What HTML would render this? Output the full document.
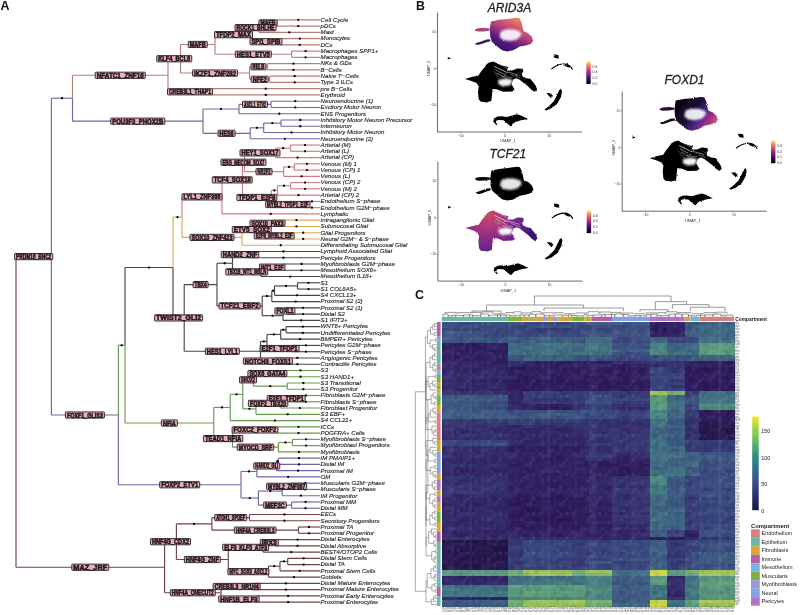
<!DOCTYPE html><html><head><meta charset="utf-8"><style>
*{margin:0;padding:0}
html,body{width:800px;height:615px;background:#fff;overflow:hidden}
svg{display:block;filter:blur(0.35px)}
text{font-family:"Liberation Sans",sans-serif}
.lf{font-style:italic;font-size:6.1px;fill:#1c1c1c;stroke:#1c1c1c;stroke-width:0.12px}
.bt{font-size:7px;fill:#1e1418;stroke:#1e1418;stroke-width:0.5px;text-anchor:middle;font-weight:bold}
.bx{fill:#e6b0b9;stroke:#1a1214;stroke-width:0.85}
.tk{font-size:3.4px;fill:#333}
.ax{font-size:3.9px;fill:#333}
.ttl{font-style:italic;font-size:12px;fill:#222;stroke:#222;stroke-width:0.3px}
.pl{font-weight:bold;font-size:12.4px;fill:#111}
.lg{font-size:5.5px;fill:#222}
</style></head><body>
<svg width="800" height="615" viewBox="0 0 800 615">
<defs>
<linearGradient id="gA" x1="0.2" y1="1" x2="0.8" y2="0">
 <stop offset="0" stop-color="#2a0c62"/><stop offset="0.3" stop-color="#5a1a82"/><stop offset="0.55" stop-color="#b03e7c"/><stop offset="0.8" stop-color="#e06a6a"/><stop offset="1" stop-color="#f0a45c"/></linearGradient>
<radialGradient id="gT" gradientUnits="userSpaceOnUse" cx="487" cy="222" r="48" fx="489" fy="213">
 <stop offset="0" stop-color="#cc4a64"/><stop offset="0.3" stop-color="#a8347a"/><stop offset="0.55" stop-color="#76288e"/><stop offset="1" stop-color="#361670"/></radialGradient>
<linearGradient id="gF" x1="0" y1="0.2" x2="1" y2="0.8">
 <stop offset="0" stop-color="#0a0410"/><stop offset="0.4" stop-color="#1a0a30"/><stop offset="0.62" stop-color="#4a2688"/><stop offset="0.82" stop-color="#a83482"/><stop offset="1" stop-color="#e8705e"/></linearGradient>
<linearGradient id="gL" x1="0" y1="1" x2="0" y2="0">
 <stop offset="0" stop-color="#000004"/><stop offset="0.3" stop-color="#4a107a"/><stop offset="0.6" stop-color="#c0407a"/><stop offset="0.85" stop-color="#f8955a"/><stop offset="1" stop-color="#fcf4b0"/></linearGradient>
<filter id="bl" x="-50%" y="-50%" width="200%" height="200%"><feGaussianBlur stdDeviation="1.0"/></filter>
 <filter id="rough" x="-5%" y="-5%" width="110%" height="110%"><feTurbulence type="fractalNoise" baseFrequency="0.9" numOctaves="2" seed="4" result="n"/><feDisplacementMap in="SourceGraphic" in2="n" scale="2.0" xChannelSelector="R" yChannelSelector="G"/></filter>
<filter id="hnoise" x="0" y="0" width="100%" height="100%" color-interpolation-filters="sRGB"><feTurbulence type="fractalNoise" baseFrequency="0.28 0.3" numOctaves="1" seed="9" result="t"/><feColorMatrix in="t" type="matrix" values="0 0 0 0 1  0 0 0 0 1  0 0 0 0 1  1.6 0 0 0 -0.8" result="w"/><feColorMatrix in="t" type="matrix" values="0 0 0 0 0  0 0 0 0 0  0 0 0 0 0  -1.6 0 0 0 0.8" result="b"/><feMerge><feMergeNode in="w"/><feMergeNode in="b"/></feMerge></filter>
<filter id="bl2" x="-50%" y="-50%" width="200%" height="200%"><feGaussianBlur stdDeviation="0.8"/></filter>
</defs>
<text x="0.4" y="9.7" class="pl">A</text>
<text x="416.1" y="9.75" class="pl">B</text>
<text x="415.0" y="298.7" class="pl">C</text>
<g stroke-width="1.15" stroke-linecap="butt"><line x1="277.00" y1="22.93" x2="277.00" y2="19.80" stroke="#b57e78"/>
<line x1="277.00" y1="19.80" x2="320.30" y2="19.80" stroke="#b57e78"/>
<line x1="277.00" y1="22.93" x2="277.00" y2="26.06" stroke="#b57e78"/>
<line x1="277.00" y1="26.06" x2="320.30" y2="26.06" stroke="#b57e78"/>
<line x1="259.00" y1="27.63" x2="259.00" y2="22.93" stroke="#b57e78"/>
<line x1="259.00" y1="22.93" x2="277.00" y2="22.93" stroke="#b57e78"/>
<line x1="259.00" y1="27.63" x2="259.00" y2="32.32" stroke="#b57e78"/>
<line x1="259.00" y1="32.32" x2="320.30" y2="32.32" stroke="#b57e78"/>
<line x1="280.00" y1="41.72" x2="280.00" y2="38.59" stroke="#b57e78"/>
<line x1="280.00" y1="38.59" x2="320.30" y2="38.59" stroke="#b57e78"/>
<line x1="280.00" y1="41.72" x2="280.00" y2="44.85" stroke="#b57e78"/>
<line x1="280.00" y1="44.85" x2="320.30" y2="44.85" stroke="#b57e78"/>
<line x1="252.00" y1="34.67" x2="252.00" y2="27.63" stroke="#b57e78"/>
<line x1="252.00" y1="27.63" x2="259.00" y2="27.63" stroke="#b57e78"/>
<line x1="252.00" y1="34.67" x2="252.00" y2="41.72" stroke="#b57e78"/>
<line x1="252.00" y1="41.72" x2="280.00" y2="41.72" stroke="#b57e78"/>
<line x1="291.60" y1="54.24" x2="291.60" y2="51.11" stroke="#b57e78"/>
<line x1="291.60" y1="51.11" x2="320.30" y2="51.11" stroke="#b57e78"/>
<line x1="291.60" y1="54.24" x2="291.60" y2="57.37" stroke="#b57e78"/>
<line x1="291.60" y1="57.37" x2="320.30" y2="57.37" stroke="#b57e78"/>
<line x1="215.00" y1="44.46" x2="215.00" y2="34.67" stroke="#b57e78"/>
<line x1="215.00" y1="34.67" x2="252.00" y2="34.67" stroke="#b57e78"/>
<line x1="215.00" y1="44.46" x2="215.00" y2="54.24" stroke="#b57e78"/>
<line x1="215.00" y1="54.24" x2="291.60" y2="54.24" stroke="#b57e78"/>
<line x1="267.40" y1="66.77" x2="267.40" y2="63.63" stroke="#b57e78"/>
<line x1="267.40" y1="63.63" x2="320.30" y2="63.63" stroke="#b57e78"/>
<line x1="267.40" y1="66.77" x2="267.40" y2="69.90" stroke="#b57e78"/>
<line x1="267.40" y1="69.90" x2="320.30" y2="69.90" stroke="#b57e78"/>
<line x1="269.80" y1="79.29" x2="269.80" y2="76.16" stroke="#b57e78"/>
<line x1="269.80" y1="76.16" x2="320.30" y2="76.16" stroke="#b57e78"/>
<line x1="269.80" y1="79.29" x2="269.80" y2="82.42" stroke="#b57e78"/>
<line x1="269.80" y1="82.42" x2="320.30" y2="82.42" stroke="#b57e78"/>
<line x1="249.60" y1="73.03" x2="249.60" y2="66.77" stroke="#b57e78"/>
<line x1="249.60" y1="66.77" x2="267.40" y2="66.77" stroke="#b57e78"/>
<line x1="249.60" y1="73.03" x2="249.60" y2="79.29" stroke="#b57e78"/>
<line x1="249.60" y1="79.29" x2="269.80" y2="79.29" stroke="#b57e78"/>
<line x1="180.50" y1="58.74" x2="180.50" y2="44.46" stroke="#b57e78"/>
<line x1="180.50" y1="44.46" x2="215.00" y2="44.46" stroke="#b57e78"/>
<line x1="180.50" y1="58.74" x2="180.50" y2="73.03" stroke="#b57e78"/>
<line x1="180.50" y1="73.03" x2="249.60" y2="73.03" stroke="#b57e78"/>
<line x1="212.00" y1="91.81" x2="212.00" y2="88.68" stroke="#b57e78"/>
<line x1="212.00" y1="88.68" x2="320.30" y2="88.68" stroke="#b57e78"/>
<line x1="212.00" y1="91.81" x2="212.00" y2="94.94" stroke="#b57e78"/>
<line x1="212.00" y1="94.94" x2="320.30" y2="94.94" stroke="#b57e78"/>
<line x1="168.00" y1="75.28" x2="168.00" y2="58.74" stroke="#b57e78"/>
<line x1="168.00" y1="58.74" x2="180.50" y2="58.74" stroke="#b57e78"/>
<line x1="168.00" y1="75.28" x2="168.00" y2="91.81" stroke="#b57e78"/>
<line x1="168.00" y1="91.81" x2="212.00" y2="91.81" stroke="#b57e78"/>
<line x1="271.00" y1="104.34" x2="271.00" y2="101.21" stroke="#7464a8"/>
<line x1="271.00" y1="101.21" x2="320.30" y2="101.21" stroke="#7464a8"/>
<line x1="271.00" y1="104.34" x2="271.00" y2="107.47" stroke="#7464a8"/>
<line x1="271.00" y1="107.47" x2="320.30" y2="107.47" stroke="#7464a8"/>
<line x1="239.00" y1="109.03" x2="239.00" y2="104.34" stroke="#7464a8"/>
<line x1="239.00" y1="104.34" x2="271.00" y2="104.34" stroke="#7464a8"/>
<line x1="239.00" y1="109.03" x2="239.00" y2="113.73" stroke="#7464a8"/>
<line x1="239.00" y1="113.73" x2="320.30" y2="113.73" stroke="#7464a8"/>
<line x1="281.00" y1="123.12" x2="281.00" y2="119.99" stroke="#7464a8"/>
<line x1="281.00" y1="119.99" x2="320.30" y2="119.99" stroke="#7464a8"/>
<line x1="281.00" y1="123.12" x2="281.00" y2="126.25" stroke="#7464a8"/>
<line x1="281.00" y1="126.25" x2="320.30" y2="126.25" stroke="#7464a8"/>
<line x1="263.70" y1="127.82" x2="263.70" y2="123.12" stroke="#7464a8"/>
<line x1="263.70" y1="123.12" x2="281.00" y2="123.12" stroke="#7464a8"/>
<line x1="263.70" y1="127.82" x2="263.70" y2="132.52" stroke="#7464a8"/>
<line x1="263.70" y1="132.52" x2="320.30" y2="132.52" stroke="#7464a8"/>
<line x1="250.20" y1="133.30" x2="250.20" y2="127.82" stroke="#7464a8"/>
<line x1="250.20" y1="127.82" x2="263.70" y2="127.82" stroke="#7464a8"/>
<line x1="250.20" y1="133.30" x2="250.20" y2="138.78" stroke="#7464a8"/>
<line x1="250.20" y1="138.78" x2="320.30" y2="138.78" stroke="#7464a8"/>
<line x1="203.00" y1="121.17" x2="203.00" y2="109.03" stroke="#7464a8"/>
<line x1="203.00" y1="109.03" x2="239.00" y2="109.03" stroke="#7464a8"/>
<line x1="203.00" y1="121.17" x2="203.00" y2="133.30" stroke="#7464a8"/>
<line x1="203.00" y1="133.30" x2="250.20" y2="133.30" stroke="#7464a8"/>
<line x1="72.50" y1="98.22" x2="72.50" y2="75.28" stroke="#b57e78"/>
<line x1="72.50" y1="75.28" x2="168.00" y2="75.28" stroke="#b57e78"/>
<line x1="72.50" y1="98.22" x2="72.50" y2="121.17" stroke="#7464a8"/>
<line x1="72.50" y1="121.17" x2="203.00" y2="121.17" stroke="#7464a8"/>
<line x1="290.60" y1="148.17" x2="290.60" y2="145.04" stroke="#cf7c82"/>
<line x1="290.60" y1="145.04" x2="320.30" y2="145.04" stroke="#cf7c82"/>
<line x1="290.60" y1="148.17" x2="290.60" y2="151.30" stroke="#cf7c82"/>
<line x1="290.60" y1="151.30" x2="320.30" y2="151.30" stroke="#cf7c82"/>
<line x1="275.60" y1="152.87" x2="275.60" y2="148.17" stroke="#cf7c82"/>
<line x1="275.60" y1="148.17" x2="290.60" y2="148.17" stroke="#cf7c82"/>
<line x1="275.60" y1="152.87" x2="275.60" y2="157.56" stroke="#cf7c82"/>
<line x1="275.60" y1="157.56" x2="320.30" y2="157.56" stroke="#cf7c82"/>
<line x1="294.40" y1="166.96" x2="294.40" y2="163.83" stroke="#cf7c82"/>
<line x1="294.40" y1="163.83" x2="320.30" y2="163.83" stroke="#cf7c82"/>
<line x1="294.40" y1="166.96" x2="294.40" y2="170.09" stroke="#cf7c82"/>
<line x1="294.40" y1="170.09" x2="320.30" y2="170.09" stroke="#cf7c82"/>
<line x1="283.60" y1="171.65" x2="283.60" y2="166.96" stroke="#cf7c82"/>
<line x1="283.60" y1="166.96" x2="294.40" y2="166.96" stroke="#cf7c82"/>
<line x1="283.60" y1="171.65" x2="283.60" y2="176.35" stroke="#cf7c82"/>
<line x1="283.60" y1="176.35" x2="320.30" y2="176.35" stroke="#cf7c82"/>
<line x1="244.40" y1="162.26" x2="244.40" y2="152.87" stroke="#cf7c82"/>
<line x1="244.40" y1="152.87" x2="275.60" y2="152.87" stroke="#cf7c82"/>
<line x1="244.40" y1="162.26" x2="244.40" y2="171.65" stroke="#cf7c82"/>
<line x1="244.40" y1="171.65" x2="283.60" y2="171.65" stroke="#cf7c82"/>
<line x1="290.60" y1="185.74" x2="290.60" y2="182.61" stroke="#cf7c82"/>
<line x1="290.60" y1="182.61" x2="320.30" y2="182.61" stroke="#cf7c82"/>
<line x1="290.60" y1="185.74" x2="290.60" y2="188.87" stroke="#cf7c82"/>
<line x1="290.60" y1="188.87" x2="320.30" y2="188.87" stroke="#cf7c82"/>
<line x1="277.50" y1="190.44" x2="277.50" y2="185.74" stroke="#cf7c82"/>
<line x1="277.50" y1="185.74" x2="290.60" y2="185.74" stroke="#cf7c82"/>
<line x1="277.50" y1="190.44" x2="277.50" y2="195.14" stroke="#cf7c82"/>
<line x1="277.50" y1="195.14" x2="320.30" y2="195.14" stroke="#cf7c82"/>
<line x1="304.35" y1="204.53" x2="304.35" y2="201.40" stroke="#cf7c82"/>
<line x1="304.35" y1="201.40" x2="320.30" y2="201.40" stroke="#cf7c82"/>
<line x1="304.35" y1="204.53" x2="304.35" y2="207.66" stroke="#cf7c82"/>
<line x1="304.35" y1="207.66" x2="320.30" y2="207.66" stroke="#cf7c82"/>
<line x1="271.25" y1="197.48" x2="271.25" y2="190.44" stroke="#cf7c82"/>
<line x1="271.25" y1="190.44" x2="277.50" y2="190.44" stroke="#cf7c82"/>
<line x1="271.25" y1="197.48" x2="271.25" y2="204.53" stroke="#cf7c82"/>
<line x1="271.25" y1="204.53" x2="304.35" y2="204.53" stroke="#cf7c82"/>
<line x1="242.50" y1="179.87" x2="242.50" y2="162.26" stroke="#cf7c82"/>
<line x1="242.50" y1="162.26" x2="244.40" y2="162.26" stroke="#cf7c82"/>
<line x1="242.50" y1="179.87" x2="242.50" y2="197.48" stroke="#cf7c82"/>
<line x1="242.50" y1="197.48" x2="271.25" y2="197.48" stroke="#cf7c82"/>
<line x1="222.00" y1="196.90" x2="222.00" y2="179.87" stroke="#cf7c82"/>
<line x1="222.00" y1="179.87" x2="242.50" y2="179.87" stroke="#cf7c82"/>
<line x1="222.00" y1="196.90" x2="222.00" y2="213.92" stroke="#cf7c82"/>
<line x1="222.00" y1="213.92" x2="320.30" y2="213.92" stroke="#cf7c82"/>
<line x1="273.50" y1="223.31" x2="273.50" y2="220.18" stroke="#dcaa55"/>
<line x1="273.50" y1="220.18" x2="320.30" y2="220.18" stroke="#dcaa55"/>
<line x1="273.50" y1="223.31" x2="273.50" y2="226.45" stroke="#dcaa55"/>
<line x1="273.50" y1="226.45" x2="320.30" y2="226.45" stroke="#dcaa55"/>
<line x1="286.90" y1="235.84" x2="286.90" y2="232.71" stroke="#dcaa55"/>
<line x1="286.90" y1="232.71" x2="320.30" y2="232.71" stroke="#dcaa55"/>
<line x1="286.90" y1="235.84" x2="286.90" y2="238.97" stroke="#dcaa55"/>
<line x1="286.90" y1="238.97" x2="320.30" y2="238.97" stroke="#dcaa55"/>
<line x1="261.50" y1="229.58" x2="261.50" y2="223.31" stroke="#dcaa55"/>
<line x1="261.50" y1="223.31" x2="273.50" y2="223.31" stroke="#dcaa55"/>
<line x1="261.50" y1="229.58" x2="261.50" y2="235.84" stroke="#dcaa55"/>
<line x1="261.50" y1="235.84" x2="286.90" y2="235.84" stroke="#dcaa55"/>
<line x1="242.00" y1="237.40" x2="242.00" y2="229.58" stroke="#dcaa55"/>
<line x1="242.00" y1="229.58" x2="261.50" y2="229.58" stroke="#dcaa55"/>
<line x1="242.00" y1="237.40" x2="242.00" y2="245.23" stroke="#dcaa55"/>
<line x1="242.00" y1="245.23" x2="320.30" y2="245.23" stroke="#dcaa55"/>
<line x1="182.00" y1="217.15" x2="182.00" y2="196.90" stroke="#cf7c82"/>
<line x1="182.00" y1="196.90" x2="222.00" y2="196.90" stroke="#cf7c82"/>
<line x1="182.00" y1="217.15" x2="182.00" y2="237.40" stroke="#dcaa55"/>
<line x1="182.00" y1="237.40" x2="242.00" y2="237.40" stroke="#dcaa55"/>
<line x1="247.50" y1="254.62" x2="247.50" y2="251.49" stroke="#464646"/>
<line x1="247.50" y1="251.49" x2="320.30" y2="251.49" stroke="#464646"/>
<line x1="247.50" y1="254.62" x2="247.50" y2="257.76" stroke="#464646"/>
<line x1="247.50" y1="257.76" x2="320.30" y2="257.76" stroke="#464646"/>
<line x1="283.50" y1="267.15" x2="283.50" y2="264.02" stroke="#464646"/>
<line x1="283.50" y1="264.02" x2="320.30" y2="264.02" stroke="#464646"/>
<line x1="283.50" y1="267.15" x2="283.50" y2="270.28" stroke="#464646"/>
<line x1="283.50" y1="270.28" x2="320.30" y2="270.28" stroke="#464646"/>
<line x1="261.00" y1="271.85" x2="261.00" y2="267.15" stroke="#464646"/>
<line x1="261.00" y1="267.15" x2="283.50" y2="267.15" stroke="#464646"/>
<line x1="261.00" y1="271.85" x2="261.00" y2="276.54" stroke="#464646"/>
<line x1="261.00" y1="276.54" x2="320.30" y2="276.54" stroke="#464646"/>
<line x1="232.50" y1="263.24" x2="232.50" y2="254.62" stroke="#464646"/>
<line x1="232.50" y1="254.62" x2="247.50" y2="254.62" stroke="#464646"/>
<line x1="232.50" y1="263.24" x2="232.50" y2="271.85" stroke="#464646"/>
<line x1="232.50" y1="271.85" x2="261.00" y2="271.85" stroke="#464646"/>
<line x1="297.50" y1="285.93" x2="297.50" y2="282.80" stroke="#464646"/>
<line x1="297.50" y1="282.80" x2="320.30" y2="282.80" stroke="#464646"/>
<line x1="297.50" y1="285.93" x2="297.50" y2="289.07" stroke="#464646"/>
<line x1="297.50" y1="289.07" x2="320.30" y2="289.07" stroke="#464646"/>
<line x1="274.50" y1="290.63" x2="274.50" y2="285.93" stroke="#464646"/>
<line x1="274.50" y1="285.93" x2="297.50" y2="285.93" stroke="#464646"/>
<line x1="274.50" y1="290.63" x2="274.50" y2="295.33" stroke="#464646"/>
<line x1="274.50" y1="295.33" x2="320.30" y2="295.33" stroke="#464646"/>
<line x1="271.80" y1="296.11" x2="271.80" y2="290.63" stroke="#464646"/>
<line x1="271.80" y1="290.63" x2="274.50" y2="290.63" stroke="#464646"/>
<line x1="271.80" y1="296.11" x2="271.80" y2="301.59" stroke="#464646"/>
<line x1="271.80" y1="301.59" x2="320.30" y2="301.59" stroke="#464646"/>
<line x1="286.80" y1="310.98" x2="286.80" y2="307.85" stroke="#464646"/>
<line x1="286.80" y1="307.85" x2="320.30" y2="307.85" stroke="#464646"/>
<line x1="286.80" y1="310.98" x2="286.80" y2="314.11" stroke="#464646"/>
<line x1="286.80" y1="314.11" x2="320.30" y2="314.11" stroke="#464646"/>
<line x1="283.00" y1="315.68" x2="283.00" y2="310.98" stroke="#464646"/>
<line x1="283.00" y1="310.98" x2="286.80" y2="310.98" stroke="#464646"/>
<line x1="283.00" y1="315.68" x2="283.00" y2="320.38" stroke="#464646"/>
<line x1="283.00" y1="320.38" x2="320.30" y2="320.38" stroke="#464646"/>
<line x1="262.20" y1="305.90" x2="262.20" y2="296.11" stroke="#464646"/>
<line x1="262.20" y1="296.11" x2="271.80" y2="296.11" stroke="#464646"/>
<line x1="262.20" y1="305.90" x2="262.20" y2="315.68" stroke="#464646"/>
<line x1="262.20" y1="315.68" x2="283.00" y2="315.68" stroke="#464646"/>
<line x1="217.00" y1="284.57" x2="217.00" y2="263.24" stroke="#464646"/>
<line x1="217.00" y1="263.24" x2="232.50" y2="263.24" stroke="#464646"/>
<line x1="217.00" y1="284.57" x2="217.00" y2="305.90" stroke="#464646"/>
<line x1="217.00" y1="305.90" x2="262.20" y2="305.90" stroke="#464646"/>
<line x1="286.10" y1="329.77" x2="286.10" y2="326.64" stroke="#464646"/>
<line x1="286.10" y1="326.64" x2="320.30" y2="326.64" stroke="#464646"/>
<line x1="286.10" y1="329.77" x2="286.10" y2="332.90" stroke="#464646"/>
<line x1="286.10" y1="332.90" x2="320.30" y2="332.90" stroke="#464646"/>
<line x1="280.70" y1="334.47" x2="280.70" y2="329.77" stroke="#464646"/>
<line x1="280.70" y1="329.77" x2="286.10" y2="329.77" stroke="#464646"/>
<line x1="280.70" y1="334.47" x2="280.70" y2="339.16" stroke="#464646"/>
<line x1="280.70" y1="339.16" x2="320.30" y2="339.16" stroke="#464646"/>
<line x1="292.20" y1="348.55" x2="292.20" y2="345.42" stroke="#464646"/>
<line x1="292.20" y1="345.42" x2="320.30" y2="345.42" stroke="#464646"/>
<line x1="292.20" y1="348.55" x2="292.20" y2="351.69" stroke="#464646"/>
<line x1="292.20" y1="351.69" x2="320.30" y2="351.69" stroke="#464646"/>
<line x1="267.00" y1="341.51" x2="267.00" y2="334.47" stroke="#464646"/>
<line x1="267.00" y1="334.47" x2="280.70" y2="334.47" stroke="#464646"/>
<line x1="267.00" y1="341.51" x2="267.00" y2="348.55" stroke="#464646"/>
<line x1="267.00" y1="348.55" x2="292.20" y2="348.55" stroke="#464646"/>
<line x1="275.20" y1="361.08" x2="275.20" y2="357.95" stroke="#464646"/>
<line x1="275.20" y1="357.95" x2="320.30" y2="357.95" stroke="#464646"/>
<line x1="275.20" y1="361.08" x2="275.20" y2="364.21" stroke="#464646"/>
<line x1="275.20" y1="364.21" x2="320.30" y2="364.21" stroke="#464646"/>
<line x1="260.50" y1="351.29" x2="260.50" y2="341.51" stroke="#464646"/>
<line x1="260.50" y1="341.51" x2="267.00" y2="341.51" stroke="#464646"/>
<line x1="260.50" y1="351.29" x2="260.50" y2="361.08" stroke="#464646"/>
<line x1="260.50" y1="361.08" x2="275.20" y2="361.08" stroke="#464646"/>
<line x1="184.20" y1="317.93" x2="184.20" y2="284.57" stroke="#464646"/>
<line x1="184.20" y1="284.57" x2="217.00" y2="284.57" stroke="#464646"/>
<line x1="184.20" y1="317.93" x2="184.20" y2="351.29" stroke="#464646"/>
<line x1="184.20" y1="351.29" x2="260.50" y2="351.29" stroke="#464646"/>
<line x1="173.00" y1="267.54" x2="173.00" y2="217.15" stroke="#dcaa55"/>
<line x1="173.00" y1="217.15" x2="182.00" y2="217.15" stroke="#dcaa55"/>
<line x1="173.00" y1="267.54" x2="173.00" y2="317.93" stroke="#464646"/>
<line x1="173.00" y1="317.93" x2="184.20" y2="317.93" stroke="#464646"/>
<line x1="281.50" y1="373.60" x2="281.50" y2="370.47" stroke="#6a9a52"/>
<line x1="281.50" y1="370.47" x2="320.30" y2="370.47" stroke="#6a9a52"/>
<line x1="281.50" y1="373.60" x2="281.50" y2="376.73" stroke="#6a9a52"/>
<line x1="281.50" y1="376.73" x2="320.30" y2="376.73" stroke="#6a9a52"/>
<line x1="287.25" y1="386.13" x2="287.25" y2="383.00" stroke="#6a9a52"/>
<line x1="287.25" y1="383.00" x2="320.30" y2="383.00" stroke="#6a9a52"/>
<line x1="287.25" y1="386.13" x2="287.25" y2="389.26" stroke="#6a9a52"/>
<line x1="287.25" y1="389.26" x2="320.30" y2="389.26" stroke="#6a9a52"/>
<line x1="253.30" y1="379.86" x2="253.30" y2="373.60" stroke="#6a9a52"/>
<line x1="253.30" y1="373.60" x2="281.50" y2="373.60" stroke="#6a9a52"/>
<line x1="253.30" y1="379.86" x2="253.30" y2="386.13" stroke="#6a9a52"/>
<line x1="253.30" y1="386.13" x2="287.25" y2="386.13" stroke="#6a9a52"/>
<line x1="292.20" y1="398.65" x2="292.20" y2="395.52" stroke="#6a9a52"/>
<line x1="292.20" y1="395.52" x2="320.30" y2="395.52" stroke="#6a9a52"/>
<line x1="292.20" y1="398.65" x2="292.20" y2="401.78" stroke="#6a9a52"/>
<line x1="292.20" y1="401.78" x2="320.30" y2="401.78" stroke="#6a9a52"/>
<line x1="280.20" y1="403.35" x2="280.20" y2="398.65" stroke="#6a9a52"/>
<line x1="280.20" y1="398.65" x2="292.20" y2="398.65" stroke="#6a9a52"/>
<line x1="280.20" y1="403.35" x2="280.20" y2="408.04" stroke="#6a9a52"/>
<line x1="280.20" y1="408.04" x2="320.30" y2="408.04" stroke="#6a9a52"/>
<line x1="256.00" y1="408.83" x2="256.00" y2="403.35" stroke="#6a9a52"/>
<line x1="256.00" y1="403.35" x2="280.20" y2="403.35" stroke="#6a9a52"/>
<line x1="256.00" y1="408.83" x2="256.00" y2="414.31" stroke="#6a9a52"/>
<line x1="256.00" y1="414.31" x2="320.30" y2="414.31" stroke="#6a9a52"/>
<line x1="242.80" y1="394.35" x2="242.80" y2="379.86" stroke="#6a9a52"/>
<line x1="242.80" y1="379.86" x2="253.30" y2="379.86" stroke="#6a9a52"/>
<line x1="242.80" y1="394.35" x2="242.80" y2="408.83" stroke="#6a9a52"/>
<line x1="242.80" y1="408.83" x2="256.00" y2="408.83" stroke="#6a9a52"/>
<line x1="230.25" y1="407.46" x2="230.25" y2="394.35" stroke="#6a9a52"/>
<line x1="230.25" y1="394.35" x2="242.80" y2="394.35" stroke="#6a9a52"/>
<line x1="230.25" y1="407.46" x2="230.25" y2="420.57" stroke="#6a9a52"/>
<line x1="230.25" y1="420.57" x2="320.30" y2="420.57" stroke="#6a9a52"/>
<line x1="277.50" y1="429.96" x2="277.50" y2="426.83" stroke="#6a9a52"/>
<line x1="277.50" y1="426.83" x2="320.30" y2="426.83" stroke="#6a9a52"/>
<line x1="277.50" y1="429.96" x2="277.50" y2="433.09" stroke="#6a9a52"/>
<line x1="277.50" y1="433.09" x2="320.30" y2="433.09" stroke="#6a9a52"/>
<line x1="292.50" y1="442.49" x2="292.50" y2="439.35" stroke="#6a9a52"/>
<line x1="292.50" y1="439.35" x2="320.30" y2="439.35" stroke="#6a9a52"/>
<line x1="292.50" y1="442.49" x2="292.50" y2="445.62" stroke="#6a9a52"/>
<line x1="292.50" y1="445.62" x2="320.30" y2="445.62" stroke="#6a9a52"/>
<line x1="278.40" y1="447.18" x2="278.40" y2="442.49" stroke="#6a9a52"/>
<line x1="278.40" y1="442.49" x2="292.50" y2="442.49" stroke="#6a9a52"/>
<line x1="278.40" y1="447.18" x2="278.40" y2="451.88" stroke="#6a9a52"/>
<line x1="278.40" y1="451.88" x2="320.30" y2="451.88" stroke="#6a9a52"/>
<line x1="232.50" y1="438.57" x2="232.50" y2="429.96" stroke="#6a9a52"/>
<line x1="232.50" y1="429.96" x2="277.50" y2="429.96" stroke="#6a9a52"/>
<line x1="232.50" y1="438.57" x2="232.50" y2="447.18" stroke="#6a9a52"/>
<line x1="232.50" y1="447.18" x2="278.40" y2="447.18" stroke="#6a9a52"/>
<line x1="213.75" y1="423.01" x2="213.75" y2="407.46" stroke="#6a9a52"/>
<line x1="213.75" y1="407.46" x2="230.25" y2="407.46" stroke="#6a9a52"/>
<line x1="213.75" y1="423.01" x2="213.75" y2="438.57" stroke="#6a9a52"/>
<line x1="213.75" y1="438.57" x2="232.50" y2="438.57" stroke="#6a9a52"/>
<line x1="125.00" y1="345.28" x2="125.00" y2="267.54" stroke="#464646"/>
<line x1="125.00" y1="267.54" x2="173.00" y2="267.54" stroke="#464646"/>
<line x1="125.00" y1="345.28" x2="125.00" y2="423.01" stroke="#6a9a52"/>
<line x1="125.00" y1="423.01" x2="213.75" y2="423.01" stroke="#6a9a52"/>
<line x1="278.40" y1="461.27" x2="278.40" y2="458.14" stroke="#7464a8"/>
<line x1="278.40" y1="458.14" x2="320.30" y2="458.14" stroke="#7464a8"/>
<line x1="278.40" y1="461.27" x2="278.40" y2="464.40" stroke="#7464a8"/>
<line x1="278.40" y1="464.40" x2="320.30" y2="464.40" stroke="#7464a8"/>
<line x1="276.60" y1="465.97" x2="276.60" y2="461.27" stroke="#7464a8"/>
<line x1="276.60" y1="461.27" x2="278.40" y2="461.27" stroke="#7464a8"/>
<line x1="276.60" y1="465.97" x2="276.60" y2="470.66" stroke="#7464a8"/>
<line x1="276.60" y1="470.66" x2="320.30" y2="470.66" stroke="#7464a8"/>
<line x1="256.90" y1="471.45" x2="256.90" y2="465.97" stroke="#7464a8"/>
<line x1="256.90" y1="465.97" x2="276.60" y2="465.97" stroke="#7464a8"/>
<line x1="256.90" y1="471.45" x2="256.90" y2="476.93" stroke="#7464a8"/>
<line x1="256.90" y1="476.93" x2="320.30" y2="476.93" stroke="#7464a8"/>
<line x1="291.00" y1="486.32" x2="291.00" y2="483.19" stroke="#7464a8"/>
<line x1="291.00" y1="483.19" x2="320.30" y2="483.19" stroke="#7464a8"/>
<line x1="291.00" y1="486.32" x2="291.00" y2="489.45" stroke="#7464a8"/>
<line x1="291.00" y1="489.45" x2="320.30" y2="489.45" stroke="#7464a8"/>
<line x1="282.20" y1="491.02" x2="282.20" y2="486.32" stroke="#7464a8"/>
<line x1="282.20" y1="486.32" x2="291.00" y2="486.32" stroke="#7464a8"/>
<line x1="282.20" y1="491.02" x2="282.20" y2="495.71" stroke="#7464a8"/>
<line x1="282.20" y1="495.71" x2="320.30" y2="495.71" stroke="#7464a8"/>
<line x1="291.60" y1="505.11" x2="291.60" y2="501.97" stroke="#7464a8"/>
<line x1="291.60" y1="501.97" x2="320.30" y2="501.97" stroke="#7464a8"/>
<line x1="291.60" y1="505.11" x2="291.60" y2="508.24" stroke="#7464a8"/>
<line x1="291.60" y1="508.24" x2="320.30" y2="508.24" stroke="#7464a8"/>
<line x1="258.40" y1="498.06" x2="258.40" y2="491.02" stroke="#7464a8"/>
<line x1="258.40" y1="491.02" x2="282.20" y2="491.02" stroke="#7464a8"/>
<line x1="258.40" y1="498.06" x2="258.40" y2="505.11" stroke="#7464a8"/>
<line x1="258.40" y1="505.11" x2="291.60" y2="505.11" stroke="#7464a8"/>
<line x1="241.00" y1="484.75" x2="241.00" y2="471.45" stroke="#7464a8"/>
<line x1="241.00" y1="471.45" x2="256.90" y2="471.45" stroke="#7464a8"/>
<line x1="241.00" y1="484.75" x2="241.00" y2="498.06" stroke="#7464a8"/>
<line x1="241.00" y1="498.06" x2="258.40" y2="498.06" stroke="#7464a8"/>
<line x1="118.40" y1="415.02" x2="118.40" y2="345.28" stroke="#6a9a52"/>
<line x1="118.40" y1="345.28" x2="125.00" y2="345.28" stroke="#6a9a52"/>
<line x1="118.40" y1="415.02" x2="118.40" y2="484.75" stroke="#7464a8"/>
<line x1="118.40" y1="484.75" x2="241.00" y2="484.75" stroke="#7464a8"/>
<line x1="51.40" y1="256.62" x2="51.40" y2="98.22" stroke="#7464a8"/>
<line x1="51.40" y1="98.22" x2="72.50" y2="98.22" stroke="#7464a8"/>
<line x1="51.40" y1="256.62" x2="51.40" y2="415.02" stroke="#7464a8"/>
<line x1="51.40" y1="415.02" x2="118.40" y2="415.02" stroke="#7464a8"/>
<line x1="249.50" y1="517.63" x2="249.50" y2="514.50" stroke="#704242"/>
<line x1="249.50" y1="514.50" x2="320.30" y2="514.50" stroke="#704242"/>
<line x1="249.50" y1="517.63" x2="249.50" y2="520.76" stroke="#704242"/>
<line x1="249.50" y1="520.76" x2="320.30" y2="520.76" stroke="#704242"/>
<line x1="298.50" y1="530.15" x2="298.50" y2="527.02" stroke="#704242"/>
<line x1="298.50" y1="527.02" x2="320.30" y2="527.02" stroke="#704242"/>
<line x1="298.50" y1="530.15" x2="298.50" y2="533.28" stroke="#704242"/>
<line x1="298.50" y1="533.28" x2="320.30" y2="533.28" stroke="#704242"/>
<line x1="211.90" y1="523.89" x2="211.90" y2="517.63" stroke="#704242"/>
<line x1="211.90" y1="517.63" x2="249.50" y2="517.63" stroke="#704242"/>
<line x1="211.90" y1="523.89" x2="211.90" y2="530.15" stroke="#704242"/>
<line x1="211.90" y1="530.15" x2="298.50" y2="530.15" stroke="#704242"/>
<line x1="275.60" y1="542.68" x2="275.60" y2="539.55" stroke="#704242"/>
<line x1="275.60" y1="539.55" x2="320.30" y2="539.55" stroke="#704242"/>
<line x1="275.60" y1="542.68" x2="275.60" y2="545.81" stroke="#704242"/>
<line x1="275.60" y1="545.81" x2="320.30" y2="545.81" stroke="#704242"/>
<line x1="263.00" y1="547.37" x2="263.00" y2="542.68" stroke="#704242"/>
<line x1="263.00" y1="542.68" x2="275.60" y2="542.68" stroke="#704242"/>
<line x1="263.00" y1="547.37" x2="263.00" y2="552.07" stroke="#704242"/>
<line x1="263.00" y1="552.07" x2="320.30" y2="552.07" stroke="#704242"/>
<line x1="287.70" y1="561.46" x2="287.70" y2="558.33" stroke="#704242"/>
<line x1="287.70" y1="558.33" x2="320.30" y2="558.33" stroke="#704242"/>
<line x1="287.70" y1="561.46" x2="287.70" y2="564.59" stroke="#704242"/>
<line x1="287.70" y1="564.59" x2="320.30" y2="564.59" stroke="#704242"/>
<line x1="280.00" y1="566.16" x2="280.00" y2="561.46" stroke="#704242"/>
<line x1="280.00" y1="561.46" x2="287.70" y2="561.46" stroke="#704242"/>
<line x1="280.00" y1="566.16" x2="280.00" y2="570.86" stroke="#704242"/>
<line x1="280.00" y1="570.86" x2="320.30" y2="570.86" stroke="#704242"/>
<line x1="268.50" y1="571.64" x2="268.50" y2="566.16" stroke="#704242"/>
<line x1="268.50" y1="566.16" x2="280.00" y2="566.16" stroke="#704242"/>
<line x1="268.50" y1="571.64" x2="268.50" y2="577.12" stroke="#704242"/>
<line x1="268.50" y1="577.12" x2="320.30" y2="577.12" stroke="#704242"/>
<line x1="228.30" y1="559.51" x2="228.30" y2="547.37" stroke="#704242"/>
<line x1="228.30" y1="547.37" x2="263.00" y2="547.37" stroke="#704242"/>
<line x1="228.30" y1="559.51" x2="228.30" y2="571.64" stroke="#704242"/>
<line x1="228.30" y1="571.64" x2="268.50" y2="571.64" stroke="#704242"/>
<line x1="176.40" y1="541.70" x2="176.40" y2="523.89" stroke="#704242"/>
<line x1="176.40" y1="523.89" x2="211.90" y2="523.89" stroke="#704242"/>
<line x1="176.40" y1="541.70" x2="176.40" y2="559.51" stroke="#704242"/>
<line x1="176.40" y1="559.51" x2="228.30" y2="559.51" stroke="#704242"/>
<line x1="252.20" y1="586.51" x2="252.20" y2="583.38" stroke="#704242"/>
<line x1="252.20" y1="583.38" x2="320.30" y2="583.38" stroke="#704242"/>
<line x1="252.20" y1="586.51" x2="252.20" y2="589.64" stroke="#704242"/>
<line x1="252.20" y1="589.64" x2="320.30" y2="589.64" stroke="#704242"/>
<line x1="256.80" y1="599.03" x2="256.80" y2="595.90" stroke="#704242"/>
<line x1="256.80" y1="595.90" x2="320.30" y2="595.90" stroke="#704242"/>
<line x1="256.80" y1="599.03" x2="256.80" y2="602.17" stroke="#704242"/>
<line x1="256.80" y1="602.17" x2="320.30" y2="602.17" stroke="#704242"/>
<line x1="221.00" y1="592.77" x2="221.00" y2="586.51" stroke="#704242"/>
<line x1="221.00" y1="586.51" x2="252.20" y2="586.51" stroke="#704242"/>
<line x1="221.00" y1="592.77" x2="221.00" y2="599.03" stroke="#704242"/>
<line x1="221.00" y1="599.03" x2="256.80" y2="599.03" stroke="#704242"/>
<line x1="164.60" y1="567.24" x2="164.60" y2="541.70" stroke="#704242"/>
<line x1="164.60" y1="541.70" x2="176.40" y2="541.70" stroke="#704242"/>
<line x1="164.60" y1="567.24" x2="164.60" y2="592.77" stroke="#704242"/>
<line x1="164.60" y1="592.77" x2="221.00" y2="592.77" stroke="#704242"/>
<line x1="16.00" y1="411.93" x2="16.00" y2="256.62" stroke="#704242"/>
<line x1="16.00" y1="256.62" x2="51.40" y2="256.62" stroke="#704242"/>
<line x1="16.00" y1="411.93" x2="16.00" y2="567.24" stroke="#704242"/>
<line x1="16.00" y1="567.24" x2="164.60" y2="567.24" stroke="#704242"/>
<circle cx="298.25" cy="19.80" r="1.15"/>
<circle cx="298.25" cy="26.06" r="1.15"/>
<circle cx="289.25" cy="32.32" r="1.15"/>
<circle cx="299.75" cy="38.59" r="1.15"/>
<circle cx="299.75" cy="44.85" r="1.15"/>
<circle cx="305.55" cy="51.11" r="1.15"/>
<circle cx="305.55" cy="57.37" r="1.15"/>
<circle cx="293.45" cy="63.63" r="1.15"/>
<circle cx="293.45" cy="69.90" r="1.15"/>
<circle cx="294.65" cy="76.16" r="1.15"/>
<circle cx="294.65" cy="82.42" r="1.15"/>
<circle cx="265.75" cy="88.68" r="1.15"/>
<circle cx="265.75" cy="94.94" r="1.15"/>
<circle cx="295.25" cy="101.21" r="1.15"/>
<circle cx="295.25" cy="107.47" r="1.15"/>
<circle cx="279.25" cy="113.73" r="1.15"/>
<circle cx="300.25" cy="119.99" r="1.15"/>
<circle cx="300.25" cy="126.25" r="1.15"/>
<circle cx="272.35" cy="123.12" r="1.15"/>
<circle cx="291.60" cy="132.52" r="1.15"/>
<circle cx="256.95" cy="127.82" r="1.15"/>
<circle cx="284.85" cy="138.78" r="1.15"/>
<circle cx="221.00" cy="109.03" r="1.15"/>
<circle cx="305.05" cy="145.04" r="1.15"/>
<circle cx="305.05" cy="151.30" r="1.15"/>
<circle cx="283.10" cy="148.17" r="1.15"/>
<circle cx="297.55" cy="157.56" r="1.15"/>
<circle cx="306.95" cy="163.83" r="1.15"/>
<circle cx="306.95" cy="170.09" r="1.15"/>
<circle cx="289.00" cy="166.96" r="1.15"/>
<circle cx="301.55" cy="176.35" r="1.15"/>
<circle cx="305.05" cy="182.61" r="1.15"/>
<circle cx="305.05" cy="188.87" r="1.15"/>
<circle cx="284.05" cy="185.74" r="1.15"/>
<circle cx="298.50" cy="195.14" r="1.15"/>
<circle cx="311.93" cy="201.40" r="1.15"/>
<circle cx="311.93" cy="207.66" r="1.15"/>
<circle cx="274.38" cy="190.44" r="1.15"/>
<circle cx="270.75" cy="213.92" r="1.15"/>
<circle cx="296.50" cy="220.18" r="1.15"/>
<circle cx="296.50" cy="226.45" r="1.15"/>
<circle cx="303.20" cy="232.71" r="1.15"/>
<circle cx="303.20" cy="238.97" r="1.15"/>
<circle cx="280.75" cy="245.23" r="1.15"/>
<circle cx="283.50" cy="251.49" r="1.15"/>
<circle cx="283.50" cy="257.76" r="1.15"/>
<circle cx="301.50" cy="264.02" r="1.15"/>
<circle cx="301.50" cy="270.28" r="1.15"/>
<circle cx="290.25" cy="276.54" r="1.15"/>
<circle cx="308.50" cy="282.80" r="1.15"/>
<circle cx="308.50" cy="289.07" r="1.15"/>
<circle cx="286.00" cy="285.93" r="1.15"/>
<circle cx="297.00" cy="295.33" r="1.15"/>
<circle cx="273.15" cy="290.63" r="1.15"/>
<circle cx="295.65" cy="301.59" r="1.15"/>
<circle cx="303.15" cy="307.85" r="1.15"/>
<circle cx="303.15" cy="314.11" r="1.15"/>
<circle cx="301.25" cy="320.38" r="1.15"/>
<circle cx="267.00" cy="296.11" r="1.15"/>
<circle cx="272.60" cy="315.68" r="1.15"/>
<circle cx="224.75" cy="263.24" r="1.15"/>
<circle cx="302.80" cy="326.64" r="1.15"/>
<circle cx="302.80" cy="332.90" r="1.15"/>
<circle cx="283.40" cy="329.77" r="1.15"/>
<circle cx="300.10" cy="339.16" r="1.15"/>
<circle cx="305.85" cy="345.42" r="1.15"/>
<circle cx="305.85" cy="351.69" r="1.15"/>
<circle cx="273.85" cy="334.47" r="1.15"/>
<circle cx="297.35" cy="357.95" r="1.15"/>
<circle cx="297.35" cy="364.21" r="1.15"/>
<circle cx="263.75" cy="341.51" r="1.15"/>
<circle cx="177.50" cy="217.15" r="1.15"/>
<circle cx="300.50" cy="370.47" r="1.15"/>
<circle cx="300.50" cy="376.73" r="1.15"/>
<circle cx="303.38" cy="383.00" r="1.15"/>
<circle cx="303.38" cy="389.26" r="1.15"/>
<circle cx="270.27" cy="386.13" r="1.15"/>
<circle cx="305.85" cy="395.52" r="1.15"/>
<circle cx="305.85" cy="401.78" r="1.15"/>
<circle cx="299.85" cy="408.04" r="1.15"/>
<circle cx="287.75" cy="414.31" r="1.15"/>
<circle cx="249.40" cy="408.83" r="1.15"/>
<circle cx="236.53" cy="394.35" r="1.15"/>
<circle cx="274.88" cy="420.57" r="1.15"/>
<circle cx="298.50" cy="426.83" r="1.15"/>
<circle cx="298.50" cy="433.09" r="1.15"/>
<circle cx="306.00" cy="439.35" r="1.15"/>
<circle cx="306.00" cy="445.62" r="1.15"/>
<circle cx="285.45" cy="442.49" r="1.15"/>
<circle cx="298.95" cy="451.88" r="1.15"/>
<circle cx="222.00" cy="407.46" r="1.15"/>
<circle cx="149.00" cy="267.54" r="1.15"/>
<circle cx="298.95" cy="458.14" r="1.15"/>
<circle cx="298.95" cy="464.40" r="1.15"/>
<circle cx="277.50" cy="461.27" r="1.15"/>
<circle cx="298.05" cy="470.66" r="1.15"/>
<circle cx="288.20" cy="476.93" r="1.15"/>
<circle cx="305.25" cy="483.19" r="1.15"/>
<circle cx="305.25" cy="489.45" r="1.15"/>
<circle cx="300.85" cy="495.71" r="1.15"/>
<circle cx="305.55" cy="501.97" r="1.15"/>
<circle cx="305.55" cy="508.24" r="1.15"/>
<circle cx="270.30" cy="491.02" r="1.15"/>
<circle cx="248.95" cy="471.45" r="1.15"/>
<circle cx="249.70" cy="498.06" r="1.15"/>
<circle cx="121.70" cy="345.28" r="1.15"/>
<circle cx="61.95" cy="98.22" r="1.15"/>
<circle cx="284.50" cy="514.50" r="1.15"/>
<circle cx="284.50" cy="520.76" r="1.15"/>
<circle cx="309.00" cy="527.02" r="1.15"/>
<circle cx="309.00" cy="533.28" r="1.15"/>
<circle cx="297.55" cy="539.55" r="1.15"/>
<circle cx="297.55" cy="545.81" r="1.15"/>
<circle cx="291.25" cy="552.07" r="1.15"/>
<circle cx="303.60" cy="558.33" r="1.15"/>
<circle cx="303.60" cy="564.59" r="1.15"/>
<circle cx="283.85" cy="561.46" r="1.15"/>
<circle cx="299.75" cy="570.86" r="1.15"/>
<circle cx="274.25" cy="566.16" r="1.15"/>
<circle cx="294.00" cy="577.12" r="1.15"/>
<circle cx="194.15" cy="523.89" r="1.15"/>
<circle cx="285.85" cy="583.38" r="1.15"/>
<circle cx="285.85" cy="589.64" r="1.15"/>
<circle cx="288.15" cy="595.90" r="1.15"/>
<circle cx="288.15" cy="602.17" r="1.15"/>
<g transform="translate(259.00,19.83)"><rect width="18.00" height="6.2" rx="0.6" class="bx"/><text x="9.00" y="5.6" textLength="15.00" lengthAdjust="spacingAndGlyphs" class="bt">MAFB</text></g>
<g transform="translate(235.00,24.53)"><rect width="41.00" height="6.2" rx="0.6" class="bx"/><text x="20.50" y="5.6" textLength="38.00" lengthAdjust="spacingAndGlyphs" class="bt">ROCK1_BHLHE</text></g>
<g transform="translate(250.00,38.62)"><rect width="32.00" height="6.2" rx="0.6" class="bx"/><text x="16.00" y="5.6" textLength="29.00" lengthAdjust="spacingAndGlyphs" class="bt">SPI1_SPIB</text></g>
<g transform="translate(214.50,31.57)"><rect width="38.00" height="6.2" rx="0.6" class="bx"/><text x="19.00" y="5.6" textLength="35.00" lengthAdjust="spacingAndGlyphs" class="bt">TFDP2_MAX</text></g>
<g transform="translate(235.30,51.14)"><rect width="36.00" height="6.2" rx="0.6" class="bx"/><text x="18.00" y="5.6" textLength="33.00" lengthAdjust="spacingAndGlyphs" class="bt">HES1_ETV5</text></g>
<g transform="translate(251.00,63.66)"><rect width="15.00" height="6.2" rx="0.6" class="bx"/><text x="7.50" y="5.6" textLength="12.00" lengthAdjust="spacingAndGlyphs" class="bt">RELB</text></g>
<g transform="translate(251.20,76.19)"><rect width="17.00" height="6.2" rx="0.6" class="bx"/><text x="8.50" y="5.6" textLength="14.00" lengthAdjust="spacingAndGlyphs" class="bt">NFE2</text></g>
<g transform="translate(188.25,41.36)"><rect width="19.00" height="6.2" rx="0.6" class="bx"/><text x="9.50" y="5.6" textLength="16.00" lengthAdjust="spacingAndGlyphs" class="bt">MAFB</text></g>
<g transform="translate(192.55,69.93)"><rect width="45.00" height="6.2" rx="0.6" class="bx"/><text x="22.50" y="5.6" textLength="42.00" lengthAdjust="spacingAndGlyphs" class="bt">IKZF1_ZNF282</text></g>
<g transform="translate(156.75,55.64)"><rect width="35.00" height="6.2" rx="0.6" class="bx"/><text x="17.50" y="5.6" textLength="32.00" lengthAdjust="spacingAndGlyphs" class="bt">KLF4_BCL6</text></g>
<g transform="translate(167.50,88.71)"><rect width="45.00" height="6.2" rx="0.6" class="bx"/><text x="22.50" y="5.6" textLength="42.00" lengthAdjust="spacingAndGlyphs" class="bt">CREB3L1_THAP1</text></g>
<g transform="translate(242.50,101.24)"><rect width="25.00" height="6.2" rx="0.6" class="bx"/><text x="12.50" y="5.6" textLength="22.00" lengthAdjust="spacingAndGlyphs" class="bt">ASCL1_ETV2</text></g>
<g transform="translate(218.10,130.20)"><rect width="17.00" height="6.2" rx="0.6" class="bx"/><text x="8.50" y="5.6" textLength="14.00" lengthAdjust="spacingAndGlyphs" class="bt">HES6</text></g>
<g transform="translate(95.25,72.18)"><rect width="50.00" height="6.2" rx="0.6" class="bx"/><text x="25.00" y="5.6" textLength="47.00" lengthAdjust="spacingAndGlyphs" class="bt">NFATC1_ZNF16</text></g>
<g transform="translate(110.75,118.07)"><rect width="54.00" height="6.2" rx="0.6" class="bx"/><text x="27.00" y="5.6" textLength="51.00" lengthAdjust="spacingAndGlyphs" class="bt">POU3F3_PHOX2B</text></g>
<g transform="translate(240.00,149.77)"><rect width="40.00" height="6.2" rx="0.6" class="bx"/><text x="20.00" y="5.6" textLength="37.00" lengthAdjust="spacingAndGlyphs" class="bt">HEY1_SOX17</text></g>
<g transform="translate(256.00,168.55)"><rect width="16.00" height="6.2" rx="0.6" class="bx"/><text x="8.00" y="5.6" textLength="13.00" lengthAdjust="spacingAndGlyphs" class="bt">NR2F2</text></g>
<g transform="translate(265.60,201.43)"><rect width="44.40" height="6.2" rx="0.6" class="bx"/><text x="22.20" y="5.6" textLength="41.40" lengthAdjust="spacingAndGlyphs" class="bt">MYBL2_TFDP1_E2F</text></g>
<g transform="translate(220.95,159.16)"><rect width="45.00" height="6.2" rx="0.6" class="bx"/><text x="22.50" y="5.6" textLength="42.00" lengthAdjust="spacingAndGlyphs" class="bt">ERG_MECOM_SOX7</text></g>
<g transform="translate(236.88,194.38)"><rect width="40.00" height="6.2" rx="0.6" class="bx"/><text x="20.00" y="5.6" textLength="37.00" lengthAdjust="spacingAndGlyphs" class="bt">TFDP1_E2F8</text></g>
<g transform="translate(212.25,176.77)"><rect width="40.00" height="6.2" rx="0.6" class="bx"/><text x="20.00" y="5.6" textLength="37.00" lengthAdjust="spacingAndGlyphs" class="bt">TCF4_SOX18</text></g>
<g transform="translate(250.00,220.22)"><rect width="35.00" height="6.2" rx="0.6" class="bx"/><text x="17.50" y="5.6" textLength="32.00" lengthAdjust="spacingAndGlyphs" class="bt">SOX10_PAX3</text></g>
<g transform="translate(254.20,232.74)"><rect width="40.00" height="6.2" rx="0.6" class="bx"/><text x="20.00" y="5.6" textLength="37.00" lengthAdjust="spacingAndGlyphs" class="bt">E2F8_MYBL2_E2F</text></g>
<g transform="translate(232.25,226.48)"><rect width="39.00" height="6.2" rx="0.6" class="bx"/><text x="19.50" y="5.6" textLength="36.00" lengthAdjust="spacingAndGlyphs" class="bt">ETV5_SOX2</text></g>
<g transform="translate(182.00,193.80)"><rect width="40.00" height="6.2" rx="0.6" class="bx"/><text x="20.00" y="5.6" textLength="37.00" lengthAdjust="spacingAndGlyphs" class="bt">LYL1_ZNF366</text></g>
<g transform="translate(190.00,234.30)"><rect width="44.00" height="6.2" rx="0.6" class="bx"/><text x="22.00" y="5.6" textLength="41.00" lengthAdjust="spacingAndGlyphs" class="bt">SOX10_ZNF423</text></g>
<g transform="translate(259.50,264.05)"><rect width="25.50" height="6.2" rx="0.6" class="bx"/><text x="12.75" y="5.6" textLength="22.50" lengthAdjust="spacingAndGlyphs" class="bt">WT1_E2F</text></g>
<g transform="translate(221.25,251.53)"><rect width="37.50" height="6.2" rx="0.6" class="bx"/><text x="18.75" y="5.6" textLength="34.50" lengthAdjust="spacingAndGlyphs" class="bt">HAND2_ZNF</text></g>
<g transform="translate(225.75,268.75)"><rect width="42.00" height="6.2" rx="0.6" class="bx"/><text x="21.00" y="5.6" textLength="39.00" lengthAdjust="spacingAndGlyphs" class="bt">TBX18_WT1_MSLN</text></g>
<g transform="translate(274.90,307.88)"><rect width="20.00" height="6.2" rx="0.6" class="bx"/><text x="10.00" y="5.6" textLength="17.00" lengthAdjust="spacingAndGlyphs" class="bt">FOXL1</text></g>
<g transform="translate(219.10,302.80)"><rect width="41.00" height="6.2" rx="0.6" class="bx"/><text x="20.50" y="5.6" textLength="38.00" lengthAdjust="spacingAndGlyphs" class="bt">TCF21_EBF2</text></g>
<g transform="translate(260.10,345.45)"><rect width="39.00" height="6.2" rx="0.6" class="bx"/><text x="19.50" y="5.6" textLength="36.00" lengthAdjust="spacingAndGlyphs" class="bt">E2F1_TFDP1</text></g>
<g transform="translate(243.35,357.98)"><rect width="49.00" height="6.2" rx="0.6" class="bx"/><text x="24.50" y="5.6" textLength="46.00" lengthAdjust="spacingAndGlyphs" class="bt">NOTCH3_FOXS1</text></g>
<g transform="translate(193.10,281.47)"><rect width="15.00" height="6.2" rx="0.6" class="bx"/><text x="7.50" y="5.6" textLength="12.00" lengthAdjust="spacingAndGlyphs" class="bt">TBX4</text></g>
<g transform="translate(205.35,348.19)"><rect width="34.00" height="6.2" rx="0.6" class="bx"/><text x="17.00" y="5.6" textLength="31.00" lengthAdjust="spacingAndGlyphs" class="bt">HES1_LYL1</text></g>
<g transform="translate(154.60,314.83)"><rect width="48.00" height="6.2" rx="0.6" class="bx"/><text x="24.00" y="5.6" textLength="45.00" lengthAdjust="spacingAndGlyphs" class="bt">TWIST2_GLI2</text></g>
<g transform="translate(247.90,370.50)"><rect width="39.00" height="6.2" rx="0.6" class="bx"/><text x="19.50" y="5.6" textLength="36.00" lengthAdjust="spacingAndGlyphs" class="bt">SOX6_GATA4</text></g>
<g transform="translate(267.20,395.55)"><rect width="38.00" height="6.2" rx="0.6" class="bx"/><text x="19.00" y="5.6" textLength="35.00" lengthAdjust="spacingAndGlyphs" class="bt">E2F1_TFDP1</text></g>
<g transform="translate(248.40,400.25)"><rect width="39.40" height="6.2" rx="0.6" class="bx"/><text x="19.70" y="5.6" textLength="36.40" lengthAdjust="spacingAndGlyphs" class="bt">FOXF2_TBX20</text></g>
<g transform="translate(239.55,376.76)"><rect width="17.00" height="6.2" rx="0.6" class="bx"/><text x="8.50" y="5.6" textLength="14.00" lengthAdjust="spacingAndGlyphs" class="bt">SHOX2</text></g>
<g transform="translate(232.10,426.86)"><rect width="45.80" height="6.2" rx="0.6" class="bx"/><text x="22.90" y="5.6" textLength="42.80" lengthAdjust="spacingAndGlyphs" class="bt">FOXC2_FOXF2</text></g>
<g transform="translate(237.20,444.08)"><rect width="36.50" height="6.2" rx="0.6" class="bx"/><text x="18.25" y="5.6" textLength="33.50" lengthAdjust="spacingAndGlyphs" class="bt">MYOCD_SRF</text></g>
<g transform="translate(203.43,435.47)"><rect width="39.40" height="6.2" rx="0.6" class="bx"/><text x="19.70" y="5.6" textLength="36.40" lengthAdjust="spacingAndGlyphs" class="bt">TEAD1_NFIA</text></g>
<g transform="translate(161.38,419.91)"><rect width="16.00" height="6.2" rx="0.6" class="bx"/><text x="8.00" y="5.6" textLength="13.00" lengthAdjust="spacingAndGlyphs" class="bt">NFIA</text></g>
<g transform="translate(253.75,462.87)"><rect width="26.00" height="6.2" rx="0.6" class="bx"/><text x="13.00" y="5.6" textLength="23.00" lengthAdjust="spacingAndGlyphs" class="bt">HAND2_GLI</text></g>
<g transform="translate(266.60,483.22)"><rect width="40.00" height="6.2" rx="0.6" class="bx"/><text x="20.00" y="5.6" textLength="37.00" lengthAdjust="spacingAndGlyphs" class="bt">MYBL2_ZNF367</text></g>
<g transform="translate(263.70,502.00)"><rect width="22.60" height="6.2" rx="0.6" class="bx"/><text x="11.30" y="5.6" textLength="19.60" lengthAdjust="spacingAndGlyphs" class="bt">MEF2C</text></g>
<g transform="translate(159.70,481.65)"><rect width="40.00" height="6.2" rx="0.6" class="bx"/><text x="20.00" y="5.6" textLength="37.00" lengthAdjust="spacingAndGlyphs" class="bt">FOXP2_ETV1</text></g>
<g transform="translate(65.40,411.92)"><rect width="39.00" height="6.2" rx="0.6" class="bx"/><text x="19.50" y="5.6" textLength="36.00" lengthAdjust="spacingAndGlyphs" class="bt">FOXF1_GLIS3</text></g>
<g transform="translate(214.70,514.53)"><rect width="32.00" height="6.2" rx="0.6" class="bx"/><text x="16.00" y="5.6" textLength="29.00" lengthAdjust="spacingAndGlyphs" class="bt">ATOH1_SPDEF</text></g>
<g transform="translate(234.40,527.05)"><rect width="41.60" height="6.2" rx="0.6" class="bx"/><text x="20.80" y="5.6" textLength="38.60" lengthAdjust="spacingAndGlyphs" class="bt">HNF4A_CREB3L3</text></g>
<g transform="translate(260.30,539.58)"><rect width="18.00" height="6.2" rx="0.6" class="bx"/><text x="9.00" y="5.6" textLength="15.00" lengthAdjust="spacingAndGlyphs" class="bt">IRX3</text></g>
<g transform="translate(222.65,544.27)"><rect width="46.00" height="6.2" rx="0.6" class="bx"/><text x="23.00" y="5.6" textLength="43.00" lengthAdjust="spacingAndGlyphs" class="bt">ELF3_KLF5_ATF3</text></g>
<g transform="translate(227.90,568.54)"><rect width="41.00" height="6.2" rx="0.6" class="bx"/><text x="20.50" y="5.6" textLength="38.00" lengthAdjust="spacingAndGlyphs" class="bt">MYC_SOX9_ASCL2</text></g>
<g transform="translate(184.35,556.41)"><rect width="36.00" height="6.2" rx="0.6" class="bx"/><text x="18.00" y="5.6" textLength="33.00" lengthAdjust="spacingAndGlyphs" class="bt">HNF4G_ZNF</text></g>
<g transform="translate(213.10,583.41)"><rect width="47.00" height="6.2" rx="0.6" class="bx"/><text x="23.50" y="5.6" textLength="44.00" lengthAdjust="spacingAndGlyphs" class="bt">CREB3L3_NR1H4</text></g>
<g transform="translate(218.65,595.93)"><rect width="40.50" height="6.2" rx="0.6" class="bx"/><text x="20.25" y="5.6" textLength="37.50" lengthAdjust="spacingAndGlyphs" class="bt">HNF1B_ELF3</text></g>
<g transform="translate(150.50,538.60)"><rect width="40.00" height="6.2" rx="0.6" class="bx"/><text x="20.00" y="5.6" textLength="37.00" lengthAdjust="spacingAndGlyphs" class="bt">HNF4G_CDX2</text></g>
<g transform="translate(170.30,589.67)"><rect width="45.00" height="6.2" rx="0.6" class="bx"/><text x="22.50" y="5.6" textLength="42.00" lengthAdjust="spacingAndGlyphs" class="bt">HNF4A_ONECUT2</text></g>
<g transform="translate(14.60,253.52)"><rect width="38.20" height="6.2" rx="0.6" class="bx"/><text x="19.10" y="5.6" textLength="35.20" lengthAdjust="spacingAndGlyphs" class="bt">PRDM16_BNC2</text></g>
<g transform="translate(71.80,564.14)"><rect width="37.00" height="6.2" rx="0.6" class="bx"/><text x="18.50" y="5.6" textLength="34.00" lengthAdjust="spacingAndGlyphs" class="bt">MAZ_JRF</text></g>
<text x="320.6" y="21.65" class="lf">Cell Cycle</text>
<text x="320.6" y="27.91" class="lf">pDCs</text>
<text x="320.6" y="34.17" class="lf">Mast</text>
<text x="320.6" y="40.44" class="lf">Monocytes</text>
<text x="320.6" y="46.70" class="lf">DCs</text>
<text x="320.6" y="52.96" class="lf">Macrophages SPP1+</text>
<text x="320.6" y="59.22" class="lf">Macrophages</text>
<text x="320.6" y="65.48" class="lf">NKs &amp; GDs</text>
<text x="320.6" y="71.75" class="lf">B−Cells</text>
<text x="320.6" y="78.01" class="lf">Naive T−Cells</text>
<text x="320.6" y="84.27" class="lf">Type 3 ILCs</text>
<text x="320.6" y="90.53" class="lf">pre B−Cells</text>
<text x="320.6" y="96.79" class="lf">Erythroid</text>
<text x="320.6" y="103.06" class="lf">Neuroendocrine (1)</text>
<text x="320.6" y="109.32" class="lf">Excitory Motor Neuron</text>
<text x="320.6" y="115.58" class="lf">ENS Progenitors</text>
<text x="320.6" y="121.84" class="lf">Inhibitory Motor Neuron Precursor</text>
<text x="320.6" y="128.10" class="lf">Interneuron</text>
<text x="320.6" y="134.37" class="lf">Inhibitory Motor Neuron</text>
<text x="320.6" y="140.63" class="lf">Neuroendocrine (2)</text>
<text x="320.6" y="146.89" class="lf">Arterial (M)</text>
<text x="320.6" y="153.15" class="lf">Arterial (L)</text>
<text x="320.6" y="159.41" class="lf">Arterial (CP)</text>
<text x="320.6" y="165.68" class="lf">Venous (M) 1</text>
<text x="320.6" y="171.94" class="lf">Venous (CP) 1</text>
<text x="320.6" y="178.20" class="lf">Venous (L)</text>
<text x="320.6" y="184.46" class="lf">Venous (CP) 2</text>
<text x="320.6" y="190.72" class="lf">Venous (M) 2</text>
<text x="320.6" y="196.99" class="lf">Arterial (CP) 2</text>
<text x="320.6" y="203.25" class="lf">Endothelium S−phase</text>
<text x="320.6" y="209.51" class="lf">Endothelium G2M−phase</text>
<text x="320.6" y="215.77" class="lf">Lymphatic</text>
<text x="320.6" y="222.03" class="lf">Intraganglionic Glial</text>
<text x="320.6" y="228.30" class="lf">Submucosal Glial</text>
<text x="320.6" y="234.56" class="lf">Glial Progenitors</text>
<text x="320.6" y="240.82" class="lf">Neural G2M− &amp; S−phase</text>
<text x="320.6" y="247.08" class="lf">Differentiating Submucosal Glial</text>
<text x="320.6" y="253.34" class="lf">Lymphoid Associated Glial</text>
<text x="320.6" y="259.61" class="lf">Pericyte Progenitors</text>
<text x="320.6" y="265.87" class="lf">Myofibroblasts G2M−phase</text>
<text x="320.6" y="272.13" class="lf">Mesothelium SOX6+</text>
<text x="320.6" y="278.39" class="lf">Mesothelium IL18+</text>
<text x="320.6" y="284.65" class="lf">S1</text>
<text x="320.6" y="290.92" class="lf">S1 COL6A5+</text>
<text x="320.6" y="297.18" class="lf">S4 CXCL13+</text>
<text x="320.6" y="303.44" class="lf">Proximal S2 (2)</text>
<text x="320.6" y="309.70" class="lf">Proximal S2 (1)</text>
<text x="320.6" y="315.96" class="lf">Distal S2</text>
<text x="320.6" y="322.23" class="lf">S1 IFIT3+</text>
<text x="320.6" y="328.49" class="lf">WNT6+ Pericytes</text>
<text x="320.6" y="334.75" class="lf">Undifferentiated Pericytes</text>
<text x="320.6" y="341.01" class="lf">BMPER+ Pericytes</text>
<text x="320.6" y="347.27" class="lf">Pericytes G2M−phase</text>
<text x="320.6" y="353.54" class="lf">Pericytes S−phase</text>
<text x="320.6" y="359.80" class="lf">Angiogenic Pericytes</text>
<text x="320.6" y="366.06" class="lf">Contractile Pericytes</text>
<text x="320.6" y="372.32" class="lf">S3</text>
<text x="320.6" y="378.58" class="lf">S3 HAND1+</text>
<text x="320.6" y="384.85" class="lf">S3 Transitional</text>
<text x="320.6" y="391.11" class="lf">S3 Progenitor</text>
<text x="320.6" y="397.37" class="lf">Fibroblasts G2M−phase</text>
<text x="320.6" y="403.63" class="lf">Fibroblasts S−phase</text>
<text x="320.6" y="409.89" class="lf">Fibroblast Progenitor</text>
<text x="320.6" y="416.16" class="lf">S3 EBF+</text>
<text x="320.6" y="422.42" class="lf">S4 CCL21+</text>
<text x="320.6" y="428.68" class="lf">ICCs</text>
<text x="320.6" y="434.94" class="lf">PDGFRA+ Cells</text>
<text x="320.6" y="441.20" class="lf">Myofibroblasts S−phase</text>
<text x="320.6" y="447.47" class="lf">Myofibroblast Progenitors</text>
<text x="320.6" y="453.73" class="lf">Myofibroblasts</text>
<text x="320.6" y="459.99" class="lf">IM PMAIP1+</text>
<text x="320.6" y="466.25" class="lf">Distal IM</text>
<text x="320.6" y="472.51" class="lf">Proximal IM</text>
<text x="320.6" y="478.78" class="lf">OM</text>
<text x="320.6" y="485.04" class="lf">Muscularis G2M−phase</text>
<text x="320.6" y="491.30" class="lf">Muscularis S−phase</text>
<text x="320.6" y="497.56" class="lf">IM Progenitor</text>
<text x="320.6" y="503.82" class="lf">Proximal MM</text>
<text x="320.6" y="510.09" class="lf">Distal MM</text>
<text x="320.6" y="516.35" class="lf">EECs</text>
<text x="320.6" y="522.61" class="lf">Secretory Progenitors</text>
<text x="320.6" y="528.87" class="lf">Proximal TA</text>
<text x="320.6" y="535.13" class="lf">Proximal Progenitor</text>
<text x="320.6" y="541.40" class="lf">Distal Enterocytes</text>
<text x="320.6" y="547.66" class="lf">Distal Absorptive</text>
<text x="320.6" y="553.92" class="lf">BEST4/OTOP2 Cells</text>
<text x="320.6" y="560.18" class="lf">Distal Stem Cells</text>
<text x="320.6" y="566.44" class="lf">Distal TA</text>
<text x="320.6" y="572.71" class="lf">Proximal Stem Cells</text>
<text x="320.6" y="578.97" class="lf">Goblets</text>
<text x="320.6" y="585.23" class="lf">Distal Mature Enterocytes</text>
<text x="320.6" y="591.49" class="lf">Proximal Mature Enterocytes</text>
<text x="320.6" y="597.75" class="lf">Proximal Early Enterocytes</text>
<text x="320.6" y="604.02" class="lf">Proximal Enterocytes</text></g>
<path d="M437.5,12.5 V132.0 H582.0" fill="none" stroke="#444" stroke-width="0.8"/>
<line x1="460.8" y1="132.0" x2="460.8" y2="133.2" stroke="#555" stroke-width="0.5"/>
<text x="460.8" y="137.1" class="tk" text-anchor="middle">−10</text>
<line x1="505.0" y1="132.0" x2="505.0" y2="133.2" stroke="#555" stroke-width="0.5"/>
<text x="505.0" y="137.1" class="tk" text-anchor="middle">0</text>
<line x1="549.2" y1="132.0" x2="549.2" y2="133.2" stroke="#555" stroke-width="0.5"/>
<text x="549.2" y="137.1" class="tk" text-anchor="middle">10</text>
<line x1="436.3" y1="32.0" x2="437.5" y2="32.0" stroke="#555" stroke-width="0.5"/>
<text x="435.7" y="33.2" class="tk" text-anchor="end">10</text>
<line x1="436.3" y1="68.5" x2="437.5" y2="68.5" stroke="#555" stroke-width="0.5"/>
<text x="435.7" y="69.7" class="tk" text-anchor="end">0</text>
<line x1="436.3" y1="105.0" x2="437.5" y2="105.0" stroke="#555" stroke-width="0.5"/>
<text x="435.7" y="106.2" class="tk" text-anchor="end">−10</text>
<text x="508.0" y="142.4" class="ax" text-anchor="middle">UMAP_1</text>
<text transform="translate(430.1,68.5) rotate(-90)" class="ax" text-anchor="middle">UMAP_2</text>
<text x="509.5" y="11.5" class="ttl" text-anchor="middle">ARID3A</text>
<g filter="url(#rough)">
<polygon points="447.8,57.0 451.0,58.2 447.8,59.4" fill="#000" />
<polygon points="553.5,54.5 556.0,54.6 558.5,55.3 559.0,58.5 556.5,58.3 554.0,57.6" fill="#000" />
<path d="M551.4,69 Q559,63 566.7,64.3 Q571,66 572.5,69.6" fill="none" stroke="#000" stroke-width="1.1"/>
<ellipse cx="567" cy="65.8" rx="3.2" ry="1.1" fill="#000" transform="rotate(20 567 65.8)"/>
<polygon points="544.5,109.5 549.0,106.0 554.0,101.0 557.0,95.0 559.0,90.5 560.8,88.8 562.0,91.0 561.0,97.0 557.0,104.0 551.0,108.5 546.0,110.5" fill="#000" />
<polygon points="546.5,92.8 551.0,93.5 553.0,96.0 551.0,98.0 548.0,95.0" fill="#000" />
<polygon points="496.2,125.0 493.2,121.5 494.0,118.5 497.5,116.6 502.0,116.2 507.0,117.0 512.0,115.6 517.5,114.2 522.0,116.0 528.1,119.0 521.0,120.2 514.0,122.5 510.5,126.2 507.5,123.8 503.5,120.3 499.0,120.0 496.5,120.5 495.8,122.3 497.5,124.8" fill="#000" />
<polygon points="491.0,21.4 498.9,19.8 507.1,19.0 516.2,17.7 519.5,18.1 521.6,22.3 522.8,28.0 523.6,31.3 527.8,33.0 531.5,36.3 533.1,40.4 531.1,43.7 526.1,45.4 519.5,46.6 516.2,48.7 512.9,50.3 507.1,51.5 502.2,50.3 498.9,47.8 494.8,44.5 491.5,41.2 490.2,36.3 489.8,28.9 490.6,23.9" fill="url(#gA)" />
<polygon points="475.0,29.5 478.0,28.2 484.4,27.8 489.5,28.5 489.5,30.6 484.0,31.4 478.0,31.6 475.0,30.8" fill="#a8447e" />
<polygon points="475.5,43.2 479.0,42.2 486.5,39.4 490.0,39.2 490.3,41.2 486.0,42.4 479.0,44.8 476.0,44.8" fill="#3a1a60" />
<polygon points="501.0,31.0 507.0,29.2 514.0,29.5 520.0,31.5 521.5,35.0 517.0,39.5 510.0,41.0 503.0,40.0 499.5,36.5" fill="#fff" opacity="0.9" filter="url(#bl)"/>
<polygon points="465.0,79.0 471.5,77.1 478.4,75.6 481.4,71.0 484.5,67.2 486.8,64.1 489.8,62.2 493.7,61.4 496.5,63.2 503.0,65.8 508.2,67.1 506.9,70.4 512.1,70.4 517.3,68.4 522.5,68.7 523.5,71.0 521.9,73.6 522.5,76.2 526.4,78.2 530.3,78.8 535.5,85.3 537.1,89.2 534.9,91.8 531.6,89.9 527.7,86.0 522.5,82.0 519.3,79.5 516.0,78.2 513.4,79.5 511.5,84.0 514.7,89.9 512.1,91.5 503.0,91.8 499.8,90.5 496.5,89.2 492.5,89.0 492.1,94.0 491.4,100.8 486.8,102.4 480.6,101.6 478.7,99.3 478.0,92.4 478.7,86.3 476.8,83.2 471.5,81.0" fill="#000" />
<polygon points="498.0,80.0 506.0,78.3 513.0,80.0 510.0,85.5 502.0,86.2 498.5,84.0" fill="#fff" opacity="0.95" filter="url(#bl2)"/>
<line x1="494.5" y1="66.5" x2="507" y2="72.5" stroke="#fff" stroke-width="0.9" opacity="0.7" stroke-linecap="round"/>
<line x1="495.5" y1="69.8" x2="506" y2="75.5" stroke="#fff" stroke-width="0.8" opacity="0.6" stroke-linecap="round"/>
<line x1="497" y1="73.2" x2="504" y2="77" stroke="#fff" stroke-width="0.7" opacity="0.6" stroke-linecap="round"/>
<line x1="499.5" y1="64.6" x2="507.5" y2="68.8" stroke="#fff" stroke-width="0.6" opacity="0.5" stroke-linecap="round"/>
<line x1="507.5" y1="72" x2="519" y2="75.2" stroke="#fff" stroke-width="0.8" opacity="0.6" stroke-linecap="round"/>
<line x1="511" y1="74.5" x2="520" y2="78" stroke="#fff" stroke-width="0.7" opacity="0.5" stroke-linecap="round"/>
<line x1="493.5" y1="71" x2="499" y2="78.5" stroke="#fff" stroke-width="0.6" opacity="0.45" stroke-linecap="round"/>
<line x1="502" y1="76.5" x2="512" y2="77.5" stroke="#fff" stroke-width="0.7" opacity="0.5" stroke-linecap="round"/>
<line x1="517" y1="71" x2="522" y2="75" stroke="#fff" stroke-width="0.5" opacity="0.4" stroke-linecap="round"/>
</g>
<rect x="586.3" y="61" width="4.4" height="23.0" fill="url(#gL)"/>
<text x="592.5999999999999" y="84.5" class="tk">0.0</text>
<text x="592.5999999999999" y="78.9" class="tk">0.2</text>
<text x="592.5999999999999" y="73.3" class="tk">0.4</text>
<text x="592.5999999999999" y="67.7" class="tk">0.6</text>
<path d="M437.9,161.6 V281.1 H582.4" fill="none" stroke="#444" stroke-width="0.8"/>
<line x1="461.2" y1="281.1" x2="461.2" y2="282.3" stroke="#555" stroke-width="0.5"/>
<text x="461.2" y="286.20000000000005" class="tk" text-anchor="middle">−10</text>
<line x1="505.4" y1="281.1" x2="505.4" y2="282.3" stroke="#555" stroke-width="0.5"/>
<text x="505.4" y="286.20000000000005" class="tk" text-anchor="middle">0</text>
<line x1="549.6" y1="281.1" x2="549.6" y2="282.3" stroke="#555" stroke-width="0.5"/>
<text x="549.6" y="286.20000000000005" class="tk" text-anchor="middle">10</text>
<line x1="436.7" y1="181.1" x2="437.9" y2="181.1" stroke="#555" stroke-width="0.5"/>
<text x="436.09999999999997" y="182.3" class="tk" text-anchor="end">10</text>
<line x1="436.7" y1="217.6" x2="437.9" y2="217.6" stroke="#555" stroke-width="0.5"/>
<text x="436.09999999999997" y="218.8" class="tk" text-anchor="end">0</text>
<line x1="436.7" y1="254.1" x2="437.9" y2="254.1" stroke="#555" stroke-width="0.5"/>
<text x="436.09999999999997" y="255.3" class="tk" text-anchor="end">−10</text>
<text x="508.4" y="291.5" class="ax" text-anchor="middle">UMAP_1</text>
<text transform="translate(430.5,217.6) rotate(-90)" class="ax" text-anchor="middle">UMAP_2</text>
<text x="507.8" y="157.8" class="ttl" text-anchor="middle">TCF21</text>
<g filter="url(#rough)">
<polygon points="448.2,206.1 451.4,207.3 448.2,208.5" fill="#000" />
<polygon points="553.9,203.6 556.4,203.7 558.9,204.4 559.4,207.6 556.9,207.4 554.4,206.7" fill="#000" />
<path d="M551.8,218.1 Q559.4,212.1 567.1,213.39999999999998 Q571.4,215.1 572.9,218.7" fill="none" stroke="#000" stroke-width="1.1"/>
<ellipse cx="567.4" cy="214.89999999999998" rx="3.2" ry="1.1" fill="#000" transform="rotate(20 567.4 214.89999999999998)"/>
<polygon points="544.9,258.6 549.4,255.1 554.4,250.1 557.4,244.1 559.4,239.6 561.2,237.9 562.4,240.1 561.4,246.1 557.4,253.1 551.4,257.6 546.4,259.6" fill="#000" />
<polygon points="546.9,241.9 551.4,242.6 553.4,245.1 551.4,247.1 548.4,244.1" fill="#000" />
<polygon points="496.6,274.1 493.6,270.6 494.4,267.6 497.9,265.7 502.4,265.3 507.4,266.1 512.4,264.7 517.9,263.3 522.4,265.1 528.5,268.1 521.4,269.3 514.4,271.6 510.9,275.3 507.9,272.9 503.9,269.4 499.4,269.1 496.9,269.6 496.2,271.4 497.9,273.9" fill="#000" />
<polygon points="491.4,170.5 499.3,168.9 507.5,168.1 516.6,166.8 519.9,167.2 522.0,171.4 523.2,177.1 524.0,180.4 528.2,182.1 531.9,185.4 533.5,189.5 531.5,192.8 526.5,194.5 519.9,195.7 516.6,197.8 513.3,199.4 507.5,200.6 502.6,199.4 499.3,196.9 495.2,193.6 491.9,190.3 490.6,185.4 490.2,178.0 491.0,173.0" fill="#000" />
<polygon points="475.4,178.6 478.4,177.3 484.8,176.9 489.9,177.6 489.9,179.7 484.4,180.5 478.4,180.7 475.4,179.9" fill="#000" />
<polygon points="475.9,192.3 479.4,191.3 486.9,188.5 490.4,188.3 490.7,190.3 486.4,191.5 479.4,193.9 476.4,193.9" fill="#000" />
<polygon points="501.4,180.1 507.4,178.3 514.4,178.6 520.4,180.6 521.9,184.1 517.4,188.6 510.4,190.1 503.4,189.1 499.9,185.6" fill="#fff" opacity="0.9" filter="url(#bl)"/>
<polygon points="465.4,228.1 471.9,226.2 478.8,224.7 481.8,220.1 484.9,216.3 487.2,213.2 490.2,211.3 494.1,210.5 496.9,212.3 503.4,214.9 508.6,216.2 507.3,219.5 512.5,219.5 517.7,217.5 522.9,217.8 523.9,220.1 522.3,222.7 522.9,225.3 526.8,227.3 530.7,227.9 535.9,234.4 537.5,238.3 535.3,240.9 532.0,239.0 528.1,235.1 522.9,231.1 519.7,228.6 516.4,227.3 513.8,228.6 511.9,233.1 515.1,239.0 512.5,240.6 503.4,240.9 500.2,239.6 496.9,238.3 492.9,238.1 492.5,243.1 491.8,249.9 487.2,251.5 481.0,250.7 479.1,248.4 478.4,241.5 479.1,235.4 477.2,232.3 471.9,230.1" fill="url(#gT)" />
<polygon points="498.4,229.1 506.4,227.4 513.4,229.1 510.4,234.6 502.4,235.3 498.9,233.1" fill="#fff" opacity="0.95" filter="url(#bl2)"/>
<line x1="494.9" y1="215.6" x2="507.4" y2="221.6" stroke="#fff" stroke-width="0.9" opacity="0.7" stroke-linecap="round"/>
<line x1="495.9" y1="218.89999999999998" x2="506.4" y2="224.6" stroke="#fff" stroke-width="0.8" opacity="0.6" stroke-linecap="round"/>
<line x1="497.4" y1="222.3" x2="504.4" y2="226.1" stroke="#fff" stroke-width="0.7" opacity="0.6" stroke-linecap="round"/>
<line x1="499.9" y1="213.7" x2="507.9" y2="217.89999999999998" stroke="#fff" stroke-width="0.6" opacity="0.5" stroke-linecap="round"/>
<line x1="507.9" y1="221.1" x2="519.4" y2="224.3" stroke="#fff" stroke-width="0.8" opacity="0.6" stroke-linecap="round"/>
<line x1="511.4" y1="223.6" x2="520.4" y2="227.1" stroke="#fff" stroke-width="0.7" opacity="0.5" stroke-linecap="round"/>
<line x1="493.9" y1="220.1" x2="499.4" y2="227.6" stroke="#fff" stroke-width="0.6" opacity="0.45" stroke-linecap="round"/>
<line x1="502.4" y1="225.6" x2="512.4" y2="226.6" stroke="#fff" stroke-width="0.7" opacity="0.5" stroke-linecap="round"/>
<line x1="517.4" y1="220.1" x2="522.4" y2="224.1" stroke="#fff" stroke-width="0.5" opacity="0.4" stroke-linecap="round"/>
</g>
<rect x="586.6999999999999" y="210.1" width="4.4" height="23.0" fill="url(#gL)"/>
<text x="592.9999999999999" y="233.6" class="tk">0.0</text>
<text x="592.9999999999999" y="228.0" class="tk">0.2</text>
<text x="592.9999999999999" y="222.4" class="tk">0.4</text>
<text x="592.9999999999999" y="216.8" class="tk">0.6</text>
<path d="M622.2,91.7 V211.2 H766.7" fill="none" stroke="#444" stroke-width="0.8"/>
<line x1="645.5" y1="211.2" x2="645.5" y2="212.39999999999998" stroke="#555" stroke-width="0.5"/>
<text x="645.5" y="216.29999999999998" class="tk" text-anchor="middle">−10</text>
<line x1="689.7" y1="211.2" x2="689.7" y2="212.39999999999998" stroke="#555" stroke-width="0.5"/>
<text x="689.7" y="216.29999999999998" class="tk" text-anchor="middle">0</text>
<line x1="733.9" y1="211.2" x2="733.9" y2="212.39999999999998" stroke="#555" stroke-width="0.5"/>
<text x="733.9" y="216.29999999999998" class="tk" text-anchor="middle">10</text>
<line x1="621.0" y1="111.2" x2="622.2" y2="111.2" stroke="#555" stroke-width="0.5"/>
<text x="620.4000000000001" y="112.4" class="tk" text-anchor="end">10</text>
<line x1="621.0" y1="147.7" x2="622.2" y2="147.7" stroke="#555" stroke-width="0.5"/>
<text x="620.4000000000001" y="148.9" class="tk" text-anchor="end">0</text>
<line x1="621.0" y1="184.2" x2="622.2" y2="184.2" stroke="#555" stroke-width="0.5"/>
<text x="620.4000000000001" y="185.4" class="tk" text-anchor="end">−10</text>
<text x="692.7" y="221.6" class="ax" text-anchor="middle">UMAP_1</text>
<text transform="translate(614.8000000000001,147.7) rotate(-90)" class="ax" text-anchor="middle">UMAP_2</text>
<text x="684.5" y="83.6" class="ttl" text-anchor="middle">FOXD1</text>
<g filter="url(#rough)">
<polygon points="632.5,136.2 635.7,137.4 632.5,138.6" fill="#000" />
<polygon points="738.2,133.7 740.7,133.8 743.2,134.5 743.7,137.7 741.2,137.5 738.7,136.8" fill="#000" />
<path d="M736.0999999999999,148.2 Q743.7,142.2 751.4000000000001,143.5 Q755.7,145.2 757.2,148.8" fill="none" stroke="#000" stroke-width="1.1"/>
<ellipse cx="751.7" cy="145.0" rx="3.2" ry="1.1" fill="#000" transform="rotate(20 751.7 145.0)"/>
<polygon points="729.2,188.7 733.7,185.2 738.7,180.2 741.7,174.2 743.7,169.7 745.5,168.0 746.7,170.2 745.7,176.2 741.7,183.2 735.7,187.7 730.7,189.7" fill="#000" />
<polygon points="731.2,172.0 735.7,172.7 737.7,175.2 735.7,177.2 732.7,174.2" fill="#000" />
<polygon points="680.9,204.2 677.9,200.7 678.7,197.7 682.2,195.8 686.7,195.4 691.7,196.2 696.7,194.8 702.2,193.4 706.7,195.2 712.8,198.2 705.7,199.4 698.7,201.7 695.2,205.4 692.2,203.0 688.2,199.5 683.7,199.2 681.2,199.7 680.5,201.5 682.2,204.0" fill="#000" />
<polygon points="675.7,100.6 683.6,99.0 691.8,98.2 700.9,96.9 704.2,97.3 706.3,101.5 707.5,107.2 708.3,110.5 712.5,112.2 716.2,115.5 717.8,119.6 715.8,122.9 710.8,124.6 704.2,125.8 700.9,127.9 697.6,129.5 691.8,130.7 686.9,129.5 683.6,127.0 679.5,123.7 676.2,120.4 674.9,115.5 674.5,108.1 675.3,103.1" fill="url(#gF)" />
<polygon points="659.7,108.7 662.7,107.4 669.1,107.0 674.2,107.7 674.2,109.8 668.7,110.6 662.7,110.8 659.7,110.0" fill="#2a1030" />
<polygon points="660.2,122.4 663.7,121.4 671.2,118.6 674.7,118.4 675.0,120.4 670.7,121.6 663.7,124.0 660.7,124.0" fill="#1a0a20" />
<polygon points="685.7,110.2 691.7,108.4 698.7,108.7 704.7,110.7 706.2,114.2 701.7,118.7 694.7,120.2 687.7,119.2 684.2,115.7" fill="#fff" opacity="0.9" filter="url(#bl)"/>
<polygon points="649.7,158.2 656.2,156.3 663.1,154.8 666.1,150.2 669.2,146.4 671.5,143.3 674.5,141.4 678.4,140.6 681.2,142.4 687.7,145.0 692.9,146.3 691.6,149.6 696.8,149.6 702.0,147.6 707.2,147.9 708.2,150.2 706.6,152.8 707.2,155.4 711.1,157.4 715.0,158.0 720.2,164.5 721.8,168.4 719.6,171.0 716.3,169.1 712.4,165.2 707.2,161.2 704.0,158.7 700.7,157.4 698.1,158.7 696.2,163.2 699.4,169.1 696.8,170.7 687.7,171.0 684.5,169.7 681.2,168.4 677.2,168.2 676.8,173.2 676.1,180.0 671.5,181.6 665.3,180.8 663.4,178.5 662.7,171.6 663.4,165.5 661.5,162.4 656.2,160.2" fill="#000" />
<polygon points="682.7,159.2 690.7,157.5 697.7,159.2 694.7,164.7 686.7,165.4 683.2,163.2" fill="#fff" opacity="0.95" filter="url(#bl2)"/>
<line x1="679.2" y1="145.7" x2="691.7" y2="151.7" stroke="#fff" stroke-width="0.9" opacity="0.7" stroke-linecap="round"/>
<line x1="680.2" y1="149.0" x2="690.7" y2="154.7" stroke="#fff" stroke-width="0.8" opacity="0.6" stroke-linecap="round"/>
<line x1="681.7" y1="152.4" x2="688.7" y2="156.2" stroke="#fff" stroke-width="0.7" opacity="0.6" stroke-linecap="round"/>
<line x1="684.2" y1="143.8" x2="692.2" y2="148.0" stroke="#fff" stroke-width="0.6" opacity="0.5" stroke-linecap="round"/>
<line x1="692.2" y1="151.2" x2="703.7" y2="154.4" stroke="#fff" stroke-width="0.8" opacity="0.6" stroke-linecap="round"/>
<line x1="695.7" y1="153.7" x2="704.7" y2="157.2" stroke="#fff" stroke-width="0.7" opacity="0.5" stroke-linecap="round"/>
<line x1="678.2" y1="150.2" x2="683.7" y2="157.7" stroke="#fff" stroke-width="0.6" opacity="0.45" stroke-linecap="round"/>
<line x1="686.7" y1="155.7" x2="696.7" y2="156.7" stroke="#fff" stroke-width="0.7" opacity="0.5" stroke-linecap="round"/>
<line x1="701.7" y1="150.2" x2="706.7" y2="154.2" stroke="#fff" stroke-width="0.5" opacity="0.4" stroke-linecap="round"/>
</g>
<rect x="771.0" y="140.2" width="4.4" height="23.0" fill="url(#gL)"/>
<text x="777.3" y="163.7" class="tk">0.0</text>
<text x="777.3" y="158.1" class="tk">0.1</text>
<text x="777.3" y="152.5" class="tk">0.2</text>
<text x="777.3" y="146.9" class="tk">0.3</text>
<g shape-rendering="crispEdges">
<rect x="441.8" y="322.00" width="39.8" height="3.62" fill="#38477f"/>
<rect x="481" y="322.00" width="27.6" height="3.62" fill="#3a5180"/>
<rect x="508" y="322.00" width="15.1" height="3.62" fill="#3a5581"/>
<rect x="522.5" y="322.00" width="13.1" height="3.62" fill="#394c80"/>
<rect x="535" y="322.00" width="37.6" height="3.62" fill="#38477e"/>
<rect x="572" y="322.00" width="13.6" height="3.62" fill="#394e80"/>
<rect x="585" y="322.00" width="27.4" height="3.62" fill="#3c5f82"/>
<rect x="611.8" y="322.00" width="38.8" height="3.62" fill="#3a5681"/>
<rect x="650" y="322.00" width="17.6" height="3.62" fill="#2f1c60"/>
<rect x="667" y="322.00" width="18.2" height="3.62" fill="#302365"/>
<rect x="684.6" y="322.00" width="15.4" height="3.62" fill="#3a5381"/>
<rect x="699.4" y="322.00" width="35.2" height="3.62" fill="#3c5f82"/>
<rect x="441.8" y="325.02" width="39.8" height="3.62" fill="#394e80"/>
<rect x="481" y="325.02" width="27.6" height="3.62" fill="#384b7f"/>
<rect x="508" y="325.02" width="15.1" height="3.62" fill="#37457d"/>
<rect x="522.5" y="325.02" width="13.1" height="3.62" fill="#37447c"/>
<rect x="535" y="325.02" width="37.6" height="3.62" fill="#3a5481"/>
<rect x="572" y="325.02" width="13.6" height="3.62" fill="#37447c"/>
<rect x="585" y="325.02" width="27.4" height="3.62" fill="#384a7f"/>
<rect x="611.8" y="325.02" width="38.8" height="3.62" fill="#38487f"/>
<rect x="650" y="325.02" width="17.6" height="3.62" fill="#2e1a5d"/>
<rect x="667" y="325.02" width="18.2" height="3.62" fill="#302163"/>
<rect x="684.6" y="325.02" width="15.4" height="3.62" fill="#3b5a82"/>
<rect x="699.4" y="325.02" width="35.2" height="3.62" fill="#3e6a84"/>
<rect x="441.8" y="328.04" width="39.8" height="3.62" fill="#38477e"/>
<rect x="481" y="328.04" width="27.6" height="3.62" fill="#38497f"/>
<rect x="508" y="328.04" width="15.1" height="3.62" fill="#394b7f"/>
<rect x="522.5" y="328.04" width="13.1" height="3.62" fill="#38467e"/>
<rect x="535" y="328.04" width="37.6" height="3.62" fill="#353c77"/>
<rect x="572" y="328.04" width="13.6" height="3.62" fill="#38497f"/>
<rect x="585" y="328.04" width="27.4" height="3.62" fill="#38467e"/>
<rect x="611.8" y="328.04" width="38.8" height="3.62" fill="#394e80"/>
<rect x="650" y="328.04" width="17.6" height="3.62" fill="#2a1856"/>
<rect x="667" y="328.04" width="18.2" height="3.62" fill="#302063"/>
<rect x="684.6" y="328.04" width="15.4" height="3.62" fill="#3b5881"/>
<rect x="699.4" y="328.04" width="35.2" height="3.62" fill="#3e6b84"/>
<rect x="441.8" y="331.06" width="39.8" height="3.62" fill="#3b5981"/>
<rect x="481" y="331.06" width="27.6" height="3.62" fill="#37457d"/>
<rect x="508" y="331.06" width="15.1" height="3.62" fill="#384a7f"/>
<rect x="522.5" y="331.06" width="13.1" height="3.62" fill="#363f79"/>
<rect x="535" y="331.06" width="37.6" height="3.62" fill="#37447c"/>
<rect x="572" y="331.06" width="13.6" height="3.62" fill="#38497f"/>
<rect x="585" y="331.06" width="27.4" height="3.62" fill="#394e80"/>
<rect x="611.8" y="331.06" width="38.8" height="3.62" fill="#3a5180"/>
<rect x="650" y="331.06" width="17.6" height="3.62" fill="#2e1a5d"/>
<rect x="667" y="331.06" width="18.2" height="3.62" fill="#2f1d61"/>
<rect x="684.6" y="331.06" width="15.4" height="3.62" fill="#3c6083"/>
<rect x="699.4" y="331.06" width="35.2" height="3.62" fill="#3d6583"/>
<rect x="441.8" y="334.09" width="39.8" height="3.62" fill="#395080"/>
<rect x="481" y="334.09" width="27.6" height="3.62" fill="#37437b"/>
<rect x="508" y="334.09" width="15.1" height="3.62" fill="#38497f"/>
<rect x="522.5" y="334.09" width="13.1" height="3.62" fill="#37457d"/>
<rect x="535" y="334.09" width="37.6" height="3.62" fill="#384a7f"/>
<rect x="572" y="334.09" width="13.6" height="3.62" fill="#37427b"/>
<rect x="585" y="334.09" width="27.4" height="3.62" fill="#3a5581"/>
<rect x="611.8" y="334.09" width="38.8" height="3.62" fill="#394e80"/>
<rect x="650" y="334.09" width="17.6" height="3.62" fill="#2f1d61"/>
<rect x="667" y="334.09" width="18.2" height="3.62" fill="#302264"/>
<rect x="684.6" y="334.09" width="15.4" height="3.62" fill="#3c5d82"/>
<rect x="699.4" y="334.09" width="35.2" height="3.62" fill="#3d6583"/>
<rect x="441.8" y="337.11" width="39.8" height="3.62" fill="#3a5381"/>
<rect x="481" y="337.11" width="27.6" height="3.62" fill="#3a5280"/>
<rect x="508" y="337.11" width="15.1" height="3.62" fill="#3b5981"/>
<rect x="522.5" y="337.11" width="13.1" height="3.62" fill="#3b5a82"/>
<rect x="535" y="337.11" width="37.6" height="3.62" fill="#3c6082"/>
<rect x="572" y="337.11" width="13.6" height="3.62" fill="#3a5280"/>
<rect x="585" y="337.11" width="27.4" height="3.62" fill="#3e6b84"/>
<rect x="611.8" y="337.11" width="38.8" height="3.62" fill="#38467e"/>
<rect x="650" y="337.11" width="17.6" height="3.62" fill="#3c5e82"/>
<rect x="667" y="337.11" width="18.2" height="3.62" fill="#37427b"/>
<rect x="684.6" y="337.11" width="15.4" height="3.62" fill="#38497f"/>
<rect x="699.4" y="337.11" width="35.2" height="3.62" fill="#3e6884"/>
<rect x="441.8" y="340.13" width="39.8" height="3.62" fill="#3a5281"/>
<rect x="481" y="340.13" width="27.6" height="3.62" fill="#3b5881"/>
<rect x="508" y="340.13" width="15.1" height="3.62" fill="#3a5581"/>
<rect x="522.5" y="340.13" width="13.1" height="3.62" fill="#3d6383"/>
<rect x="535" y="340.13" width="37.6" height="3.62" fill="#3c6183"/>
<rect x="572" y="340.13" width="13.6" height="3.62" fill="#3a5381"/>
<rect x="585" y="340.13" width="27.4" height="3.62" fill="#3e6b84"/>
<rect x="611.8" y="340.13" width="38.8" height="3.62" fill="#38497f"/>
<rect x="650" y="340.13" width="17.6" height="3.62" fill="#3e6784"/>
<rect x="667" y="340.13" width="18.2" height="3.62" fill="#37447c"/>
<rect x="684.6" y="340.13" width="15.4" height="3.62" fill="#384b7f"/>
<rect x="699.4" y="340.13" width="35.2" height="3.62" fill="#407283"/>
<rect x="441.8" y="343.15" width="39.8" height="3.62" fill="#2e1b5e"/>
<rect x="481" y="343.15" width="27.6" height="3.62" fill="#302365"/>
<rect x="508" y="343.15" width="15.1" height="3.62" fill="#3f6d84"/>
<rect x="522.5" y="343.15" width="13.1" height="3.62" fill="#3d6383"/>
<rect x="535" y="343.15" width="37.6" height="3.62" fill="#437c82"/>
<rect x="572" y="343.15" width="13.6" height="3.62" fill="#407183"/>
<rect x="585" y="343.15" width="27.4" height="3.62" fill="#417483"/>
<rect x="611.8" y="343.15" width="38.8" height="3.62" fill="#3a5381"/>
<rect x="650" y="343.15" width="17.6" height="3.62" fill="#498681"/>
<rect x="667" y="343.15" width="18.2" height="3.62" fill="#3d6583"/>
<rect x="684.6" y="343.15" width="15.4" height="3.62" fill="#3e6984"/>
<rect x="699.4" y="343.15" width="35.2" height="3.62" fill="#5c9b7d"/>
<rect x="441.8" y="346.17" width="39.8" height="3.62" fill="#2f1d60"/>
<rect x="481" y="346.17" width="27.6" height="3.62" fill="#302265"/>
<rect x="508" y="346.17" width="15.1" height="3.62" fill="#3e6a84"/>
<rect x="522.5" y="346.17" width="13.1" height="3.62" fill="#3f6f84"/>
<rect x="535" y="346.17" width="37.6" height="3.62" fill="#407083"/>
<rect x="572" y="346.17" width="13.6" height="3.62" fill="#3f6d84"/>
<rect x="585" y="346.17" width="27.4" height="3.62" fill="#427783"/>
<rect x="611.8" y="346.17" width="38.8" height="3.62" fill="#394d80"/>
<rect x="650" y="346.17" width="17.6" height="3.62" fill="#437d82"/>
<rect x="667" y="346.17" width="18.2" height="3.62" fill="#3d6483"/>
<rect x="684.6" y="346.17" width="15.4" height="3.62" fill="#3e6b84"/>
<rect x="699.4" y="346.17" width="35.2" height="3.62" fill="#5d9c7d"/>
<rect x="441.8" y="349.19" width="39.8" height="3.62" fill="#301e61"/>
<rect x="481" y="349.19" width="27.6" height="3.62" fill="#2f1d61"/>
<rect x="508" y="349.19" width="15.1" height="3.62" fill="#3e6a84"/>
<rect x="522.5" y="349.19" width="13.1" height="3.62" fill="#3f6d84"/>
<rect x="535" y="349.19" width="37.6" height="3.62" fill="#407283"/>
<rect x="572" y="349.19" width="13.6" height="3.62" fill="#3b5b82"/>
<rect x="585" y="349.19" width="27.4" height="3.62" fill="#417683"/>
<rect x="611.8" y="349.19" width="38.8" height="3.62" fill="#3c5d82"/>
<rect x="650" y="349.19" width="17.6" height="3.62" fill="#4c8a80"/>
<rect x="667" y="349.19" width="18.2" height="3.62" fill="#3d6483"/>
<rect x="684.6" y="349.19" width="15.4" height="3.62" fill="#3e6784"/>
<rect x="699.4" y="349.19" width="35.2" height="3.62" fill="#5b9b7d"/>
<rect x="441.8" y="352.21" width="39.8" height="3.62" fill="#302164"/>
<rect x="481" y="352.21" width="27.6" height="3.62" fill="#302264"/>
<rect x="508" y="352.21" width="15.1" height="3.62" fill="#3e6a84"/>
<rect x="522.5" y="352.21" width="13.1" height="3.62" fill="#407083"/>
<rect x="535" y="352.21" width="37.6" height="3.62" fill="#407283"/>
<rect x="572" y="352.21" width="13.6" height="3.62" fill="#407183"/>
<rect x="585" y="352.21" width="27.4" height="3.62" fill="#407083"/>
<rect x="611.8" y="352.21" width="38.8" height="3.62" fill="#394c80"/>
<rect x="650" y="352.21" width="17.6" height="3.62" fill="#4b8981"/>
<rect x="667" y="352.21" width="18.2" height="3.62" fill="#407083"/>
<rect x="684.6" y="352.21" width="15.4" height="3.62" fill="#3f6d84"/>
<rect x="699.4" y="352.21" width="35.2" height="3.62" fill="#5c9b7d"/>
<rect x="441.8" y="355.23" width="39.8" height="3.62" fill="#2f1b5e"/>
<rect x="481" y="355.23" width="27.6" height="3.62" fill="#301e61"/>
<rect x="508" y="355.23" width="15.1" height="3.62" fill="#3b5981"/>
<rect x="522.5" y="355.23" width="13.1" height="3.62" fill="#3b5982"/>
<rect x="535" y="355.23" width="37.6" height="3.62" fill="#3c6083"/>
<rect x="572" y="355.23" width="13.6" height="3.62" fill="#394d80"/>
<rect x="585" y="355.23" width="27.4" height="3.62" fill="#3a5481"/>
<rect x="611.8" y="355.23" width="38.8" height="3.62" fill="#37467d"/>
<rect x="650" y="355.23" width="17.6" height="3.62" fill="#394d80"/>
<rect x="667" y="355.23" width="18.2" height="3.62" fill="#395080"/>
<rect x="684.6" y="355.23" width="15.4" height="3.62" fill="#3a5180"/>
<rect x="699.4" y="355.23" width="35.2" height="3.62" fill="#3d6283"/>
<rect x="441.8" y="358.26" width="39.8" height="3.62" fill="#301f62"/>
<rect x="481" y="358.26" width="27.6" height="3.62" fill="#301f62"/>
<rect x="508" y="358.26" width="15.1" height="3.62" fill="#3a5481"/>
<rect x="522.5" y="358.26" width="13.1" height="3.62" fill="#3d6683"/>
<rect x="535" y="358.26" width="37.6" height="3.62" fill="#3d6583"/>
<rect x="572" y="358.26" width="13.6" height="3.62" fill="#394e80"/>
<rect x="585" y="358.26" width="27.4" height="3.62" fill="#394c80"/>
<rect x="611.8" y="358.26" width="38.8" height="3.62" fill="#363f79"/>
<rect x="650" y="358.26" width="17.6" height="3.62" fill="#395080"/>
<rect x="667" y="358.26" width="18.2" height="3.62" fill="#395080"/>
<rect x="684.6" y="358.26" width="15.4" height="3.62" fill="#3c5c82"/>
<rect x="699.4" y="358.26" width="35.2" height="3.62" fill="#3c5e82"/>
<rect x="441.8" y="361.28" width="39.8" height="3.62" fill="#312566"/>
<rect x="481" y="361.28" width="27.6" height="3.62" fill="#301f62"/>
<rect x="508" y="361.28" width="15.1" height="3.62" fill="#322b6b"/>
<rect x="522.5" y="361.28" width="13.1" height="3.62" fill="#312769"/>
<rect x="535" y="361.28" width="37.6" height="3.62" fill="#2f1b5f"/>
<rect x="572" y="361.28" width="13.6" height="3.62" fill="#302163"/>
<rect x="585" y="361.28" width="27.4" height="3.62" fill="#2f1b5f"/>
<rect x="611.8" y="361.28" width="38.8" height="3.62" fill="#322b6b"/>
<rect x="650" y="361.28" width="17.6" height="3.62" fill="#343472"/>
<rect x="667" y="361.28" width="18.2" height="3.62" fill="#333270"/>
<rect x="684.6" y="361.28" width="15.4" height="3.62" fill="#302062"/>
<rect x="699.4" y="361.28" width="35.2" height="3.62" fill="#2e1a5d"/>
<rect x="441.8" y="364.30" width="39.8" height="3.62" fill="#312768"/>
<rect x="481" y="364.30" width="27.6" height="3.62" fill="#302264"/>
<rect x="508" y="364.30" width="15.1" height="3.62" fill="#312969"/>
<rect x="522.5" y="364.30" width="13.1" height="3.62" fill="#302063"/>
<rect x="535" y="364.30" width="37.6" height="3.62" fill="#2f1d61"/>
<rect x="572" y="364.30" width="13.6" height="3.62" fill="#312466"/>
<rect x="585" y="364.30" width="27.4" height="3.62" fill="#312567"/>
<rect x="611.8" y="364.30" width="38.8" height="3.62" fill="#2f1c60"/>
<rect x="650" y="364.30" width="17.6" height="3.62" fill="#31296a"/>
<rect x="667" y="364.30" width="18.2" height="3.62" fill="#343371"/>
<rect x="684.6" y="364.30" width="15.4" height="3.62" fill="#302365"/>
<rect x="699.4" y="364.30" width="35.2" height="3.62" fill="#2f1d61"/>
<rect x="441.8" y="367.32" width="39.8" height="3.62" fill="#312566"/>
<rect x="481" y="367.32" width="27.6" height="3.62" fill="#312566"/>
<rect x="508" y="367.32" width="15.1" height="3.62" fill="#2b1957"/>
<rect x="522.5" y="367.32" width="13.1" height="3.62" fill="#2c1959"/>
<rect x="535" y="367.32" width="37.6" height="3.62" fill="#2f1d61"/>
<rect x="572" y="367.32" width="13.6" height="3.62" fill="#2f1b5f"/>
<rect x="585" y="367.32" width="27.4" height="3.62" fill="#302063"/>
<rect x="611.8" y="367.32" width="38.8" height="3.62" fill="#2d1a5c"/>
<rect x="650" y="367.32" width="17.6" height="3.62" fill="#37457d"/>
<rect x="667" y="367.32" width="18.2" height="3.62" fill="#343572"/>
<rect x="684.6" y="367.32" width="15.4" height="3.62" fill="#2d1a5c"/>
<rect x="699.4" y="367.32" width="35.2" height="3.62" fill="#2b1957"/>
<rect x="441.8" y="370.34" width="39.8" height="3.62" fill="#302164"/>
<rect x="481" y="370.34" width="27.6" height="3.62" fill="#31296a"/>
<rect x="508" y="370.34" width="15.1" height="3.62" fill="#2f1e61"/>
<rect x="522.5" y="370.34" width="13.1" height="3.62" fill="#2f1c60"/>
<rect x="535" y="370.34" width="37.6" height="3.62" fill="#2f1d61"/>
<rect x="572" y="370.34" width="13.6" height="3.62" fill="#2e1b5e"/>
<rect x="585" y="370.34" width="27.4" height="3.62" fill="#2c1959"/>
<rect x="611.8" y="370.34" width="38.8" height="3.62" fill="#2e1a5d"/>
<rect x="650" y="370.34" width="17.6" height="3.62" fill="#37437c"/>
<rect x="667" y="370.34" width="18.2" height="3.62" fill="#343472"/>
<rect x="684.6" y="370.34" width="15.4" height="3.62" fill="#2a1855"/>
<rect x="699.4" y="370.34" width="35.2" height="3.62" fill="#2a1856"/>
<rect x="441.8" y="373.36" width="39.8" height="3.62" fill="#312768"/>
<rect x="481" y="373.36" width="27.6" height="3.62" fill="#312768"/>
<rect x="508" y="373.36" width="15.1" height="3.62" fill="#2d1a5a"/>
<rect x="522.5" y="373.36" width="13.1" height="3.62" fill="#2f1e61"/>
<rect x="535" y="373.36" width="37.6" height="3.62" fill="#2e1b5d"/>
<rect x="572" y="373.36" width="13.6" height="3.62" fill="#2f1b5f"/>
<rect x="585" y="373.36" width="27.4" height="3.62" fill="#2f1d61"/>
<rect x="611.8" y="373.36" width="38.8" height="3.62" fill="#2c1959"/>
<rect x="650" y="373.36" width="17.6" height="3.62" fill="#353b76"/>
<rect x="667" y="373.36" width="18.2" height="3.62" fill="#363e78"/>
<rect x="684.6" y="373.36" width="15.4" height="3.62" fill="#2c1959"/>
<rect x="699.4" y="373.36" width="35.2" height="3.62" fill="#2f1d61"/>
<rect x="441.8" y="376.38" width="39.8" height="3.62" fill="#312869"/>
<rect x="481" y="376.38" width="27.6" height="3.62" fill="#322a6a"/>
<rect x="508" y="376.38" width="15.1" height="3.62" fill="#2f1c5f"/>
<rect x="522.5" y="376.38" width="13.1" height="3.62" fill="#291853"/>
<rect x="535" y="376.38" width="37.6" height="3.62" fill="#2f1c5f"/>
<rect x="572" y="376.38" width="13.6" height="3.62" fill="#2c1959"/>
<rect x="585" y="376.38" width="27.4" height="3.62" fill="#2c1959"/>
<rect x="611.8" y="376.38" width="38.8" height="3.62" fill="#2d1a5b"/>
<rect x="650" y="376.38" width="17.6" height="3.62" fill="#38497f"/>
<rect x="667" y="376.38" width="18.2" height="3.62" fill="#363e79"/>
<rect x="684.6" y="376.38" width="15.4" height="3.62" fill="#2f1c60"/>
<rect x="699.4" y="376.38" width="35.2" height="3.62" fill="#2a1855"/>
<rect x="441.8" y="379.40" width="39.8" height="3.62" fill="#312567"/>
<rect x="481" y="379.40" width="27.6" height="3.62" fill="#302063"/>
<rect x="508" y="379.40" width="15.1" height="3.62" fill="#2d1a5c"/>
<rect x="522.5" y="379.40" width="13.1" height="3.62" fill="#2f1b5f"/>
<rect x="535" y="379.40" width="37.6" height="3.62" fill="#2c1959"/>
<rect x="572" y="379.40" width="13.6" height="3.62" fill="#2e1b5e"/>
<rect x="585" y="379.40" width="27.4" height="3.62" fill="#2e1b5e"/>
<rect x="611.8" y="379.40" width="38.8" height="3.62" fill="#2f1c60"/>
<rect x="650" y="379.40" width="17.6" height="3.62" fill="#37417a"/>
<rect x="667" y="379.40" width="18.2" height="3.62" fill="#343673"/>
<rect x="684.6" y="379.40" width="15.4" height="3.62" fill="#2c1959"/>
<rect x="699.4" y="379.40" width="35.2" height="3.62" fill="#301f62"/>
<rect x="441.8" y="382.43" width="39.8" height="3.62" fill="#322a6b"/>
<rect x="481" y="382.43" width="27.6" height="3.62" fill="#312768"/>
<rect x="508" y="382.43" width="15.1" height="3.62" fill="#2e1b5e"/>
<rect x="522.5" y="382.43" width="13.1" height="3.62" fill="#2e1a5d"/>
<rect x="535" y="382.43" width="37.6" height="3.62" fill="#2e1b5d"/>
<rect x="572" y="382.43" width="13.6" height="3.62" fill="#2d1a5c"/>
<rect x="585" y="382.43" width="27.4" height="3.62" fill="#2d1a5b"/>
<rect x="611.8" y="382.43" width="38.8" height="3.62" fill="#2b1957"/>
<rect x="650" y="382.43" width="17.6" height="3.62" fill="#37427b"/>
<rect x="667" y="382.43" width="18.2" height="3.62" fill="#37427b"/>
<rect x="684.6" y="382.43" width="15.4" height="3.62" fill="#2f1b5f"/>
<rect x="699.4" y="382.43" width="35.2" height="3.62" fill="#2e1a5d"/>
<rect x="441.8" y="385.45" width="39.8" height="3.62" fill="#312668"/>
<rect x="481" y="385.45" width="27.6" height="3.62" fill="#312768"/>
<rect x="508" y="385.45" width="15.1" height="3.62" fill="#2f1b5e"/>
<rect x="522.5" y="385.45" width="13.1" height="3.62" fill="#2c195a"/>
<rect x="535" y="385.45" width="37.6" height="3.62" fill="#2e1b5d"/>
<rect x="572" y="385.45" width="13.6" height="3.62" fill="#2e1b5e"/>
<rect x="585" y="385.45" width="27.4" height="3.62" fill="#2c1959"/>
<rect x="611.8" y="385.45" width="38.8" height="3.62" fill="#2c1959"/>
<rect x="650" y="385.45" width="17.6" height="3.62" fill="#36407a"/>
<rect x="667" y="385.45" width="18.2" height="3.62" fill="#343572"/>
<rect x="684.6" y="385.45" width="15.4" height="3.62" fill="#2f1c60"/>
<rect x="699.4" y="385.45" width="35.2" height="3.62" fill="#281752"/>
<rect x="441.8" y="388.47" width="39.8" height="3.62" fill="#312667"/>
<rect x="481" y="388.47" width="27.6" height="3.62" fill="#312567"/>
<rect x="508" y="388.47" width="15.1" height="3.62" fill="#2c1a5a"/>
<rect x="522.5" y="388.47" width="13.1" height="3.62" fill="#2e1a5d"/>
<rect x="535" y="388.47" width="37.6" height="3.62" fill="#2f1d60"/>
<rect x="572" y="388.47" width="13.6" height="3.62" fill="#2e1a5d"/>
<rect x="585" y="388.47" width="27.4" height="3.62" fill="#2d1a5c"/>
<rect x="611.8" y="388.47" width="38.8" height="3.62" fill="#2c1a5a"/>
<rect x="650" y="388.47" width="17.6" height="3.62" fill="#37457d"/>
<rect x="667" y="388.47" width="18.2" height="3.62" fill="#363f79"/>
<rect x="684.6" y="388.47" width="15.4" height="3.62" fill="#2d1a5b"/>
<rect x="699.4" y="388.47" width="35.2" height="3.62" fill="#2b1957"/>
<rect x="441.8" y="391.49" width="39.8" height="3.62" fill="#343471"/>
<rect x="481" y="391.49" width="27.6" height="3.62" fill="#343472"/>
<rect x="508" y="391.49" width="15.1" height="3.62" fill="#302365"/>
<rect x="522.5" y="391.49" width="13.1" height="3.62" fill="#364079"/>
<rect x="535" y="391.49" width="37.6" height="3.62" fill="#353c77"/>
<rect x="572" y="391.49" width="13.6" height="3.62" fill="#353975"/>
<rect x="585" y="391.49" width="27.4" height="3.62" fill="#37417a"/>
<rect x="611.8" y="391.49" width="38.8" height="3.62" fill="#343773"/>
<rect x="650" y="391.49" width="17.6" height="3.62" fill="#a5c65a"/>
<rect x="667" y="391.49" width="18.2" height="3.62" fill="#76af71"/>
<rect x="684.6" y="391.49" width="15.4" height="3.62" fill="#363d78"/>
<rect x="699.4" y="391.49" width="35.2" height="3.62" fill="#3f6d84"/>
<rect x="441.8" y="394.51" width="39.8" height="3.62" fill="#3b5781"/>
<rect x="481" y="394.51" width="27.6" height="3.62" fill="#3a5481"/>
<rect x="508" y="394.51" width="15.1" height="3.62" fill="#312466"/>
<rect x="522.5" y="394.51" width="13.1" height="3.62" fill="#343471"/>
<rect x="535" y="394.51" width="37.6" height="3.62" fill="#363f79"/>
<rect x="572" y="394.51" width="13.6" height="3.62" fill="#353874"/>
<rect x="585" y="394.51" width="27.4" height="3.62" fill="#394c80"/>
<rect x="611.8" y="394.51" width="38.8" height="3.62" fill="#343774"/>
<rect x="650" y="394.51" width="17.6" height="3.62" fill="#59987e"/>
<rect x="667" y="394.51" width="18.2" height="3.62" fill="#3c5f82"/>
<rect x="684.6" y="394.51" width="15.4" height="3.62" fill="#38497f"/>
<rect x="699.4" y="394.51" width="35.2" height="3.62" fill="#3f6e84"/>
<rect x="441.8" y="397.53" width="39.8" height="3.62" fill="#3c5f82"/>
<rect x="481" y="397.53" width="27.6" height="3.62" fill="#3b5c82"/>
<rect x="508" y="397.53" width="15.1" height="3.62" fill="#312869"/>
<rect x="522.5" y="397.53" width="13.1" height="3.62" fill="#353874"/>
<rect x="535" y="397.53" width="37.6" height="3.62" fill="#333170"/>
<rect x="572" y="397.53" width="13.6" height="3.62" fill="#353874"/>
<rect x="585" y="397.53" width="27.4" height="3.62" fill="#38497f"/>
<rect x="611.8" y="397.53" width="38.8" height="3.62" fill="#37447c"/>
<rect x="650" y="397.53" width="17.6" height="3.62" fill="#5d9c7d"/>
<rect x="667" y="397.53" width="18.2" height="3.62" fill="#3d6683"/>
<rect x="684.6" y="397.53" width="15.4" height="3.62" fill="#3a5581"/>
<rect x="699.4" y="397.53" width="35.2" height="3.62" fill="#417583"/>
<rect x="441.8" y="400.55" width="39.8" height="3.62" fill="#3a5281"/>
<rect x="481" y="400.55" width="27.6" height="3.62" fill="#394c80"/>
<rect x="508" y="400.55" width="15.1" height="3.62" fill="#301f62"/>
<rect x="522.5" y="400.55" width="13.1" height="3.62" fill="#353a76"/>
<rect x="535" y="400.55" width="37.6" height="3.62" fill="#353b76"/>
<rect x="572" y="400.55" width="13.6" height="3.62" fill="#353874"/>
<rect x="585" y="400.55" width="27.4" height="3.62" fill="#395080"/>
<rect x="611.8" y="400.55" width="38.8" height="3.62" fill="#343773"/>
<rect x="650" y="400.55" width="17.6" height="3.62" fill="#56967f"/>
<rect x="667" y="400.55" width="18.2" height="3.62" fill="#407083"/>
<rect x="684.6" y="400.55" width="15.4" height="3.62" fill="#3a5180"/>
<rect x="699.4" y="400.55" width="35.2" height="3.62" fill="#417583"/>
<rect x="441.8" y="403.57" width="39.8" height="3.62" fill="#3a5381"/>
<rect x="481" y="403.57" width="27.6" height="3.62" fill="#394e80"/>
<rect x="508" y="403.57" width="15.1" height="3.62" fill="#32296a"/>
<rect x="522.5" y="403.57" width="13.1" height="3.62" fill="#302365"/>
<rect x="535" y="403.57" width="37.6" height="3.62" fill="#2f1d60"/>
<rect x="572" y="403.57" width="13.6" height="3.62" fill="#322d6d"/>
<rect x="585" y="403.57" width="27.4" height="3.62" fill="#353c77"/>
<rect x="611.8" y="403.57" width="38.8" height="3.62" fill="#322e6d"/>
<rect x="650" y="403.57" width="17.6" height="3.62" fill="#5b9b7d"/>
<rect x="667" y="403.57" width="18.2" height="3.62" fill="#3f6f84"/>
<rect x="684.6" y="403.57" width="15.4" height="3.62" fill="#37437c"/>
<rect x="699.4" y="403.57" width="35.2" height="3.62" fill="#4f8d80"/>
<rect x="441.8" y="406.60" width="39.8" height="3.62" fill="#3b5881"/>
<rect x="481" y="406.60" width="27.6" height="3.62" fill="#38497f"/>
<rect x="508" y="406.60" width="15.1" height="3.62" fill="#31296a"/>
<rect x="522.5" y="406.60" width="13.1" height="3.62" fill="#312466"/>
<rect x="535" y="406.60" width="37.6" height="3.62" fill="#2d1a5b"/>
<rect x="572" y="406.60" width="13.6" height="3.62" fill="#343371"/>
<rect x="585" y="406.60" width="27.4" height="3.62" fill="#36407a"/>
<rect x="611.8" y="406.60" width="38.8" height="3.62" fill="#312869"/>
<rect x="650" y="406.60" width="17.6" height="3.62" fill="#5d9c7d"/>
<rect x="667" y="406.60" width="18.2" height="3.62" fill="#407183"/>
<rect x="684.6" y="406.60" width="15.4" height="3.62" fill="#394c80"/>
<rect x="699.4" y="406.60" width="35.2" height="3.62" fill="#478481"/>
<rect x="441.8" y="409.62" width="39.8" height="3.62" fill="#3b5981"/>
<rect x="481" y="409.62" width="27.6" height="3.62" fill="#3b5b82"/>
<rect x="508" y="409.62" width="15.1" height="3.62" fill="#38487f"/>
<rect x="522.5" y="409.62" width="13.1" height="3.62" fill="#394d80"/>
<rect x="535" y="409.62" width="37.6" height="3.62" fill="#394e80"/>
<rect x="572" y="409.62" width="13.6" height="3.62" fill="#394e80"/>
<rect x="585" y="409.62" width="27.4" height="3.62" fill="#394c80"/>
<rect x="611.8" y="409.62" width="38.8" height="3.62" fill="#353975"/>
<rect x="650" y="409.62" width="17.6" height="3.62" fill="#447f82"/>
<rect x="667" y="409.62" width="18.2" height="3.62" fill="#3d6383"/>
<rect x="684.6" y="409.62" width="15.4" height="3.62" fill="#343572"/>
<rect x="699.4" y="409.62" width="35.2" height="3.62" fill="#2d1a5a"/>
<rect x="441.8" y="412.64" width="39.8" height="3.62" fill="#3b5c82"/>
<rect x="481" y="412.64" width="27.6" height="3.62" fill="#3b5a82"/>
<rect x="508" y="412.64" width="15.1" height="3.62" fill="#38497f"/>
<rect x="522.5" y="412.64" width="13.1" height="3.62" fill="#394d80"/>
<rect x="535" y="412.64" width="37.6" height="3.62" fill="#3c5c82"/>
<rect x="572" y="412.64" width="13.6" height="3.62" fill="#394b7f"/>
<rect x="585" y="412.64" width="27.4" height="3.62" fill="#37457d"/>
<rect x="611.8" y="412.64" width="38.8" height="3.62" fill="#364079"/>
<rect x="650" y="412.64" width="17.6" height="3.62" fill="#4b8981"/>
<rect x="667" y="412.64" width="18.2" height="3.62" fill="#3c6183"/>
<rect x="684.6" y="412.64" width="15.4" height="3.62" fill="#363e78"/>
<rect x="699.4" y="412.64" width="35.2" height="3.62" fill="#291854"/>
<rect x="441.8" y="415.66" width="39.8" height="3.62" fill="#3b5781"/>
<rect x="481" y="415.66" width="27.6" height="3.62" fill="#3c5d82"/>
<rect x="508" y="415.66" width="15.1" height="3.62" fill="#3a5280"/>
<rect x="522.5" y="415.66" width="13.1" height="3.62" fill="#3b5781"/>
<rect x="535" y="415.66" width="37.6" height="3.62" fill="#3a5280"/>
<rect x="572" y="415.66" width="13.6" height="3.62" fill="#394d80"/>
<rect x="585" y="415.66" width="27.4" height="3.62" fill="#37457d"/>
<rect x="611.8" y="415.66" width="38.8" height="3.62" fill="#353975"/>
<rect x="650" y="415.66" width="17.6" height="3.62" fill="#498681"/>
<rect x="667" y="415.66" width="18.2" height="3.62" fill="#3c6183"/>
<rect x="684.6" y="415.66" width="15.4" height="3.62" fill="#353874"/>
<rect x="699.4" y="415.66" width="35.2" height="3.62" fill="#2c1959"/>
<rect x="441.8" y="418.68" width="39.8" height="3.62" fill="#343673"/>
<rect x="481" y="418.68" width="27.6" height="3.62" fill="#364079"/>
<rect x="508" y="418.68" width="15.1" height="3.62" fill="#36407a"/>
<rect x="522.5" y="418.68" width="13.1" height="3.62" fill="#363f79"/>
<rect x="535" y="418.68" width="37.6" height="3.62" fill="#363e78"/>
<rect x="572" y="418.68" width="13.6" height="3.62" fill="#363e78"/>
<rect x="585" y="418.68" width="27.4" height="3.62" fill="#332f6e"/>
<rect x="611.8" y="418.68" width="38.8" height="3.62" fill="#333270"/>
<rect x="650" y="418.68" width="17.6" height="3.62" fill="#3f6f84"/>
<rect x="667" y="418.68" width="18.2" height="3.62" fill="#3b5b82"/>
<rect x="684.6" y="418.68" width="15.4" height="3.62" fill="#322b6c"/>
<rect x="699.4" y="418.68" width="35.2" height="3.62" fill="#2f1c5f"/>
<rect x="441.8" y="421.70" width="39.8" height="3.62" fill="#343774"/>
<rect x="481" y="421.70" width="27.6" height="3.62" fill="#353975"/>
<rect x="508" y="421.70" width="15.1" height="3.62" fill="#353c77"/>
<rect x="522.5" y="421.70" width="13.1" height="3.62" fill="#36417a"/>
<rect x="535" y="421.70" width="37.6" height="3.62" fill="#343673"/>
<rect x="572" y="421.70" width="13.6" height="3.62" fill="#343572"/>
<rect x="585" y="421.70" width="27.4" height="3.62" fill="#333371"/>
<rect x="611.8" y="421.70" width="38.8" height="3.62" fill="#322a6b"/>
<rect x="650" y="421.70" width="17.6" height="3.62" fill="#417583"/>
<rect x="667" y="421.70" width="18.2" height="3.62" fill="#3b5981"/>
<rect x="684.6" y="421.70" width="15.4" height="3.62" fill="#322e6e"/>
<rect x="699.4" y="421.70" width="35.2" height="3.62" fill="#291854"/>
<rect x="441.8" y="424.72" width="39.8" height="3.62" fill="#333270"/>
<rect x="481" y="424.72" width="27.6" height="3.62" fill="#322c6c"/>
<rect x="508" y="424.72" width="15.1" height="3.62" fill="#312466"/>
<rect x="522.5" y="424.72" width="13.1" height="3.62" fill="#322e6d"/>
<rect x="535" y="424.72" width="37.6" height="3.62" fill="#31296a"/>
<rect x="572" y="424.72" width="13.6" height="3.62" fill="#343572"/>
<rect x="585" y="424.72" width="27.4" height="3.62" fill="#33316f"/>
<rect x="611.8" y="424.72" width="38.8" height="3.62" fill="#322d6d"/>
<rect x="650" y="424.72" width="17.6" height="3.62" fill="#3e6a84"/>
<rect x="667" y="424.72" width="18.2" height="3.62" fill="#3d6683"/>
<rect x="684.6" y="424.72" width="15.4" height="3.62" fill="#332f6e"/>
<rect x="699.4" y="424.72" width="35.2" height="3.62" fill="#271750"/>
<rect x="441.8" y="427.74" width="39.8" height="3.62" fill="#333170"/>
<rect x="481" y="427.74" width="27.6" height="3.62" fill="#322b6b"/>
<rect x="508" y="427.74" width="15.1" height="3.62" fill="#312768"/>
<rect x="522.5" y="427.74" width="13.1" height="3.62" fill="#312567"/>
<rect x="535" y="427.74" width="37.6" height="3.62" fill="#302365"/>
<rect x="572" y="427.74" width="13.6" height="3.62" fill="#322a6a"/>
<rect x="585" y="427.74" width="27.4" height="3.62" fill="#333270"/>
<rect x="611.8" y="427.74" width="38.8" height="3.62" fill="#332f6e"/>
<rect x="650" y="427.74" width="17.6" height="3.62" fill="#3d6483"/>
<rect x="667" y="427.74" width="18.2" height="3.62" fill="#395080"/>
<rect x="684.6" y="427.74" width="15.4" height="3.62" fill="#333170"/>
<rect x="699.4" y="427.74" width="35.2" height="3.62" fill="#26164d"/>
<rect x="441.8" y="430.77" width="39.8" height="3.62" fill="#312969"/>
<rect x="481" y="430.77" width="27.6" height="3.62" fill="#332e6e"/>
<rect x="508" y="430.77" width="15.1" height="3.62" fill="#302265"/>
<rect x="522.5" y="430.77" width="13.1" height="3.62" fill="#312768"/>
<rect x="535" y="430.77" width="37.6" height="3.62" fill="#312768"/>
<rect x="572" y="430.77" width="13.6" height="3.62" fill="#312869"/>
<rect x="585" y="430.77" width="27.4" height="3.62" fill="#33306f"/>
<rect x="611.8" y="430.77" width="38.8" height="3.62" fill="#33306e"/>
<rect x="650" y="430.77" width="17.6" height="3.62" fill="#3d6383"/>
<rect x="667" y="430.77" width="18.2" height="3.62" fill="#3b5a82"/>
<rect x="684.6" y="430.77" width="15.4" height="3.62" fill="#322c6c"/>
<rect x="699.4" y="430.77" width="35.2" height="3.62" fill="#25164c"/>
<rect x="441.8" y="433.79" width="39.8" height="3.62" fill="#33306f"/>
<rect x="481" y="433.79" width="27.6" height="3.62" fill="#333270"/>
<rect x="508" y="433.79" width="15.1" height="3.62" fill="#322c6c"/>
<rect x="522.5" y="433.79" width="13.1" height="3.62" fill="#301f62"/>
<rect x="535" y="433.79" width="37.6" height="3.62" fill="#312869"/>
<rect x="572" y="433.79" width="13.6" height="3.62" fill="#312668"/>
<rect x="585" y="433.79" width="27.4" height="3.62" fill="#353a76"/>
<rect x="611.8" y="433.79" width="38.8" height="3.62" fill="#343471"/>
<rect x="650" y="433.79" width="17.6" height="3.62" fill="#3c6083"/>
<rect x="667" y="433.79" width="18.2" height="3.62" fill="#3c5f82"/>
<rect x="684.6" y="433.79" width="15.4" height="3.62" fill="#322c6c"/>
<rect x="699.4" y="433.79" width="35.2" height="3.62" fill="#281752"/>
<rect x="441.8" y="436.81" width="39.8" height="3.62" fill="#322a6b"/>
<rect x="481" y="436.81" width="27.6" height="3.62" fill="#322e6e"/>
<rect x="508" y="436.81" width="15.1" height="3.62" fill="#312668"/>
<rect x="522.5" y="436.81" width="13.1" height="3.62" fill="#312768"/>
<rect x="535" y="436.81" width="37.6" height="3.62" fill="#312567"/>
<rect x="572" y="436.81" width="13.6" height="3.62" fill="#302164"/>
<rect x="585" y="436.81" width="27.4" height="3.62" fill="#33316f"/>
<rect x="611.8" y="436.81" width="38.8" height="3.62" fill="#343471"/>
<rect x="650" y="436.81" width="17.6" height="3.62" fill="#3e6a84"/>
<rect x="667" y="436.81" width="18.2" height="3.62" fill="#3b5681"/>
<rect x="684.6" y="436.81" width="15.4" height="3.62" fill="#33306f"/>
<rect x="699.4" y="436.81" width="35.2" height="3.62" fill="#271750"/>
<rect x="441.8" y="439.83" width="39.8" height="3.62" fill="#37447c"/>
<rect x="481" y="439.83" width="27.6" height="3.62" fill="#37457d"/>
<rect x="508" y="439.83" width="15.1" height="3.62" fill="#322b6b"/>
<rect x="522.5" y="439.83" width="13.1" height="3.62" fill="#302365"/>
<rect x="535" y="439.83" width="37.6" height="3.62" fill="#312567"/>
<rect x="572" y="439.83" width="13.6" height="3.62" fill="#302164"/>
<rect x="585" y="439.83" width="27.4" height="3.62" fill="#322c6c"/>
<rect x="611.8" y="439.83" width="38.8" height="3.62" fill="#343673"/>
<rect x="650" y="439.83" width="17.6" height="3.62" fill="#3f6f84"/>
<rect x="667" y="439.83" width="18.2" height="3.62" fill="#3b5881"/>
<rect x="684.6" y="439.83" width="15.4" height="3.62" fill="#37437c"/>
<rect x="699.4" y="439.83" width="35.2" height="3.62" fill="#353975"/>
<rect x="441.8" y="442.85" width="39.8" height="3.62" fill="#37457d"/>
<rect x="481" y="442.85" width="27.6" height="3.62" fill="#3a5280"/>
<rect x="508" y="442.85" width="15.1" height="3.62" fill="#312768"/>
<rect x="522.5" y="442.85" width="13.1" height="3.62" fill="#302264"/>
<rect x="535" y="442.85" width="37.6" height="3.62" fill="#312869"/>
<rect x="572" y="442.85" width="13.6" height="3.62" fill="#312466"/>
<rect x="585" y="442.85" width="27.4" height="3.62" fill="#343774"/>
<rect x="611.8" y="442.85" width="38.8" height="3.62" fill="#343471"/>
<rect x="650" y="442.85" width="17.6" height="3.62" fill="#407183"/>
<rect x="667" y="442.85" width="18.2" height="3.62" fill="#3a5381"/>
<rect x="684.6" y="442.85" width="15.4" height="3.62" fill="#353a76"/>
<rect x="699.4" y="442.85" width="35.2" height="3.62" fill="#343572"/>
<rect x="441.8" y="445.87" width="39.8" height="3.62" fill="#332e6e"/>
<rect x="481" y="445.87" width="27.6" height="3.62" fill="#322d6d"/>
<rect x="508" y="445.87" width="15.1" height="3.62" fill="#2c1a5a"/>
<rect x="522.5" y="445.87" width="13.1" height="3.62" fill="#2f1c60"/>
<rect x="535" y="445.87" width="37.6" height="3.62" fill="#2f1c60"/>
<rect x="572" y="445.87" width="13.6" height="3.62" fill="#2e1a5d"/>
<rect x="585" y="445.87" width="27.4" height="3.62" fill="#322b6b"/>
<rect x="611.8" y="445.87" width="38.8" height="3.62" fill="#343572"/>
<rect x="650" y="445.87" width="17.6" height="3.62" fill="#3e6b84"/>
<rect x="667" y="445.87" width="18.2" height="3.62" fill="#3e6b84"/>
<rect x="684.6" y="445.87" width="15.4" height="3.62" fill="#353874"/>
<rect x="699.4" y="445.87" width="35.2" height="3.62" fill="#343673"/>
<rect x="441.8" y="448.89" width="39.8" height="3.62" fill="#322c6c"/>
<rect x="481" y="448.89" width="27.6" height="3.62" fill="#322a6b"/>
<rect x="508" y="448.89" width="15.1" height="3.62" fill="#2b1958"/>
<rect x="522.5" y="448.89" width="13.1" height="3.62" fill="#2d1a5c"/>
<rect x="535" y="448.89" width="37.6" height="3.62" fill="#2f1e61"/>
<rect x="572" y="448.89" width="13.6" height="3.62" fill="#2e1a5c"/>
<rect x="585" y="448.89" width="27.4" height="3.62" fill="#322c6c"/>
<rect x="611.8" y="448.89" width="38.8" height="3.62" fill="#333270"/>
<rect x="650" y="448.89" width="17.6" height="3.62" fill="#3e6b84"/>
<rect x="667" y="448.89" width="18.2" height="3.62" fill="#3c5c82"/>
<rect x="684.6" y="448.89" width="15.4" height="3.62" fill="#343471"/>
<rect x="699.4" y="448.89" width="35.2" height="3.62" fill="#343572"/>
<rect x="441.8" y="451.91" width="39.8" height="3.62" fill="#312768"/>
<rect x="481" y="451.91" width="27.6" height="3.62" fill="#322a6a"/>
<rect x="508" y="451.91" width="15.1" height="3.62" fill="#302264"/>
<rect x="522.5" y="451.91" width="13.1" height="3.62" fill="#302163"/>
<rect x="535" y="451.91" width="37.6" height="3.62" fill="#301f62"/>
<rect x="572" y="451.91" width="13.6" height="3.62" fill="#302164"/>
<rect x="585" y="451.91" width="27.4" height="3.62" fill="#332f6e"/>
<rect x="611.8" y="451.91" width="38.8" height="3.62" fill="#312768"/>
<rect x="650" y="451.91" width="17.6" height="3.62" fill="#3f6e84"/>
<rect x="667" y="451.91" width="18.2" height="3.62" fill="#3e6884"/>
<rect x="684.6" y="451.91" width="15.4" height="3.62" fill="#3d6483"/>
<rect x="699.4" y="451.91" width="35.2" height="3.62" fill="#394d80"/>
<rect x="441.8" y="454.94" width="39.8" height="3.62" fill="#322b6b"/>
<rect x="481" y="454.94" width="27.6" height="3.62" fill="#312768"/>
<rect x="508" y="454.94" width="15.1" height="3.62" fill="#302163"/>
<rect x="522.5" y="454.94" width="13.1" height="3.62" fill="#301f62"/>
<rect x="535" y="454.94" width="37.6" height="3.62" fill="#2f1c60"/>
<rect x="572" y="454.94" width="13.6" height="3.62" fill="#2f1d61"/>
<rect x="585" y="454.94" width="27.4" height="3.62" fill="#353a75"/>
<rect x="611.8" y="454.94" width="38.8" height="3.62" fill="#302264"/>
<rect x="650" y="454.94" width="17.6" height="3.62" fill="#417583"/>
<rect x="667" y="454.94" width="18.2" height="3.62" fill="#3f6e84"/>
<rect x="684.6" y="454.94" width="15.4" height="3.62" fill="#3c6083"/>
<rect x="699.4" y="454.94" width="35.2" height="3.62" fill="#3a5581"/>
<rect x="441.8" y="457.96" width="39.8" height="3.62" fill="#312667"/>
<rect x="481" y="457.96" width="27.6" height="3.62" fill="#312668"/>
<rect x="508" y="457.96" width="15.1" height="3.62" fill="#302365"/>
<rect x="522.5" y="457.96" width="13.1" height="3.62" fill="#301f62"/>
<rect x="535" y="457.96" width="37.6" height="3.62" fill="#2f1c60"/>
<rect x="572" y="457.96" width="13.6" height="3.62" fill="#301f62"/>
<rect x="585" y="457.96" width="27.4" height="3.62" fill="#322c6c"/>
<rect x="611.8" y="457.96" width="38.8" height="3.62" fill="#302264"/>
<rect x="650" y="457.96" width="17.6" height="3.62" fill="#407083"/>
<rect x="667" y="457.96" width="18.2" height="3.62" fill="#3d6483"/>
<rect x="684.6" y="457.96" width="15.4" height="3.62" fill="#3b5a82"/>
<rect x="699.4" y="457.96" width="35.2" height="3.62" fill="#3b5881"/>
<rect x="441.8" y="460.98" width="39.8" height="3.62" fill="#312768"/>
<rect x="481" y="460.98" width="27.6" height="3.62" fill="#312768"/>
<rect x="508" y="460.98" width="15.1" height="3.62" fill="#302063"/>
<rect x="522.5" y="460.98" width="13.1" height="3.62" fill="#302164"/>
<rect x="535" y="460.98" width="37.6" height="3.62" fill="#302365"/>
<rect x="572" y="460.98" width="13.6" height="3.62" fill="#312466"/>
<rect x="585" y="460.98" width="27.4" height="3.62" fill="#2f1b5f"/>
<rect x="611.8" y="460.98" width="38.8" height="3.62" fill="#2f1d61"/>
<rect x="650" y="460.98" width="17.6" height="3.62" fill="#3e6a84"/>
<rect x="667" y="460.98" width="18.2" height="3.62" fill="#3e6884"/>
<rect x="684.6" y="460.98" width="15.4" height="3.62" fill="#3e6b84"/>
<rect x="699.4" y="460.98" width="35.2" height="3.62" fill="#394e80"/>
<rect x="441.8" y="464.00" width="39.8" height="3.62" fill="#322d6d"/>
<rect x="481" y="464.00" width="27.6" height="3.62" fill="#322a6a"/>
<rect x="508" y="464.00" width="15.1" height="3.62" fill="#2f1d60"/>
<rect x="522.5" y="464.00" width="13.1" height="3.62" fill="#302264"/>
<rect x="535" y="464.00" width="37.6" height="3.62" fill="#302265"/>
<rect x="572" y="464.00" width="13.6" height="3.62" fill="#302063"/>
<rect x="585" y="464.00" width="27.4" height="3.62" fill="#2d1a5c"/>
<rect x="611.8" y="464.00" width="38.8" height="3.62" fill="#2d1a5b"/>
<rect x="650" y="464.00" width="17.6" height="3.62" fill="#3e6984"/>
<rect x="667" y="464.00" width="18.2" height="3.62" fill="#3d6383"/>
<rect x="684.6" y="464.00" width="15.4" height="3.62" fill="#3e6884"/>
<rect x="699.4" y="464.00" width="35.2" height="3.62" fill="#394d80"/>
<rect x="441.8" y="467.02" width="39.8" height="3.62" fill="#312667"/>
<rect x="481" y="467.02" width="27.6" height="3.62" fill="#312667"/>
<rect x="508" y="467.02" width="15.1" height="3.62" fill="#2f1e61"/>
<rect x="522.5" y="467.02" width="13.1" height="3.62" fill="#2f1e61"/>
<rect x="535" y="467.02" width="37.6" height="3.62" fill="#302063"/>
<rect x="572" y="467.02" width="13.6" height="3.62" fill="#302164"/>
<rect x="585" y="467.02" width="27.4" height="3.62" fill="#301f62"/>
<rect x="611.8" y="467.02" width="38.8" height="3.62" fill="#2d1a5c"/>
<rect x="650" y="467.02" width="17.6" height="3.62" fill="#3c6183"/>
<rect x="667" y="467.02" width="18.2" height="3.62" fill="#3f6c84"/>
<rect x="684.6" y="467.02" width="15.4" height="3.62" fill="#3b5881"/>
<rect x="699.4" y="467.02" width="35.2" height="3.62" fill="#395080"/>
<rect x="441.8" y="470.04" width="39.8" height="3.62" fill="#312466"/>
<rect x="481" y="470.04" width="27.6" height="3.62" fill="#312567"/>
<rect x="508" y="470.04" width="15.1" height="3.62" fill="#302163"/>
<rect x="522.5" y="470.04" width="13.1" height="3.62" fill="#2f1c60"/>
<rect x="535" y="470.04" width="37.6" height="3.62" fill="#312869"/>
<rect x="572" y="470.04" width="13.6" height="3.62" fill="#302063"/>
<rect x="585" y="470.04" width="27.4" height="3.62" fill="#302063"/>
<rect x="611.8" y="470.04" width="38.8" height="3.62" fill="#2c1959"/>
<rect x="650" y="470.04" width="17.6" height="3.62" fill="#407083"/>
<rect x="667" y="470.04" width="18.2" height="3.62" fill="#3f6f84"/>
<rect x="684.6" y="470.04" width="15.4" height="3.62" fill="#3c5e82"/>
<rect x="699.4" y="470.04" width="35.2" height="3.62" fill="#38477e"/>
<rect x="441.8" y="473.06" width="39.8" height="3.62" fill="#312567"/>
<rect x="481" y="473.06" width="27.6" height="3.62" fill="#31296a"/>
<rect x="508" y="473.06" width="15.1" height="3.62" fill="#301f62"/>
<rect x="522.5" y="473.06" width="13.1" height="3.62" fill="#2f1c60"/>
<rect x="535" y="473.06" width="37.6" height="3.62" fill="#2f1c60"/>
<rect x="572" y="473.06" width="13.6" height="3.62" fill="#2f1e61"/>
<rect x="585" y="473.06" width="27.4" height="3.62" fill="#302063"/>
<rect x="611.8" y="473.06" width="38.8" height="3.62" fill="#2c195a"/>
<rect x="650" y="473.06" width="17.6" height="3.62" fill="#3e6a84"/>
<rect x="667" y="473.06" width="18.2" height="3.62" fill="#417583"/>
<rect x="684.6" y="473.06" width="15.4" height="3.62" fill="#3e6784"/>
<rect x="699.4" y="473.06" width="35.2" height="3.62" fill="#38487f"/>
<rect x="441.8" y="476.09" width="39.8" height="3.62" fill="#33316f"/>
<rect x="481" y="476.09" width="27.6" height="3.62" fill="#332f6e"/>
<rect x="508" y="476.09" width="15.1" height="3.62" fill="#302063"/>
<rect x="522.5" y="476.09" width="13.1" height="3.62" fill="#302365"/>
<rect x="535" y="476.09" width="37.6" height="3.62" fill="#301f62"/>
<rect x="572" y="476.09" width="13.6" height="3.62" fill="#301f62"/>
<rect x="585" y="476.09" width="27.4" height="3.62" fill="#312667"/>
<rect x="611.8" y="476.09" width="38.8" height="3.62" fill="#322e6e"/>
<rect x="650" y="476.09" width="17.6" height="3.62" fill="#4d8b80"/>
<rect x="667" y="476.09" width="18.2" height="3.62" fill="#3c6183"/>
<rect x="684.6" y="476.09" width="15.4" height="3.62" fill="#363e79"/>
<rect x="699.4" y="476.09" width="35.2" height="3.62" fill="#394c80"/>
<rect x="441.8" y="479.11" width="39.8" height="3.62" fill="#322b6b"/>
<rect x="481" y="479.11" width="27.6" height="3.62" fill="#333371"/>
<rect x="508" y="479.11" width="15.1" height="3.62" fill="#302163"/>
<rect x="522.5" y="479.11" width="13.1" height="3.62" fill="#302365"/>
<rect x="535" y="479.11" width="37.6" height="3.62" fill="#302063"/>
<rect x="572" y="479.11" width="13.6" height="3.62" fill="#2e1b5e"/>
<rect x="585" y="479.11" width="27.4" height="3.62" fill="#312869"/>
<rect x="611.8" y="479.11" width="38.8" height="3.62" fill="#33306f"/>
<rect x="650" y="479.11" width="17.6" height="3.62" fill="#4a8881"/>
<rect x="667" y="479.11" width="18.2" height="3.62" fill="#3a5481"/>
<rect x="684.6" y="479.11" width="15.4" height="3.62" fill="#37467d"/>
<rect x="699.4" y="479.11" width="35.2" height="3.62" fill="#384b7f"/>
<rect x="441.8" y="482.13" width="39.8" height="3.62" fill="#322c6c"/>
<rect x="481" y="482.13" width="27.6" height="3.62" fill="#33316f"/>
<rect x="508" y="482.13" width="15.1" height="3.62" fill="#302164"/>
<rect x="522.5" y="482.13" width="13.1" height="3.62" fill="#2f1d61"/>
<rect x="535" y="482.13" width="37.6" height="3.62" fill="#2f1b5f"/>
<rect x="572" y="482.13" width="13.6" height="3.62" fill="#2d1a5b"/>
<rect x="585" y="482.13" width="27.4" height="3.62" fill="#312567"/>
<rect x="611.8" y="482.13" width="38.8" height="3.62" fill="#343472"/>
<rect x="650" y="482.13" width="17.6" height="3.62" fill="#488581"/>
<rect x="667" y="482.13" width="18.2" height="3.62" fill="#394f80"/>
<rect x="684.6" y="482.13" width="15.4" height="3.62" fill="#36417a"/>
<rect x="699.4" y="482.13" width="35.2" height="3.62" fill="#3a5180"/>
<rect x="441.8" y="485.15" width="39.8" height="3.62" fill="#343774"/>
<rect x="481" y="485.15" width="27.6" height="3.62" fill="#343572"/>
<rect x="508" y="485.15" width="15.1" height="3.62" fill="#302164"/>
<rect x="522.5" y="485.15" width="13.1" height="3.62" fill="#302163"/>
<rect x="535" y="485.15" width="37.6" height="3.62" fill="#2f1d60"/>
<rect x="572" y="485.15" width="13.6" height="3.62" fill="#301f62"/>
<rect x="585" y="485.15" width="27.4" height="3.62" fill="#312667"/>
<rect x="611.8" y="485.15" width="38.8" height="3.62" fill="#322b6b"/>
<rect x="650" y="485.15" width="17.6" height="3.62" fill="#407383"/>
<rect x="667" y="485.15" width="18.2" height="3.62" fill="#3b5a82"/>
<rect x="684.6" y="485.15" width="15.4" height="3.62" fill="#38477e"/>
<rect x="699.4" y="485.15" width="35.2" height="3.62" fill="#394d80"/>
<rect x="441.8" y="488.17" width="39.8" height="3.62" fill="#333370"/>
<rect x="481" y="488.17" width="27.6" height="3.62" fill="#33316f"/>
<rect x="508" y="488.17" width="15.1" height="3.62" fill="#301f62"/>
<rect x="522.5" y="488.17" width="13.1" height="3.62" fill="#2f1b5f"/>
<rect x="535" y="488.17" width="37.6" height="3.62" fill="#302063"/>
<rect x="572" y="488.17" width="13.6" height="3.62" fill="#302264"/>
<rect x="585" y="488.17" width="27.4" height="3.62" fill="#312466"/>
<rect x="611.8" y="488.17" width="38.8" height="3.62" fill="#343572"/>
<rect x="650" y="488.17" width="17.6" height="3.62" fill="#407183"/>
<rect x="667" y="488.17" width="18.2" height="3.62" fill="#3c5f82"/>
<rect x="684.6" y="488.17" width="15.4" height="3.62" fill="#37447c"/>
<rect x="699.4" y="488.17" width="35.2" height="3.62" fill="#363f79"/>
<rect x="441.8" y="491.19" width="39.8" height="3.62" fill="#353975"/>
<rect x="481" y="491.19" width="27.6" height="3.62" fill="#322a6b"/>
<rect x="508" y="491.19" width="15.1" height="3.62" fill="#302365"/>
<rect x="522.5" y="491.19" width="13.1" height="3.62" fill="#301e62"/>
<rect x="535" y="491.19" width="37.6" height="3.62" fill="#302164"/>
<rect x="572" y="491.19" width="13.6" height="3.62" fill="#2f1e61"/>
<rect x="585" y="491.19" width="27.4" height="3.62" fill="#312667"/>
<rect x="611.8" y="491.19" width="38.8" height="3.62" fill="#343371"/>
<rect x="650" y="491.19" width="17.6" height="3.62" fill="#437b82"/>
<rect x="667" y="491.19" width="18.2" height="3.62" fill="#3b5781"/>
<rect x="684.6" y="491.19" width="15.4" height="3.62" fill="#37457d"/>
<rect x="699.4" y="491.19" width="35.2" height="3.62" fill="#384a7f"/>
<rect x="441.8" y="494.21" width="39.8" height="3.62" fill="#312567"/>
<rect x="481" y="494.21" width="27.6" height="3.62" fill="#31296a"/>
<rect x="508" y="494.21" width="15.1" height="3.62" fill="#2c1959"/>
<rect x="522.5" y="494.21" width="13.1" height="3.62" fill="#2f1b5f"/>
<rect x="535" y="494.21" width="37.6" height="3.62" fill="#2f1b5e"/>
<rect x="572" y="494.21" width="13.6" height="3.62" fill="#2f1d61"/>
<rect x="585" y="494.21" width="27.4" height="3.62" fill="#302164"/>
<rect x="611.8" y="494.21" width="38.8" height="3.62" fill="#322a6b"/>
<rect x="650" y="494.21" width="17.6" height="3.62" fill="#3f6d84"/>
<rect x="667" y="494.21" width="18.2" height="3.62" fill="#3a5681"/>
<rect x="684.6" y="494.21" width="15.4" height="3.62" fill="#363e78"/>
<rect x="699.4" y="494.21" width="35.2" height="3.62" fill="#394e80"/>
<rect x="441.8" y="497.23" width="39.8" height="3.62" fill="#312969"/>
<rect x="481" y="497.23" width="27.6" height="3.62" fill="#312567"/>
<rect x="508" y="497.23" width="15.1" height="3.62" fill="#2f1d60"/>
<rect x="522.5" y="497.23" width="13.1" height="3.62" fill="#2e1b5d"/>
<rect x="535" y="497.23" width="37.6" height="3.62" fill="#2b1957"/>
<rect x="572" y="497.23" width="13.6" height="3.62" fill="#2d1a5b"/>
<rect x="585" y="497.23" width="27.4" height="3.62" fill="#312466"/>
<rect x="611.8" y="497.23" width="38.8" height="3.62" fill="#322d6d"/>
<rect x="650" y="497.23" width="17.6" height="3.62" fill="#3e6a84"/>
<rect x="667" y="497.23" width="18.2" height="3.62" fill="#3b5a82"/>
<rect x="684.6" y="497.23" width="15.4" height="3.62" fill="#333270"/>
<rect x="699.4" y="497.23" width="35.2" height="3.62" fill="#37437b"/>
<rect x="441.8" y="500.26" width="39.8" height="3.62" fill="#312869"/>
<rect x="481" y="500.26" width="27.6" height="3.62" fill="#312869"/>
<rect x="508" y="500.26" width="15.1" height="3.62" fill="#2d1a5c"/>
<rect x="522.5" y="500.26" width="13.1" height="3.62" fill="#291853"/>
<rect x="535" y="500.26" width="37.6" height="3.62" fill="#2f1d61"/>
<rect x="572" y="500.26" width="13.6" height="3.62" fill="#2f1c5f"/>
<rect x="585" y="500.26" width="27.4" height="3.62" fill="#302365"/>
<rect x="611.8" y="500.26" width="38.8" height="3.62" fill="#343572"/>
<rect x="650" y="500.26" width="17.6" height="3.62" fill="#3e6784"/>
<rect x="667" y="500.26" width="18.2" height="3.62" fill="#3b5981"/>
<rect x="684.6" y="500.26" width="15.4" height="3.62" fill="#353c77"/>
<rect x="699.4" y="500.26" width="35.2" height="3.62" fill="#394f80"/>
<rect x="441.8" y="503.28" width="39.8" height="3.62" fill="#302264"/>
<rect x="481" y="503.28" width="27.6" height="3.62" fill="#312668"/>
<rect x="508" y="503.28" width="15.1" height="3.62" fill="#2c1959"/>
<rect x="522.5" y="503.28" width="13.1" height="3.62" fill="#2f1b5f"/>
<rect x="535" y="503.28" width="37.6" height="3.62" fill="#2f1e61"/>
<rect x="572" y="503.28" width="13.6" height="3.62" fill="#2d1a5b"/>
<rect x="585" y="503.28" width="27.4" height="3.62" fill="#2f1c60"/>
<rect x="611.8" y="503.28" width="38.8" height="3.62" fill="#332f6e"/>
<rect x="650" y="503.28" width="17.6" height="3.62" fill="#3e6884"/>
<rect x="667" y="503.28" width="18.2" height="3.62" fill="#3a5381"/>
<rect x="684.6" y="503.28" width="15.4" height="3.62" fill="#363e79"/>
<rect x="699.4" y="503.28" width="35.2" height="3.62" fill="#37437b"/>
<rect x="441.8" y="506.30" width="39.8" height="3.62" fill="#31296a"/>
<rect x="481" y="506.30" width="27.6" height="3.62" fill="#302365"/>
<rect x="508" y="506.30" width="15.1" height="3.62" fill="#2f1d60"/>
<rect x="522.5" y="506.30" width="13.1" height="3.62" fill="#2a1856"/>
<rect x="535" y="506.30" width="37.6" height="3.62" fill="#2f1d60"/>
<rect x="572" y="506.30" width="13.6" height="3.62" fill="#291854"/>
<rect x="585" y="506.30" width="27.4" height="3.62" fill="#312466"/>
<rect x="611.8" y="506.30" width="38.8" height="3.62" fill="#322d6d"/>
<rect x="650" y="506.30" width="17.6" height="3.62" fill="#3c6083"/>
<rect x="667" y="506.30" width="18.2" height="3.62" fill="#3b5b82"/>
<rect x="684.6" y="506.30" width="15.4" height="3.62" fill="#353c77"/>
<rect x="699.4" y="506.30" width="35.2" height="3.62" fill="#36407a"/>
<rect x="441.8" y="509.32" width="39.8" height="3.62" fill="#312567"/>
<rect x="481" y="509.32" width="27.6" height="3.62" fill="#312869"/>
<rect x="508" y="509.32" width="15.1" height="3.62" fill="#2d1a5c"/>
<rect x="522.5" y="509.32" width="13.1" height="3.62" fill="#27164f"/>
<rect x="535" y="509.32" width="37.6" height="3.62" fill="#2d1a5b"/>
<rect x="572" y="509.32" width="13.6" height="3.62" fill="#2f1b5e"/>
<rect x="585" y="509.32" width="27.4" height="3.62" fill="#302164"/>
<rect x="611.8" y="509.32" width="38.8" height="3.62" fill="#343471"/>
<rect x="650" y="509.32" width="17.6" height="3.62" fill="#3d6683"/>
<rect x="667" y="509.32" width="18.2" height="3.62" fill="#3e6b84"/>
<rect x="684.6" y="509.32" width="15.4" height="3.62" fill="#363e78"/>
<rect x="699.4" y="509.32" width="35.2" height="3.62" fill="#38477e"/>
<rect x="441.8" y="512.34" width="39.8" height="3.62" fill="#322a6b"/>
<rect x="481" y="512.34" width="27.6" height="3.62" fill="#322a6a"/>
<rect x="508" y="512.34" width="15.1" height="3.62" fill="#2e1a5d"/>
<rect x="522.5" y="512.34" width="13.1" height="3.62" fill="#2c1a5a"/>
<rect x="535" y="512.34" width="37.6" height="3.62" fill="#2f1c60"/>
<rect x="572" y="512.34" width="13.6" height="3.62" fill="#2f1b5e"/>
<rect x="585" y="512.34" width="27.4" height="3.62" fill="#2e1b5e"/>
<rect x="611.8" y="512.34" width="38.8" height="3.62" fill="#322a6b"/>
<rect x="650" y="512.34" width="17.6" height="3.62" fill="#3f6c84"/>
<rect x="667" y="512.34" width="18.2" height="3.62" fill="#3c5d82"/>
<rect x="684.6" y="512.34" width="15.4" height="3.62" fill="#353b76"/>
<rect x="699.4" y="512.34" width="35.2" height="3.62" fill="#38497f"/>
<rect x="441.8" y="515.36" width="39.8" height="3.62" fill="#312768"/>
<rect x="481" y="515.36" width="27.6" height="3.62" fill="#322c6c"/>
<rect x="508" y="515.36" width="15.1" height="3.62" fill="#2c1a5a"/>
<rect x="522.5" y="515.36" width="13.1" height="3.62" fill="#2d1a5b"/>
<rect x="535" y="515.36" width="37.6" height="3.62" fill="#2e1b5e"/>
<rect x="572" y="515.36" width="13.6" height="3.62" fill="#2f1c5f"/>
<rect x="585" y="515.36" width="27.4" height="3.62" fill="#302365"/>
<rect x="611.8" y="515.36" width="38.8" height="3.62" fill="#343673"/>
<rect x="650" y="515.36" width="17.6" height="3.62" fill="#3d6784"/>
<rect x="667" y="515.36" width="18.2" height="3.62" fill="#3d6483"/>
<rect x="684.6" y="515.36" width="15.4" height="3.62" fill="#363c77"/>
<rect x="699.4" y="515.36" width="35.2" height="3.62" fill="#36407a"/>
<rect x="441.8" y="518.38" width="39.8" height="3.62" fill="#312668"/>
<rect x="481" y="518.38" width="27.6" height="3.62" fill="#322e6d"/>
<rect x="508" y="518.38" width="15.1" height="3.62" fill="#2f1c60"/>
<rect x="522.5" y="518.38" width="13.1" height="3.62" fill="#2d1a5a"/>
<rect x="535" y="518.38" width="37.6" height="3.62" fill="#281752"/>
<rect x="572" y="518.38" width="13.6" height="3.62" fill="#2c1959"/>
<rect x="585" y="518.38" width="27.4" height="3.62" fill="#301e61"/>
<rect x="611.8" y="518.38" width="38.8" height="3.62" fill="#332f6e"/>
<rect x="650" y="518.38" width="17.6" height="3.62" fill="#407383"/>
<rect x="667" y="518.38" width="18.2" height="3.62" fill="#3c6183"/>
<rect x="684.6" y="518.38" width="15.4" height="3.62" fill="#353c77"/>
<rect x="699.4" y="518.38" width="35.2" height="3.62" fill="#36407a"/>
<rect x="441.8" y="521.40" width="39.8" height="3.62" fill="#302365"/>
<rect x="481" y="521.40" width="27.6" height="3.62" fill="#312668"/>
<rect x="508" y="521.40" width="15.1" height="3.62" fill="#2d1a5a"/>
<rect x="522.5" y="521.40" width="13.1" height="3.62" fill="#302365"/>
<rect x="535" y="521.40" width="37.6" height="3.62" fill="#2d1a5b"/>
<rect x="572" y="521.40" width="13.6" height="3.62" fill="#2c1a5a"/>
<rect x="585" y="521.40" width="27.4" height="3.62" fill="#312466"/>
<rect x="611.8" y="521.40" width="38.8" height="3.62" fill="#332f6e"/>
<rect x="650" y="521.40" width="17.6" height="3.62" fill="#3d6283"/>
<rect x="667" y="521.40" width="18.2" height="3.62" fill="#3d6483"/>
<rect x="684.6" y="521.40" width="15.4" height="3.62" fill="#353874"/>
<rect x="699.4" y="521.40" width="35.2" height="3.62" fill="#363f79"/>
<rect x="441.8" y="524.43" width="39.8" height="3.62" fill="#312869"/>
<rect x="481" y="524.43" width="27.6" height="3.62" fill="#312869"/>
<rect x="508" y="524.43" width="15.1" height="3.62" fill="#2d1a5b"/>
<rect x="522.5" y="524.43" width="13.1" height="3.62" fill="#2f1b5f"/>
<rect x="535" y="524.43" width="37.6" height="3.62" fill="#2f1c60"/>
<rect x="572" y="524.43" width="13.6" height="3.62" fill="#2c1959"/>
<rect x="585" y="524.43" width="27.4" height="3.62" fill="#2e1b5d"/>
<rect x="611.8" y="524.43" width="38.8" height="3.62" fill="#312668"/>
<rect x="650" y="524.43" width="17.6" height="3.62" fill="#3e6984"/>
<rect x="667" y="524.43" width="18.2" height="3.62" fill="#3d6483"/>
<rect x="684.6" y="524.43" width="15.4" height="3.62" fill="#363f79"/>
<rect x="699.4" y="524.43" width="35.2" height="3.62" fill="#394d80"/>
<rect x="441.8" y="527.45" width="39.8" height="3.62" fill="#322d6d"/>
<rect x="481" y="527.45" width="27.6" height="3.62" fill="#312768"/>
<rect x="508" y="527.45" width="15.1" height="3.62" fill="#2f1d60"/>
<rect x="522.5" y="527.45" width="13.1" height="3.62" fill="#2a1856"/>
<rect x="535" y="527.45" width="37.6" height="3.62" fill="#2f1b5f"/>
<rect x="572" y="527.45" width="13.6" height="3.62" fill="#2f1b5e"/>
<rect x="585" y="527.45" width="27.4" height="3.62" fill="#302063"/>
<rect x="611.8" y="527.45" width="38.8" height="3.62" fill="#322d6c"/>
<rect x="650" y="527.45" width="17.6" height="3.62" fill="#3d6383"/>
<rect x="667" y="527.45" width="18.2" height="3.62" fill="#3c5d82"/>
<rect x="684.6" y="527.45" width="15.4" height="3.62" fill="#36407a"/>
<rect x="699.4" y="527.45" width="35.2" height="3.62" fill="#37437c"/>
<rect x="441.8" y="530.47" width="39.8" height="3.62" fill="#302264"/>
<rect x="481" y="530.47" width="27.6" height="3.62" fill="#301e61"/>
<rect x="508" y="530.47" width="15.1" height="3.62" fill="#302163"/>
<rect x="522.5" y="530.47" width="13.1" height="3.62" fill="#2f1d61"/>
<rect x="535" y="530.47" width="37.6" height="3.62" fill="#302164"/>
<rect x="572" y="530.47" width="13.6" height="3.62" fill="#301f62"/>
<rect x="585" y="530.47" width="27.4" height="3.62" fill="#302164"/>
<rect x="611.8" y="530.47" width="38.8" height="3.62" fill="#301e61"/>
<rect x="650" y="530.47" width="17.6" height="3.62" fill="#3a5581"/>
<rect x="667" y="530.47" width="18.2" height="3.62" fill="#353874"/>
<rect x="684.6" y="530.47" width="15.4" height="3.62" fill="#302365"/>
<rect x="699.4" y="530.47" width="35.2" height="3.62" fill="#394e80"/>
<rect x="441.8" y="533.49" width="39.8" height="3.62" fill="#301f62"/>
<rect x="481" y="533.49" width="27.6" height="3.62" fill="#302365"/>
<rect x="508" y="533.49" width="15.1" height="3.62" fill="#302265"/>
<rect x="522.5" y="533.49" width="13.1" height="3.62" fill="#302164"/>
<rect x="535" y="533.49" width="37.6" height="3.62" fill="#2f1b5f"/>
<rect x="572" y="533.49" width="13.6" height="3.62" fill="#302164"/>
<rect x="585" y="533.49" width="27.4" height="3.62" fill="#2f1d61"/>
<rect x="611.8" y="533.49" width="38.8" height="3.62" fill="#312466"/>
<rect x="650" y="533.49" width="17.6" height="3.62" fill="#3c6183"/>
<rect x="667" y="533.49" width="18.2" height="3.62" fill="#363d78"/>
<rect x="684.6" y="533.49" width="15.4" height="3.62" fill="#2d1a5b"/>
<rect x="699.4" y="533.49" width="35.2" height="3.62" fill="#38487f"/>
<rect x="441.8" y="536.51" width="39.8" height="3.62" fill="#333270"/>
<rect x="481" y="536.51" width="27.6" height="3.62" fill="#322a6a"/>
<rect x="508" y="536.51" width="15.1" height="3.62" fill="#343471"/>
<rect x="522.5" y="536.51" width="13.1" height="3.62" fill="#332f6e"/>
<rect x="535" y="536.51" width="37.6" height="3.62" fill="#322e6d"/>
<rect x="572" y="536.51" width="13.6" height="3.62" fill="#322c6c"/>
<rect x="585" y="536.51" width="27.4" height="3.62" fill="#312466"/>
<rect x="611.8" y="536.51" width="38.8" height="3.62" fill="#312667"/>
<rect x="650" y="536.51" width="17.6" height="3.62" fill="#2d1a5b"/>
<rect x="667" y="536.51" width="18.2" height="3.62" fill="#2e1b5d"/>
<rect x="684.6" y="536.51" width="15.4" height="3.62" fill="#312869"/>
<rect x="699.4" y="536.51" width="35.2" height="3.62" fill="#343773"/>
<rect x="441.8" y="539.53" width="39.8" height="3.62" fill="#24154b"/>
<rect x="481" y="539.53" width="27.6" height="3.62" fill="#25154b"/>
<rect x="508" y="539.53" width="15.1" height="3.62" fill="#343672"/>
<rect x="522.5" y="539.53" width="13.1" height="3.62" fill="#384a7f"/>
<rect x="535" y="539.53" width="37.6" height="3.62" fill="#37447c"/>
<rect x="572" y="539.53" width="13.6" height="3.62" fill="#363e78"/>
<rect x="585" y="539.53" width="27.4" height="3.62" fill="#363f79"/>
<rect x="611.8" y="539.53" width="38.8" height="3.62" fill="#384a7f"/>
<rect x="650" y="539.53" width="17.6" height="3.62" fill="#3c5c82"/>
<rect x="667" y="539.53" width="18.2" height="3.62" fill="#363d78"/>
<rect x="684.6" y="539.53" width="15.4" height="3.62" fill="#37457d"/>
<rect x="699.4" y="539.53" width="35.2" height="3.62" fill="#38497f"/>
<rect x="441.8" y="542.55" width="39.8" height="3.62" fill="#291853"/>
<rect x="481" y="542.55" width="27.6" height="3.62" fill="#25164c"/>
<rect x="508" y="542.55" width="15.1" height="3.62" fill="#353975"/>
<rect x="522.5" y="542.55" width="13.1" height="3.62" fill="#36417a"/>
<rect x="535" y="542.55" width="37.6" height="3.62" fill="#38467e"/>
<rect x="572" y="542.55" width="13.6" height="3.62" fill="#353874"/>
<rect x="585" y="542.55" width="27.4" height="3.62" fill="#38477e"/>
<rect x="611.8" y="542.55" width="38.8" height="3.62" fill="#38477e"/>
<rect x="650" y="542.55" width="17.6" height="3.62" fill="#3b5881"/>
<rect x="667" y="542.55" width="18.2" height="3.62" fill="#333371"/>
<rect x="684.6" y="542.55" width="15.4" height="3.62" fill="#38477f"/>
<rect x="699.4" y="542.55" width="35.2" height="3.62" fill="#3a5481"/>
<rect x="441.8" y="545.57" width="39.8" height="3.62" fill="#281751"/>
<rect x="481" y="545.57" width="27.6" height="3.62" fill="#231548"/>
<rect x="508" y="545.57" width="15.1" height="3.62" fill="#363d78"/>
<rect x="522.5" y="545.57" width="13.1" height="3.62" fill="#38477e"/>
<rect x="535" y="545.57" width="37.6" height="3.62" fill="#38477e"/>
<rect x="572" y="545.57" width="13.6" height="3.62" fill="#353c77"/>
<rect x="585" y="545.57" width="27.4" height="3.62" fill="#37447c"/>
<rect x="611.8" y="545.57" width="38.8" height="3.62" fill="#38467e"/>
<rect x="650" y="545.57" width="17.6" height="3.62" fill="#3d6283"/>
<rect x="667" y="545.57" width="18.2" height="3.62" fill="#343774"/>
<rect x="684.6" y="545.57" width="15.4" height="3.62" fill="#363e78"/>
<rect x="699.4" y="545.57" width="35.2" height="3.62" fill="#394e80"/>
<rect x="441.8" y="548.60" width="39.8" height="3.62" fill="#26164e"/>
<rect x="481" y="548.60" width="27.6" height="3.62" fill="#221446"/>
<rect x="508" y="548.60" width="15.1" height="3.62" fill="#343773"/>
<rect x="522.5" y="548.60" width="13.1" height="3.62" fill="#38487f"/>
<rect x="535" y="548.60" width="37.6" height="3.62" fill="#37447d"/>
<rect x="572" y="548.60" width="13.6" height="3.62" fill="#353a76"/>
<rect x="585" y="548.60" width="27.4" height="3.62" fill="#363f79"/>
<rect x="611.8" y="548.60" width="38.8" height="3.62" fill="#384a7f"/>
<rect x="650" y="548.60" width="17.6" height="3.62" fill="#3d6784"/>
<rect x="667" y="548.60" width="18.2" height="3.62" fill="#353975"/>
<rect x="684.6" y="548.60" width="15.4" height="3.62" fill="#37427b"/>
<rect x="699.4" y="548.60" width="35.2" height="3.62" fill="#38487f"/>
<rect x="441.8" y="551.62" width="39.8" height="3.62" fill="#281752"/>
<rect x="481" y="551.62" width="27.6" height="3.62" fill="#26164e"/>
<rect x="508" y="551.62" width="15.1" height="3.62" fill="#343673"/>
<rect x="522.5" y="551.62" width="13.1" height="3.62" fill="#394c80"/>
<rect x="535" y="551.62" width="37.6" height="3.62" fill="#38497f"/>
<rect x="572" y="551.62" width="13.6" height="3.62" fill="#363d78"/>
<rect x="585" y="551.62" width="27.4" height="3.62" fill="#353c77"/>
<rect x="611.8" y="551.62" width="38.8" height="3.62" fill="#37457d"/>
<rect x="650" y="551.62" width="17.6" height="3.62" fill="#3c6083"/>
<rect x="667" y="551.62" width="18.2" height="3.62" fill="#343471"/>
<rect x="684.6" y="551.62" width="15.4" height="3.62" fill="#384a7f"/>
<rect x="699.4" y="551.62" width="35.2" height="3.62" fill="#3b5881"/>
<rect x="441.8" y="554.64" width="39.8" height="3.62" fill="#281752"/>
<rect x="481" y="554.64" width="27.6" height="3.62" fill="#24154a"/>
<rect x="508" y="554.64" width="15.1" height="3.62" fill="#343673"/>
<rect x="522.5" y="554.64" width="13.1" height="3.62" fill="#384a7f"/>
<rect x="535" y="554.64" width="37.6" height="3.62" fill="#384b7f"/>
<rect x="572" y="554.64" width="13.6" height="3.62" fill="#36407a"/>
<rect x="585" y="554.64" width="27.4" height="3.62" fill="#394c80"/>
<rect x="611.8" y="554.64" width="38.8" height="3.62" fill="#37457d"/>
<rect x="650" y="554.64" width="17.6" height="3.62" fill="#3b5a82"/>
<rect x="667" y="554.64" width="18.2" height="3.62" fill="#33316f"/>
<rect x="684.6" y="554.64" width="15.4" height="3.62" fill="#38497f"/>
<rect x="699.4" y="554.64" width="35.2" height="3.62" fill="#3c5d82"/>
<rect x="441.8" y="557.66" width="39.8" height="3.62" fill="#25164b"/>
<rect x="481" y="557.66" width="27.6" height="3.62" fill="#25164b"/>
<rect x="508" y="557.66" width="15.1" height="3.62" fill="#363d78"/>
<rect x="522.5" y="557.66" width="13.1" height="3.62" fill="#38477e"/>
<rect x="535" y="557.66" width="37.6" height="3.62" fill="#363e78"/>
<rect x="572" y="557.66" width="13.6" height="3.62" fill="#343673"/>
<rect x="585" y="557.66" width="27.4" height="3.62" fill="#364079"/>
<rect x="611.8" y="557.66" width="38.8" height="3.62" fill="#3a5180"/>
<rect x="650" y="557.66" width="17.6" height="3.62" fill="#3b5881"/>
<rect x="667" y="557.66" width="18.2" height="3.62" fill="#363e78"/>
<rect x="684.6" y="557.66" width="15.4" height="3.62" fill="#395080"/>
<rect x="699.4" y="557.66" width="35.2" height="3.62" fill="#3b5a82"/>
<rect x="441.8" y="560.68" width="39.8" height="3.62" fill="#291854"/>
<rect x="481" y="560.68" width="27.6" height="3.62" fill="#2a1855"/>
<rect x="508" y="560.68" width="15.1" height="3.62" fill="#343471"/>
<rect x="522.5" y="560.68" width="13.1" height="3.62" fill="#37437c"/>
<rect x="535" y="560.68" width="37.6" height="3.62" fill="#37427b"/>
<rect x="572" y="560.68" width="13.6" height="3.62" fill="#353975"/>
<rect x="585" y="560.68" width="27.4" height="3.62" fill="#3a5581"/>
<rect x="611.8" y="560.68" width="38.8" height="3.62" fill="#363d77"/>
<rect x="650" y="560.68" width="17.6" height="3.62" fill="#3c6083"/>
<rect x="667" y="560.68" width="18.2" height="3.62" fill="#343471"/>
<rect x="684.6" y="560.68" width="15.4" height="3.62" fill="#394d80"/>
<rect x="699.4" y="560.68" width="35.2" height="3.62" fill="#3b5781"/>
<rect x="441.8" y="563.70" width="39.8" height="3.62" fill="#25154b"/>
<rect x="481" y="563.70" width="27.6" height="3.62" fill="#2b1957"/>
<rect x="508" y="563.70" width="15.1" height="3.62" fill="#353a76"/>
<rect x="522.5" y="563.70" width="13.1" height="3.62" fill="#394d80"/>
<rect x="535" y="563.70" width="37.6" height="3.62" fill="#38477e"/>
<rect x="572" y="563.70" width="13.6" height="3.62" fill="#343774"/>
<rect x="585" y="563.70" width="27.4" height="3.62" fill="#37437c"/>
<rect x="611.8" y="563.70" width="38.8" height="3.62" fill="#37457d"/>
<rect x="650" y="563.70" width="17.6" height="3.62" fill="#3c6083"/>
<rect x="667" y="563.70" width="18.2" height="3.62" fill="#353b76"/>
<rect x="684.6" y="563.70" width="15.4" height="3.62" fill="#3a5381"/>
<rect x="699.4" y="563.70" width="35.2" height="3.62" fill="#394e80"/>
<rect x="441.8" y="566.72" width="39.8" height="3.62" fill="#25164b"/>
<rect x="481" y="566.72" width="27.6" height="3.62" fill="#24154a"/>
<rect x="508" y="566.72" width="15.1" height="3.62" fill="#343673"/>
<rect x="522.5" y="566.72" width="13.1" height="3.62" fill="#363e78"/>
<rect x="535" y="566.72" width="37.6" height="3.62" fill="#36407a"/>
<rect x="572" y="566.72" width="13.6" height="3.62" fill="#363f79"/>
<rect x="585" y="566.72" width="27.4" height="3.62" fill="#37467d"/>
<rect x="611.8" y="566.72" width="38.8" height="3.62" fill="#37447d"/>
<rect x="650" y="566.72" width="17.6" height="3.62" fill="#3c5f82"/>
<rect x="667" y="566.72" width="18.2" height="3.62" fill="#363f79"/>
<rect x="684.6" y="566.72" width="15.4" height="3.62" fill="#38487f"/>
<rect x="699.4" y="566.72" width="35.2" height="3.62" fill="#3a5481"/>
<rect x="441.8" y="569.74" width="39.8" height="3.62" fill="#58977e"/>
<rect x="481" y="569.74" width="27.6" height="3.62" fill="#59997e"/>
<rect x="508" y="569.74" width="15.1" height="3.62" fill="#6ea975"/>
<rect x="522.5" y="569.74" width="13.1" height="3.62" fill="#9ec35d"/>
<rect x="535" y="569.74" width="37.6" height="3.62" fill="#97c060"/>
<rect x="572" y="569.74" width="13.6" height="3.62" fill="#70aa74"/>
<rect x="585" y="569.74" width="27.4" height="3.62" fill="#9dc25e"/>
<rect x="611.8" y="569.74" width="38.8" height="3.62" fill="#3e6984"/>
<rect x="650" y="569.74" width="17.6" height="3.62" fill="#c6d44c"/>
<rect x="667" y="569.74" width="18.2" height="3.62" fill="#58987e"/>
<rect x="684.6" y="569.74" width="15.4" height="3.62" fill="#7ab16f"/>
<rect x="699.4" y="569.74" width="35.2" height="3.62" fill="#9bc25e"/>
<rect x="441.8" y="572.77" width="39.8" height="3.62" fill="#56957f"/>
<rect x="481" y="572.77" width="27.6" height="3.62" fill="#5b9b7e"/>
<rect x="508" y="572.77" width="15.1" height="3.62" fill="#6ca776"/>
<rect x="522.5" y="572.77" width="13.1" height="3.62" fill="#95bf61"/>
<rect x="535" y="572.77" width="37.6" height="3.62" fill="#9fc45c"/>
<rect x="572" y="572.77" width="13.6" height="3.62" fill="#69a577"/>
<rect x="585" y="572.77" width="27.4" height="3.62" fill="#83b56b"/>
<rect x="611.8" y="572.77" width="38.8" height="3.62" fill="#3e6b84"/>
<rect x="650" y="572.77" width="17.6" height="3.62" fill="#cfd848"/>
<rect x="667" y="572.77" width="18.2" height="3.62" fill="#53927f"/>
<rect x="684.6" y="572.77" width="15.4" height="3.62" fill="#6da875"/>
<rect x="699.4" y="572.77" width="35.2" height="3.62" fill="#a3c65a"/>
<rect x="441.8" y="575.79" width="39.8" height="3.62" fill="#302163"/>
<rect x="481" y="575.79" width="27.6" height="3.62" fill="#312466"/>
<rect x="508" y="575.79" width="15.1" height="3.62" fill="#3f6e84"/>
<rect x="522.5" y="575.79" width="13.1" height="3.62" fill="#407283"/>
<rect x="535" y="575.79" width="37.6" height="3.62" fill="#3e6b84"/>
<rect x="572" y="575.79" width="13.6" height="3.62" fill="#417683"/>
<rect x="585" y="575.79" width="27.4" height="3.62" fill="#488581"/>
<rect x="611.8" y="575.79" width="38.8" height="3.62" fill="#3c5e82"/>
<rect x="650" y="575.79" width="17.6" height="3.62" fill="#59987e"/>
<rect x="667" y="575.79" width="18.2" height="3.62" fill="#312768"/>
<rect x="684.6" y="575.79" width="15.4" height="3.62" fill="#407283"/>
<rect x="699.4" y="575.79" width="35.2" height="3.62" fill="#55947f"/>
<rect x="441.8" y="578.81" width="39.8" height="3.62" fill="#312768"/>
<rect x="481" y="578.81" width="27.6" height="3.62" fill="#312466"/>
<rect x="508" y="578.81" width="15.1" height="3.62" fill="#407283"/>
<rect x="522.5" y="578.81" width="13.1" height="3.62" fill="#407283"/>
<rect x="535" y="578.81" width="37.6" height="3.62" fill="#417683"/>
<rect x="572" y="578.81" width="13.6" height="3.62" fill="#417683"/>
<rect x="585" y="578.81" width="27.4" height="3.62" fill="#448082"/>
<rect x="611.8" y="578.81" width="38.8" height="3.62" fill="#3c5c82"/>
<rect x="650" y="578.81" width="17.6" height="3.62" fill="#62a07a"/>
<rect x="667" y="578.81" width="18.2" height="3.62" fill="#333170"/>
<rect x="684.6" y="578.81" width="15.4" height="3.62" fill="#407083"/>
<rect x="699.4" y="578.81" width="35.2" height="3.62" fill="#5a997e"/>
<rect x="441.8" y="581.83" width="39.8" height="3.62" fill="#312667"/>
<rect x="481" y="581.83" width="27.6" height="3.62" fill="#322a6a"/>
<rect x="508" y="581.83" width="15.1" height="3.62" fill="#407383"/>
<rect x="522.5" y="581.83" width="13.1" height="3.62" fill="#417483"/>
<rect x="535" y="581.83" width="37.6" height="3.62" fill="#437c82"/>
<rect x="572" y="581.83" width="13.6" height="3.62" fill="#3f6d84"/>
<rect x="585" y="581.83" width="27.4" height="3.62" fill="#448082"/>
<rect x="611.8" y="581.83" width="38.8" height="3.62" fill="#3a5280"/>
<rect x="650" y="581.83" width="17.6" height="3.62" fill="#54937f"/>
<rect x="667" y="581.83" width="18.2" height="3.62" fill="#343371"/>
<rect x="684.6" y="581.83" width="15.4" height="3.62" fill="#417483"/>
<rect x="699.4" y="581.83" width="35.2" height="3.62" fill="#63a07a"/>
<rect x="441.8" y="584.85" width="39.8" height="3.62" fill="#3e6b84"/>
<rect x="481" y="584.85" width="27.6" height="3.62" fill="#3f6f84"/>
<rect x="508" y="584.85" width="15.1" height="3.62" fill="#62a07a"/>
<rect x="522.5" y="584.85" width="13.1" height="3.62" fill="#609e7b"/>
<rect x="535" y="584.85" width="37.6" height="3.62" fill="#5f9e7c"/>
<rect x="572" y="584.85" width="13.6" height="3.62" fill="#5f9d7c"/>
<rect x="585" y="584.85" width="27.4" height="3.62" fill="#498581"/>
<rect x="611.8" y="584.85" width="38.8" height="3.62" fill="#3c5c82"/>
<rect x="650" y="584.85" width="17.6" height="3.62" fill="#407383"/>
<rect x="667" y="584.85" width="18.2" height="3.62" fill="#32296a"/>
<rect x="684.6" y="584.85" width="15.4" height="3.62" fill="#407283"/>
<rect x="699.4" y="584.85" width="35.2" height="3.62" fill="#5c9b7d"/>
<rect x="441.8" y="587.87" width="39.8" height="3.62" fill="#427983"/>
<rect x="481" y="587.87" width="27.6" height="3.62" fill="#3f6e84"/>
<rect x="508" y="587.87" width="15.1" height="3.62" fill="#57967f"/>
<rect x="522.5" y="587.87" width="13.1" height="3.62" fill="#5d9c7d"/>
<rect x="535" y="587.87" width="37.6" height="3.62" fill="#59997e"/>
<rect x="572" y="587.87" width="13.6" height="3.62" fill="#59997e"/>
<rect x="585" y="587.87" width="27.4" height="3.62" fill="#518f80"/>
<rect x="611.8" y="587.87" width="38.8" height="3.62" fill="#3c5f82"/>
<rect x="650" y="587.87" width="17.6" height="3.62" fill="#407183"/>
<rect x="667" y="587.87" width="18.2" height="3.62" fill="#322a6b"/>
<rect x="684.6" y="587.87" width="15.4" height="3.62" fill="#437d82"/>
<rect x="699.4" y="587.87" width="35.2" height="3.62" fill="#56957f"/>
<rect x="441.8" y="590.89" width="39.8" height="3.62" fill="#407083"/>
<rect x="481" y="590.89" width="27.6" height="3.62" fill="#417383"/>
<rect x="508" y="590.89" width="15.1" height="3.62" fill="#57977e"/>
<rect x="522.5" y="590.89" width="13.1" height="3.62" fill="#66a379"/>
<rect x="535" y="590.89" width="37.6" height="3.62" fill="#5d9c7d"/>
<rect x="572" y="590.89" width="13.6" height="3.62" fill="#58987e"/>
<rect x="585" y="590.89" width="27.4" height="3.62" fill="#4a8781"/>
<rect x="611.8" y="590.89" width="38.8" height="3.62" fill="#3b5881"/>
<rect x="650" y="590.89" width="17.6" height="3.62" fill="#407083"/>
<rect x="667" y="590.89" width="18.2" height="3.62" fill="#312768"/>
<rect x="684.6" y="590.89" width="15.4" height="3.62" fill="#437c82"/>
<rect x="699.4" y="590.89" width="35.2" height="3.62" fill="#518f80"/>
<rect x="441.8" y="593.91" width="39.8" height="3.62" fill="#417483"/>
<rect x="481" y="593.91" width="27.6" height="3.62" fill="#427883"/>
<rect x="508" y="593.91" width="15.1" height="3.62" fill="#5e9d7c"/>
<rect x="522.5" y="593.91" width="13.1" height="3.62" fill="#64a279"/>
<rect x="535" y="593.91" width="37.6" height="3.62" fill="#5c9c7d"/>
<rect x="572" y="593.91" width="13.6" height="3.62" fill="#5b9b7e"/>
<rect x="585" y="593.91" width="27.4" height="3.62" fill="#488581"/>
<rect x="611.8" y="593.91" width="38.8" height="3.62" fill="#3b5781"/>
<rect x="650" y="593.91" width="17.6" height="3.62" fill="#427983"/>
<rect x="667" y="593.91" width="18.2" height="3.62" fill="#302365"/>
<rect x="684.6" y="593.91" width="15.4" height="3.62" fill="#407283"/>
<rect x="699.4" y="593.91" width="35.2" height="3.62" fill="#58987e"/>
<rect x="441.8" y="596.94" width="39.8" height="3.62" fill="#312466"/>
<rect x="481" y="596.94" width="27.6" height="3.62" fill="#302063"/>
<rect x="508" y="596.94" width="15.1" height="3.62" fill="#478381"/>
<rect x="522.5" y="596.94" width="13.1" height="3.62" fill="#498681"/>
<rect x="535" y="596.94" width="37.6" height="3.62" fill="#498681"/>
<rect x="572" y="596.94" width="13.6" height="3.62" fill="#4c8981"/>
<rect x="585" y="596.94" width="27.4" height="3.62" fill="#488481"/>
<rect x="611.8" y="596.94" width="38.8" height="3.62" fill="#3b5881"/>
<rect x="650" y="596.94" width="17.6" height="3.62" fill="#3e6b84"/>
<rect x="667" y="596.94" width="18.2" height="3.62" fill="#333270"/>
<rect x="684.6" y="596.94" width="15.4" height="3.62" fill="#3f6f84"/>
<rect x="699.4" y="596.94" width="35.2" height="3.62" fill="#54937f"/>
<rect x="441.8" y="599.96" width="39.8" height="3.62" fill="#3a5681"/>
<rect x="481" y="599.96" width="27.6" height="3.62" fill="#3d6383"/>
<rect x="508" y="599.96" width="15.1" height="3.62" fill="#77b070"/>
<rect x="522.5" y="599.96" width="13.1" height="3.62" fill="#97bf61"/>
<rect x="535" y="599.96" width="37.6" height="3.62" fill="#9fc45c"/>
<rect x="572" y="599.96" width="13.6" height="3.62" fill="#a6c759"/>
<rect x="585" y="599.96" width="27.4" height="3.62" fill="#7ab16f"/>
<rect x="611.8" y="599.96" width="38.8" height="3.62" fill="#3b5881"/>
<rect x="650" y="599.96" width="17.6" height="3.62" fill="#c6d44c"/>
<rect x="667" y="599.96" width="18.2" height="3.62" fill="#407083"/>
<rect x="684.6" y="599.96" width="15.4" height="3.62" fill="#67a478"/>
<rect x="699.4" y="599.96" width="35.2" height="3.62" fill="#abc957"/>
<rect x="441.8" y="602.98" width="39.8" height="3.62" fill="#3a5581"/>
<rect x="481" y="602.98" width="27.6" height="3.62" fill="#3c5f82"/>
<rect x="508" y="602.98" width="15.1" height="3.62" fill="#70aa74"/>
<rect x="522.5" y="602.98" width="13.1" height="3.62" fill="#9ec35d"/>
<rect x="535" y="602.98" width="37.6" height="3.62" fill="#99c060"/>
<rect x="572" y="602.98" width="13.6" height="3.62" fill="#9ac15f"/>
<rect x="585" y="602.98" width="27.4" height="3.62" fill="#72ac73"/>
<rect x="611.8" y="602.98" width="38.8" height="3.62" fill="#3e6784"/>
<rect x="650" y="602.98" width="17.6" height="3.62" fill="#cdd749"/>
<rect x="667" y="602.98" width="18.2" height="3.62" fill="#3e6c84"/>
<rect x="684.6" y="602.98" width="15.4" height="3.62" fill="#5a9a7e"/>
<rect x="699.4" y="602.98" width="35.2" height="3.62" fill="#98c060"/>
<rect x="441.8" y="322.0" width="3.0" height="284.0" fill="#000000" opacity="0.005"/>
<rect x="444.8" y="322.0" width="3.0" height="284.0" fill="#ffffff" opacity="0.025"/>
<rect x="447.8" y="322.0" width="3.0" height="284.0" fill="#ffffff" opacity="0.017"/>
<rect x="450.8" y="322.0" width="3.0" height="284.0" fill="#ffffff" opacity="0.039"/>
<rect x="453.8" y="322.0" width="3.0" height="284.0" fill="#ffffff" opacity="0.005"/>
<rect x="456.8" y="322.0" width="3.0" height="284.0" fill="#000000" opacity="0.000"/>
<rect x="459.8" y="322.0" width="3.0" height="284.0" fill="#000000" opacity="0.032"/>
<rect x="462.8" y="322.0" width="3.0" height="284.0" fill="#ffffff" opacity="0.008"/>
<rect x="465.8" y="322.0" width="3.0" height="284.0" fill="#000000" opacity="0.034"/>
<rect x="468.8" y="322.0" width="3.0" height="284.0" fill="#ffffff" opacity="0.031"/>
<rect x="471.8" y="322.0" width="3.0" height="284.0" fill="#000000" opacity="0.013"/>
<rect x="474.8" y="322.0" width="3.0" height="284.0" fill="#ffffff" opacity="0.000"/>
<rect x="477.8" y="322.0" width="3.0" height="284.0" fill="#000000" opacity="0.027"/>
<rect x="480.8" y="322.0" width="3.0" height="284.0" fill="#000000" opacity="0.010"/>
<rect x="483.8" y="322.0" width="3.0" height="284.0" fill="#000000" opacity="0.019"/>
<rect x="486.8" y="322.0" width="3.0" height="284.0" fill="#ffffff" opacity="0.023"/>
<rect x="489.8" y="322.0" width="3.0" height="284.0" fill="#ffffff" opacity="0.005"/>
<rect x="492.8" y="322.0" width="3.0" height="284.0" fill="#000000" opacity="0.024"/>
<rect x="495.8" y="322.0" width="3.0" height="284.0" fill="#000000" opacity="0.039"/>
<rect x="498.8" y="322.0" width="3.0" height="284.0" fill="#000000" opacity="0.001"/>
<rect x="501.8" y="322.0" width="3.0" height="284.0" fill="#000000" opacity="0.010"/>
<rect x="504.8" y="322.0" width="3.0" height="284.0" fill="#000000" opacity="0.022"/>
<rect x="507.8" y="322.0" width="3.0" height="284.0" fill="#ffffff" opacity="0.012"/>
<rect x="510.8" y="322.0" width="3.0" height="284.0" fill="#000000" opacity="0.004"/>
<rect x="513.8" y="322.0" width="3.0" height="284.0" fill="#ffffff" opacity="0.002"/>
<rect x="516.8" y="322.0" width="3.0" height="284.0" fill="#000000" opacity="0.012"/>
<rect x="519.8" y="322.0" width="3.0" height="284.0" fill="#000000" opacity="0.011"/>
<rect x="522.8" y="322.0" width="3.0" height="284.0" fill="#000000" opacity="0.009"/>
<rect x="525.8" y="322.0" width="3.0" height="284.0" fill="#000000" opacity="0.032"/>
<rect x="528.8" y="322.0" width="3.0" height="284.0" fill="#ffffff" opacity="0.013"/>
<rect x="531.8" y="322.0" width="3.0" height="284.0" fill="#ffffff" opacity="0.008"/>
<rect x="534.8" y="322.0" width="3.0" height="284.0" fill="#000000" opacity="0.034"/>
<rect x="537.8" y="322.0" width="3.0" height="284.0" fill="#ffffff" opacity="0.002"/>
<rect x="540.8" y="322.0" width="3.0" height="284.0" fill="#ffffff" opacity="0.023"/>
<rect x="543.8" y="322.0" width="3.0" height="284.0" fill="#ffffff" opacity="0.005"/>
<rect x="546.8" y="322.0" width="3.0" height="284.0" fill="#ffffff" opacity="0.026"/>
<rect x="549.8" y="322.0" width="3.0" height="284.0" fill="#000000" opacity="0.005"/>
<rect x="552.8" y="322.0" width="3.0" height="284.0" fill="#ffffff" opacity="0.000"/>
<rect x="555.8" y="322.0" width="3.0" height="284.0" fill="#000000" opacity="0.026"/>
<rect x="558.8" y="322.0" width="3.0" height="284.0" fill="#000000" opacity="0.018"/>
<rect x="561.8" y="322.0" width="3.0" height="284.0" fill="#000000" opacity="0.036"/>
<rect x="564.8" y="322.0" width="3.0" height="284.0" fill="#000000" opacity="0.018"/>
<rect x="567.8" y="322.0" width="3.0" height="284.0" fill="#ffffff" opacity="0.005"/>
<rect x="570.8" y="322.0" width="3.0" height="284.0" fill="#ffffff" opacity="0.010"/>
<rect x="573.8" y="322.0" width="3.0" height="284.0" fill="#ffffff" opacity="0.023"/>
<rect x="576.8" y="322.0" width="3.0" height="284.0" fill="#ffffff" opacity="0.003"/>
<rect x="579.8" y="322.0" width="3.0" height="284.0" fill="#000000" opacity="0.020"/>
<rect x="582.8" y="322.0" width="3.0" height="284.0" fill="#ffffff" opacity="0.009"/>
<rect x="585.8" y="322.0" width="3.0" height="284.0" fill="#000000" opacity="0.003"/>
<rect x="588.8" y="322.0" width="3.0" height="284.0" fill="#ffffff" opacity="0.036"/>
<rect x="591.8" y="322.0" width="3.0" height="284.0" fill="#ffffff" opacity="0.039"/>
<rect x="594.8" y="322.0" width="3.0" height="284.0" fill="#ffffff" opacity="0.019"/>
<rect x="597.8" y="322.0" width="3.0" height="284.0" fill="#000000" opacity="0.023"/>
<rect x="600.8" y="322.0" width="3.0" height="284.0" fill="#000000" opacity="0.011"/>
<rect x="603.8" y="322.0" width="3.0" height="284.0" fill="#ffffff" opacity="0.004"/>
<rect x="606.8" y="322.0" width="3.0" height="284.0" fill="#000000" opacity="0.014"/>
<rect x="609.8" y="322.0" width="3.0" height="284.0" fill="#ffffff" opacity="0.010"/>
<rect x="612.8" y="322.0" width="3.0" height="284.0" fill="#ffffff" opacity="0.014"/>
<rect x="615.8" y="322.0" width="3.0" height="284.0" fill="#ffffff" opacity="0.017"/>
<rect x="618.8" y="322.0" width="3.0" height="284.0" fill="#ffffff" opacity="0.005"/>
<rect x="621.8" y="322.0" width="3.0" height="284.0" fill="#000000" opacity="0.018"/>
<rect x="624.8" y="322.0" width="3.0" height="284.0" fill="#000000" opacity="0.017"/>
<rect x="627.8" y="322.0" width="3.0" height="284.0" fill="#000000" opacity="0.002"/>
<rect x="630.8" y="322.0" width="3.0" height="284.0" fill="#ffffff" opacity="0.027"/>
<rect x="633.8" y="322.0" width="3.0" height="284.0" fill="#ffffff" opacity="0.031"/>
<rect x="636.8" y="322.0" width="3.0" height="284.0" fill="#ffffff" opacity="0.020"/>
<rect x="639.8" y="322.0" width="3.0" height="284.0" fill="#ffffff" opacity="0.007"/>
<rect x="642.8" y="322.0" width="3.0" height="284.0" fill="#ffffff" opacity="0.014"/>
<rect x="645.8" y="322.0" width="3.0" height="284.0" fill="#ffffff" opacity="0.016"/>
<rect x="648.8" y="322.0" width="3.0" height="284.0" fill="#ffffff" opacity="0.026"/>
<rect x="651.8" y="322.0" width="3.0" height="284.0" fill="#ffffff" opacity="0.017"/>
<rect x="654.8" y="322.0" width="3.0" height="284.0" fill="#000000" opacity="0.031"/>
<rect x="657.8" y="322.0" width="3.0" height="284.0" fill="#ffffff" opacity="0.019"/>
<rect x="660.8" y="322.0" width="3.0" height="284.0" fill="#ffffff" opacity="0.008"/>
<rect x="663.8" y="322.0" width="3.0" height="284.0" fill="#000000" opacity="0.009"/>
<rect x="666.8" y="322.0" width="3.0" height="284.0" fill="#ffffff" opacity="0.011"/>
<rect x="669.8" y="322.0" width="3.0" height="284.0" fill="#ffffff" opacity="0.006"/>
<rect x="672.8" y="322.0" width="3.0" height="284.0" fill="#000000" opacity="0.001"/>
<rect x="675.8" y="322.0" width="3.0" height="284.0" fill="#000000" opacity="0.034"/>
<rect x="678.8" y="322.0" width="3.0" height="284.0" fill="#ffffff" opacity="0.002"/>
<rect x="681.8" y="322.0" width="3.0" height="284.0" fill="#ffffff" opacity="0.011"/>
<rect x="684.8" y="322.0" width="3.0" height="284.0" fill="#000000" opacity="0.001"/>
<rect x="687.8" y="322.0" width="3.0" height="284.0" fill="#000000" opacity="0.032"/>
<rect x="690.8" y="322.0" width="3.0" height="284.0" fill="#ffffff" opacity="0.009"/>
<rect x="693.8" y="322.0" width="3.0" height="284.0" fill="#ffffff" opacity="0.014"/>
<rect x="696.8" y="322.0" width="3.0" height="284.0" fill="#ffffff" opacity="0.004"/>
<rect x="699.8" y="322.0" width="3.0" height="284.0" fill="#ffffff" opacity="0.009"/>
<rect x="702.8" y="322.0" width="3.0" height="284.0" fill="#000000" opacity="0.007"/>
<rect x="705.8" y="322.0" width="3.0" height="284.0" fill="#000000" opacity="0.013"/>
<rect x="708.8" y="322.0" width="3.0" height="284.0" fill="#ffffff" opacity="0.010"/>
<rect x="711.8" y="322.0" width="3.0" height="284.0" fill="#000000" opacity="0.007"/>
<rect x="714.8" y="322.0" width="3.0" height="284.0" fill="#ffffff" opacity="0.004"/>
<rect x="717.8" y="322.0" width="3.0" height="284.0" fill="#ffffff" opacity="0.065"/>
<rect x="720.8" y="322.0" width="3.0" height="284.0" fill="#ffffff" opacity="0.014"/>
<rect x="723.8" y="322.0" width="3.0" height="284.0" fill="#ffffff" opacity="0.003"/>
<rect x="726.8" y="322.0" width="3.0" height="284.0" fill="#000000" opacity="0.032"/>
<rect x="729.8" y="322.0" width="3.0" height="284.0" fill="#ffffff" opacity="0.002"/>
<rect x="732.8" y="322.0" width="1.2" height="284.0" fill="#ffffff" opacity="0.015"/>
</g>
<defs><pattern id="cellp" patternUnits="userSpaceOnUse" x="441.8" y="322.0" width="33.136" height="39.277"><rect x="0.00" y="0.00" width="3.06" height="3.07" fill="#fff" fill-opacity="0.027"/><rect x="0.00" y="3.02" width="3.06" height="3.07" fill="#fff" fill-opacity="0.046"/><rect x="0.00" y="6.04" width="3.06" height="3.07" fill="#000" fill-opacity="0.026"/><rect x="0.00" y="9.06" width="3.06" height="3.07" fill="#000" fill-opacity="0.030"/><rect x="0.00" y="12.09" width="3.06" height="3.07" fill="#fff" fill-opacity="0.013"/><rect x="0.00" y="15.11" width="3.06" height="3.07" fill="#fff" fill-opacity="0.061"/><rect x="0.00" y="18.13" width="3.06" height="3.07" fill="#fff" fill-opacity="0.015"/><rect x="0.00" y="21.15" width="3.06" height="3.07" fill="#000" fill-opacity="0.039"/><rect x="0.00" y="24.17" width="3.06" height="3.07" fill="#000" fill-opacity="0.026"/><rect x="0.00" y="27.19" width="3.06" height="3.07" fill="#000" fill-opacity="0.001"/><rect x="0.00" y="30.21" width="3.06" height="3.07" fill="#fff" fill-opacity="0.034"/><rect x="0.00" y="33.23" width="3.06" height="3.07" fill="#fff" fill-opacity="0.001"/><rect x="0.00" y="36.26" width="3.06" height="3.07" fill="#000" fill-opacity="0.011"/><rect x="3.01" y="0.00" width="3.06" height="3.07" fill="#000" fill-opacity="0.007"/><rect x="3.01" y="3.02" width="3.06" height="3.07" fill="#fff" fill-opacity="0.007"/><rect x="3.01" y="6.04" width="3.06" height="3.07" fill="#000" fill-opacity="0.024"/><rect x="3.01" y="9.06" width="3.06" height="3.07" fill="#fff" fill-opacity="0.001"/><rect x="3.01" y="12.09" width="3.06" height="3.07" fill="#fff" fill-opacity="0.010"/><rect x="3.01" y="15.11" width="3.06" height="3.07" fill="#fff" fill-opacity="0.057"/><rect x="3.01" y="18.13" width="3.06" height="3.07" fill="#000" fill-opacity="0.001"/><rect x="3.01" y="21.15" width="3.06" height="3.07" fill="#fff" fill-opacity="0.034"/><rect x="3.01" y="24.17" width="3.06" height="3.07" fill="#000" fill-opacity="0.034"/><rect x="3.01" y="27.19" width="3.06" height="3.07" fill="#fff" fill-opacity="0.031"/><rect x="3.01" y="30.21" width="3.06" height="3.07" fill="#fff" fill-opacity="0.007"/><rect x="3.01" y="33.23" width="3.06" height="3.07" fill="#000" fill-opacity="0.017"/><rect x="3.01" y="36.26" width="3.06" height="3.07" fill="#fff" fill-opacity="0.000"/><rect x="6.02" y="0.00" width="3.06" height="3.07" fill="#fff" fill-opacity="0.032"/><rect x="6.02" y="3.02" width="3.06" height="3.07" fill="#000" fill-opacity="0.010"/><rect x="6.02" y="6.04" width="3.06" height="3.07" fill="#fff" fill-opacity="0.036"/><rect x="6.02" y="9.06" width="3.06" height="3.07" fill="#fff" fill-opacity="0.053"/><rect x="6.02" y="12.09" width="3.06" height="3.07" fill="#fff" fill-opacity="0.057"/><rect x="6.02" y="15.11" width="3.06" height="3.07" fill="#fff" fill-opacity="0.057"/><rect x="6.02" y="18.13" width="3.06" height="3.07" fill="#000" fill-opacity="0.042"/><rect x="6.02" y="21.15" width="3.06" height="3.07" fill="#fff" fill-opacity="0.013"/><rect x="6.02" y="24.17" width="3.06" height="3.07" fill="#000" fill-opacity="0.022"/><rect x="6.02" y="27.19" width="3.06" height="3.07" fill="#fff" fill-opacity="0.034"/><rect x="6.02" y="30.21" width="3.06" height="3.07" fill="#fff" fill-opacity="0.004"/><rect x="6.02" y="33.23" width="3.06" height="3.07" fill="#fff" fill-opacity="0.009"/><rect x="6.02" y="36.26" width="3.06" height="3.07" fill="#fff" fill-opacity="0.017"/><rect x="9.04" y="0.00" width="3.06" height="3.07" fill="#000" fill-opacity="0.019"/><rect x="9.04" y="3.02" width="3.06" height="3.07" fill="#fff" fill-opacity="0.005"/><rect x="9.04" y="6.04" width="3.06" height="3.07" fill="#000" fill-opacity="0.024"/><rect x="9.04" y="9.06" width="3.06" height="3.07" fill="#fff" fill-opacity="0.073"/><rect x="9.04" y="12.09" width="3.06" height="3.07" fill="#000" fill-opacity="0.014"/><rect x="9.04" y="15.11" width="3.06" height="3.07" fill="#fff" fill-opacity="0.002"/><rect x="9.04" y="18.13" width="3.06" height="3.07" fill="#000" fill-opacity="0.059"/><rect x="9.04" y="21.15" width="3.06" height="3.07" fill="#000" fill-opacity="0.049"/><rect x="9.04" y="24.17" width="3.06" height="3.07" fill="#000" fill-opacity="0.028"/><rect x="9.04" y="27.19" width="3.06" height="3.07" fill="#fff" fill-opacity="0.029"/><rect x="9.04" y="30.21" width="3.06" height="3.07" fill="#fff" fill-opacity="0.028"/><rect x="9.04" y="33.23" width="3.06" height="3.07" fill="#fff" fill-opacity="0.011"/><rect x="9.04" y="36.26" width="3.06" height="3.07" fill="#000" fill-opacity="0.021"/><rect x="12.05" y="0.00" width="3.06" height="3.07" fill="#fff" fill-opacity="0.065"/><rect x="12.05" y="3.02" width="3.06" height="3.07" fill="#000" fill-opacity="0.034"/><rect x="12.05" y="6.04" width="3.06" height="3.07" fill="#000" fill-opacity="0.028"/><rect x="12.05" y="9.06" width="3.06" height="3.07" fill="#fff" fill-opacity="0.018"/><rect x="12.05" y="12.09" width="3.06" height="3.07" fill="#000" fill-opacity="0.033"/><rect x="12.05" y="15.11" width="3.06" height="3.07" fill="#fff" fill-opacity="0.010"/><rect x="12.05" y="18.13" width="3.06" height="3.07" fill="#fff" fill-opacity="0.035"/><rect x="12.05" y="21.15" width="3.06" height="3.07" fill="#000" fill-opacity="0.001"/><rect x="12.05" y="24.17" width="3.06" height="3.07" fill="#fff" fill-opacity="0.015"/><rect x="12.05" y="27.19" width="3.06" height="3.07" fill="#fff" fill-opacity="0.003"/><rect x="12.05" y="30.21" width="3.06" height="3.07" fill="#000" fill-opacity="0.022"/><rect x="12.05" y="33.23" width="3.06" height="3.07" fill="#000" fill-opacity="0.090"/><rect x="12.05" y="36.26" width="3.06" height="3.07" fill="#000" fill-opacity="0.041"/><rect x="15.06" y="0.00" width="3.06" height="3.07" fill="#fff" fill-opacity="0.001"/><rect x="15.06" y="3.02" width="3.06" height="3.07" fill="#000" fill-opacity="0.055"/><rect x="15.06" y="6.04" width="3.06" height="3.07" fill="#000" fill-opacity="0.018"/><rect x="15.06" y="9.06" width="3.06" height="3.07" fill="#fff" fill-opacity="0.008"/><rect x="15.06" y="12.09" width="3.06" height="3.07" fill="#fff" fill-opacity="0.047"/><rect x="15.06" y="15.11" width="3.06" height="3.07" fill="#000" fill-opacity="0.046"/><rect x="15.06" y="18.13" width="3.06" height="3.07" fill="#000" fill-opacity="0.017"/><rect x="15.06" y="21.15" width="3.06" height="3.07" fill="#fff" fill-opacity="0.009"/><rect x="15.06" y="24.17" width="3.06" height="3.07" fill="#fff" fill-opacity="0.019"/><rect x="15.06" y="27.19" width="3.06" height="3.07" fill="#000" fill-opacity="0.046"/><rect x="15.06" y="30.21" width="3.06" height="3.07" fill="#fff" fill-opacity="0.065"/><rect x="15.06" y="33.23" width="3.06" height="3.07" fill="#000" fill-opacity="0.027"/><rect x="15.06" y="36.26" width="3.06" height="3.07" fill="#fff" fill-opacity="0.039"/><rect x="18.07" y="0.00" width="3.06" height="3.07" fill="#000" fill-opacity="0.006"/><rect x="18.07" y="3.02" width="3.06" height="3.07" fill="#fff" fill-opacity="0.015"/><rect x="18.07" y="6.04" width="3.06" height="3.07" fill="#fff" fill-opacity="0.059"/><rect x="18.07" y="9.06" width="3.06" height="3.07" fill="#fff" fill-opacity="0.026"/><rect x="18.07" y="12.09" width="3.06" height="3.07" fill="#fff" fill-opacity="0.006"/><rect x="18.07" y="15.11" width="3.06" height="3.07" fill="#000" fill-opacity="0.033"/><rect x="18.07" y="18.13" width="3.06" height="3.07" fill="#000" fill-opacity="0.021"/><rect x="18.07" y="21.15" width="3.06" height="3.07" fill="#000" fill-opacity="0.048"/><rect x="18.07" y="24.17" width="3.06" height="3.07" fill="#fff" fill-opacity="0.071"/><rect x="18.07" y="27.19" width="3.06" height="3.07" fill="#000" fill-opacity="0.052"/><rect x="18.07" y="30.21" width="3.06" height="3.07" fill="#000" fill-opacity="0.088"/><rect x="18.07" y="33.23" width="3.06" height="3.07" fill="#fff" fill-opacity="0.058"/><rect x="18.07" y="36.26" width="3.06" height="3.07" fill="#fff" fill-opacity="0.045"/><rect x="21.09" y="0.00" width="3.06" height="3.07" fill="#000" fill-opacity="0.011"/><rect x="21.09" y="3.02" width="3.06" height="3.07" fill="#fff" fill-opacity="0.030"/><rect x="21.09" y="6.04" width="3.06" height="3.07" fill="#000" fill-opacity="0.027"/><rect x="21.09" y="9.06" width="3.06" height="3.07" fill="#000" fill-opacity="0.019"/><rect x="21.09" y="12.09" width="3.06" height="3.07" fill="#fff" fill-opacity="0.019"/><rect x="21.09" y="15.11" width="3.06" height="3.07" fill="#fff" fill-opacity="0.015"/><rect x="21.09" y="18.13" width="3.06" height="3.07" fill="#000" fill-opacity="0.015"/><rect x="21.09" y="21.15" width="3.06" height="3.07" fill="#fff" fill-opacity="0.057"/><rect x="21.09" y="24.17" width="3.06" height="3.07" fill="#fff" fill-opacity="0.027"/><rect x="21.09" y="27.19" width="3.06" height="3.07" fill="#fff" fill-opacity="0.006"/><rect x="21.09" y="30.21" width="3.06" height="3.07" fill="#000" fill-opacity="0.040"/><rect x="21.09" y="33.23" width="3.06" height="3.07" fill="#fff" fill-opacity="0.006"/><rect x="21.09" y="36.26" width="3.06" height="3.07" fill="#000" fill-opacity="0.010"/><rect x="24.10" y="0.00" width="3.06" height="3.07" fill="#000" fill-opacity="0.001"/><rect x="24.10" y="3.02" width="3.06" height="3.07" fill="#fff" fill-opacity="0.029"/><rect x="24.10" y="6.04" width="3.06" height="3.07" fill="#000" fill-opacity="0.019"/><rect x="24.10" y="9.06" width="3.06" height="3.07" fill="#fff" fill-opacity="0.010"/><rect x="24.10" y="12.09" width="3.06" height="3.07" fill="#fff" fill-opacity="0.029"/><rect x="24.10" y="15.11" width="3.06" height="3.07" fill="#fff" fill-opacity="0.013"/><rect x="24.10" y="18.13" width="3.06" height="3.07" fill="#fff" fill-opacity="0.081"/><rect x="24.10" y="21.15" width="3.06" height="3.07" fill="#000" fill-opacity="0.059"/><rect x="24.10" y="24.17" width="3.06" height="3.07" fill="#000" fill-opacity="0.001"/><rect x="24.10" y="27.19" width="3.06" height="3.07" fill="#000" fill-opacity="0.040"/><rect x="24.10" y="30.21" width="3.06" height="3.07" fill="#000" fill-opacity="0.001"/><rect x="24.10" y="33.23" width="3.06" height="3.07" fill="#fff" fill-opacity="0.088"/><rect x="24.10" y="36.26" width="3.06" height="3.07" fill="#000" fill-opacity="0.056"/><rect x="27.11" y="0.00" width="3.06" height="3.07" fill="#000" fill-opacity="0.009"/><rect x="27.11" y="3.02" width="3.06" height="3.07" fill="#fff" fill-opacity="0.024"/><rect x="27.11" y="6.04" width="3.06" height="3.07" fill="#fff" fill-opacity="0.004"/><rect x="27.11" y="9.06" width="3.06" height="3.07" fill="#fff" fill-opacity="0.033"/><rect x="27.11" y="12.09" width="3.06" height="3.07" fill="#000" fill-opacity="0.053"/><rect x="27.11" y="15.11" width="3.06" height="3.07" fill="#fff" fill-opacity="0.035"/><rect x="27.11" y="18.13" width="3.06" height="3.07" fill="#000" fill-opacity="0.032"/><rect x="27.11" y="21.15" width="3.06" height="3.07" fill="#000" fill-opacity="0.041"/><rect x="27.11" y="24.17" width="3.06" height="3.07" fill="#fff" fill-opacity="0.021"/><rect x="27.11" y="27.19" width="3.06" height="3.07" fill="#fff" fill-opacity="0.018"/><rect x="27.11" y="30.21" width="3.06" height="3.07" fill="#000" fill-opacity="0.024"/><rect x="27.11" y="33.23" width="3.06" height="3.07" fill="#000" fill-opacity="0.027"/><rect x="27.11" y="36.26" width="3.06" height="3.07" fill="#000" fill-opacity="0.006"/><rect x="30.12" y="0.00" width="3.06" height="3.07" fill="#fff" fill-opacity="0.001"/><rect x="30.12" y="3.02" width="3.06" height="3.07" fill="#000" fill-opacity="0.005"/><rect x="30.12" y="6.04" width="3.06" height="3.07" fill="#000" fill-opacity="0.034"/><rect x="30.12" y="9.06" width="3.06" height="3.07" fill="#000" fill-opacity="0.080"/><rect x="30.12" y="12.09" width="3.06" height="3.07" fill="#fff" fill-opacity="0.046"/><rect x="30.12" y="15.11" width="3.06" height="3.07" fill="#fff" fill-opacity="0.007"/><rect x="30.12" y="18.13" width="3.06" height="3.07" fill="#000" fill-opacity="0.042"/><rect x="30.12" y="21.15" width="3.06" height="3.07" fill="#000" fill-opacity="0.054"/><rect x="30.12" y="24.17" width="3.06" height="3.07" fill="#000" fill-opacity="0.023"/><rect x="30.12" y="27.19" width="3.06" height="3.07" fill="#000" fill-opacity="0.014"/><rect x="30.12" y="30.21" width="3.06" height="3.07" fill="#000" fill-opacity="0.073"/><rect x="30.12" y="33.23" width="3.06" height="3.07" fill="#fff" fill-opacity="0.049"/><rect x="30.12" y="36.26" width="3.06" height="3.07" fill="#fff" fill-opacity="0.016"/></pattern></defs>
<rect x="441.8" y="322.0" width="292.2" height="284.0" fill="url(#cellp)" shape-rendering="crispEdges"/>
<rect x="441.8" y="316.8" width="66.1" height="4.3" fill="#6cb8a4"/>
<rect x="507.9" y="316.8" width="14.6" height="4.3" fill="#7fb23e"/>
<rect x="522.5" y="316.8" width="7.1" height="4.3" fill="#dca431"/>
<rect x="529.6" y="316.8" width="1.9" height="4.3" fill="#7fb23e"/>
<rect x="531.5" y="316.8" width="2.3" height="4.3" fill="#9a98d6"/>
<rect x="533.8" y="316.8" width="9.0" height="4.3" fill="#dca431"/>
<rect x="542.8" y="316.8" width="5.0" height="4.3" fill="#86a2e0"/>
<rect x="547.8" y="316.8" width="6.2" height="4.3" fill="#dca431"/>
<rect x="554" y="316.8" width="3.2" height="4.3" fill="#86a2e0"/>
<rect x="557.2" y="316.8" width="15.0" height="4.3" fill="#dca431"/>
<rect x="572.2" y="316.8" width="12.2" height="4.3" fill="#7fb23e"/>
<rect x="584.4" y="316.8" width="1.9" height="4.3" fill="#dca431"/>
<rect x="586.3" y="316.8" width="1.7" height="4.3" fill="#7fb23e"/>
<rect x="588" y="316.8" width="4.0" height="4.3" fill="#dca431"/>
<rect x="592" y="316.8" width="20.0" height="4.3" fill="#b45fa8"/>
<rect x="612" y="316.8" width="38.0" height="4.3" fill="#86a2e0"/>
<rect x="650" y="316.8" width="34.6" height="4.3" fill="#b474c4"/>
<rect x="684.6" y="316.8" width="5.9" height="4.3" fill="#dca431"/>
<rect x="690.5" y="316.8" width="8.9" height="4.3" fill="#76b4e6"/>
<rect x="699.4" y="316.8" width="34.6" height="4.3" fill="#d88080"/>
<rect x="436.8" y="322" width="3.8" height="14.7" fill="#b45fa8"/>
<rect x="436.8" y="336.7" width="3.8" height="4.1" fill="#86a2e0"/>
<rect x="436.8" y="340.8" width="3.8" height="22.7" fill="#6cb8a4"/>
<rect x="436.8" y="363.5" width="3.8" height="1.5" fill="#9a98d6"/>
<rect x="436.8" y="365" width="3.8" height="5.0" fill="#d88080"/>
<rect x="436.8" y="370" width="3.8" height="5.0" fill="#76b4e6"/>
<rect x="436.8" y="375" width="3.8" height="7.0" fill="#7fb23e"/>
<rect x="436.8" y="382" width="3.8" height="4.0" fill="#dca431"/>
<rect x="436.8" y="386" width="3.8" height="3.5" fill="#7fb23e"/>
<rect x="436.8" y="389.5" width="3.8" height="4.1" fill="#dca431"/>
<rect x="436.8" y="393.6" width="3.8" height="2.4" fill="#76b4e6"/>
<rect x="436.8" y="396" width="3.8" height="9.8" fill="#7fb23e"/>
<rect x="436.8" y="405.8" width="3.8" height="3.2" fill="#dca431"/>
<rect x="436.8" y="409" width="3.8" height="3.4" fill="#dca431"/>
<rect x="436.8" y="412.4" width="3.8" height="27.6" fill="#d88080"/>
<rect x="436.8" y="440" width="3.8" height="11.5" fill="#dca431"/>
<rect x="436.8" y="451.5" width="3.8" height="22.7" fill="#86a2e0"/>
<rect x="436.8" y="474.2" width="3.8" height="5.8" fill="#dca431"/>
<rect x="436.8" y="480" width="3.8" height="10.5" fill="#b474c4"/>
<rect x="436.8" y="490.5" width="3.8" height="5.7" fill="#dca431"/>
<rect x="436.8" y="496.2" width="3.8" height="6.5" fill="#b474c4"/>
<rect x="436.8" y="502.7" width="3.8" height="9.1" fill="#dca431"/>
<rect x="436.8" y="511.8" width="3.8" height="10.2" fill="#7fb23e"/>
<rect x="436.8" y="522" width="3.8" height="9.5" fill="#dca431"/>
<rect x="436.8" y="531.5" width="3.8" height="10.3" fill="#b45fa8"/>
<rect x="436.8" y="541.8" width="3.8" height="28.2" fill="#6cb8a4"/>
<rect x="436.8" y="570" width="3.8" height="6.8" fill="#86a2e0"/>
<rect x="436.8" y="576.8" width="3.8" height="10.2" fill="#6cb8a4"/>
<rect x="436.8" y="587" width="3.8" height="9.5" fill="#b45fa8"/>
<rect x="436.8" y="596.5" width="3.8" height="9.5" fill="#6cb8a4"/>
<path d="M443.0,316.6 V314.1 H448.0 V316.6 M448.5,316.6 V315.7 H451.5 V316.6 M452.5,316.6 V315.1 H455.5 V316.6 M455.5,316.6 V315.4 H463.5 V316.6 M463.5,316.6 V315.0 H469.5 V316.6 M469.5,316.6 V314.8 H472.5 V316.6 M472.5,316.6 V315.6 H480.5 V316.6 M480.5,316.6 V314.1 H488.5 V316.6 M489.5,316.6 V315.1 H497.5 V316.6 M497.5,316.6 V314.8 H500.5 V316.6 M500.5,316.6 V315.0 H505.5 V316.6 M506.5,316.6 V314.8 H509.5 V316.6 M510.5,316.6 V315.6 H514.5 V316.6 M515.5,316.6 V315.1 H519.5 V316.6 M520.5,316.6 V314.8 H523.5 V316.6 M524.5,316.6 V314.9 H528.5 V316.6 M529.5,316.6 V314.4 H535.5 V316.6 M536.0,316.6 V314.1 H544.0 V316.6 M544.5,316.6 V315.4 H549.5 V316.6 M549.5,316.6 V315.7 H553.5 V316.6 M554.0,316.6 V314.9 H562.0 V316.6 M562.5,316.6 V315.3 H568.5 V316.6 M568.5,316.6 V314.9 H571.5 V316.6 M571.5,316.6 V315.5 H576.5 V316.6 M577.0,316.6 V315.7 H583.0 V316.6 M584.0,316.6 V314.4 H587.0 V316.6 M588.0,316.6 V315.2 H593.0 V316.6 M593.5,316.6 V314.9 H601.5 V316.6 M602.0,316.6 V314.3 H605.0 V316.6 M605.5,316.6 V314.5 H611.5 V316.6 M611.5,316.6 V314.5 H614.5 V316.6 M615.0,316.6 V314.0 H623.0 V316.6 M623.5,316.6 V314.5 H628.5 V316.6 M629.5,316.6 V315.8 H634.5 V316.6 M635.0,316.6 V315.5 H640.0 V316.6 M640.0,316.6 V315.7 H646.0 V316.6 M646.5,316.6 V314.5 H650.5 V316.6 M651.0,316.6 V314.1 H657.0 V316.6 M657.5,316.6 V315.5 H660.5 V316.6 M661.0,316.6 V315.3 H669.0 V316.6 M669.0,316.6 V314.2 H675.0 V316.6 M675.5,316.6 V314.0 H681.5 V316.6 M682.5,316.6 V314.1 H688.5 V316.6 M688.5,316.6 V315.5 H691.5 V316.6 M691.5,316.6 V315.8 H695.5 V316.6 M696.5,316.6 V315.3 H700.5 V316.6 M700.5,316.6 V315.0 H704.5 V316.6 M705.0,316.6 V314.8 H713.0 V316.6 M713.0,316.6 V314.1 H721.0 V316.6 M722.0,316.6 V315.0 H725.0 V316.6 M726.0,316.6 V315.1 H733.0 V316.6 M445.0,313.8 V312.4 H456.0 V313.8 M457.0,313.8 V312.6 H469.0 V313.8 M470.0,313.8 V312.4 H481.0 V313.8 M482.0,313.8 V311.9 H493.0 V313.8 M494.0,313.8 V313.8 H505.0 V313.8 M506.0,313.8 V312.5 H513.0 V313.8 M514.0,313.8 V311.8 H521.0 V313.8 M522.0,313.8 V312.9 H531.0 V313.8 M532.0,313.8 V311.7 H541.0 V313.8 M542.0,313.8 V312.8 H553.0 V313.8 M554.0,313.8 V312.7 H563.0 V313.8 M564.0,313.8 V313.7 H575.0 V313.8 M576.0,313.8 V312.9 H587.0 V313.8 M588.0,313.8 V311.7 H599.0 V313.8 M600.0,313.8 V312.0 H611.0 V313.8 M612.0,313.8 V312.4 H621.0 V313.8 M622.0,313.8 V313.0 H633.0 V313.8 M634.0,313.8 V313.7 H645.0 V313.8 M646.0,313.8 V312.9 H657.0 V313.8 M658.0,313.8 V312.6 H665.0 V313.8 M666.0,313.8 V311.8 H677.0 V313.8 M678.0,313.8 V312.6 H691.0 V313.8 M692.0,313.8 V313.7 H703.0 V313.8 M704.0,313.8 V312.6 H715.0 V313.8 M716.0,313.8 V312.2 H727.0 V313.8 M534.4,296 L671,296 M534.4,296 L534.4,305 M671,296 L671,301.6 M486.4,305 L583.6,305 M486.4,305 L486.4,311 M583.6,305 L583.6,308 M472,311 L501,311 M472,311 L472,313 M501,311 L501,313 M544,308 L623.4,308 M544,308 L544,311 M623.4,308 L623.4,311 M655.3,301.6 L686.6,301.6 M655.3,301.6 L655.3,309.7 M686.6,301.6 L686.6,304.6 M672.5,304.6 L709,304.6 M672.5,304.6 L672.5,308.7 M709,304.6 L709,307.2 M690.3,307.2 L725,307.2 M690.3,307.2 L690.3,311 M725,307.2 L725,311 M640,309.7 L668,309.7 M640,309.7 L640,312 M668,309.7 L668,312" fill="none" stroke="#555" stroke-width="0.6"/>
<path d="M434.53,323.51 L434.53,326.53 M434.53,323.51 L436.40,323.51 M434.53,326.53 L436.40,326.53 M432.77,325.02 L432.77,329.55 M432.77,325.02 L434.53,325.02 M432.77,329.55 L436.40,329.55 M434.56,332.57 L434.56,335.60 M434.56,332.57 L436.40,332.57 M434.56,335.60 L436.40,335.60 M430.45,327.29 L430.45,334.09 M430.45,327.29 L432.77,327.29 M430.45,334.09 L434.56,334.09 M435.63,338.62 L435.63,341.64 M435.63,338.62 L436.40,338.62 M435.63,341.64 L436.40,341.64 M434.72,347.68 L434.72,350.70 M434.72,347.68 L436.40,347.68 M434.72,350.70 L436.40,350.70 M432.56,344.66 L432.56,349.19 M432.56,344.66 L436.40,344.66 M432.56,349.19 L434.72,349.19 M430.06,340.13 L430.06,346.93 M430.06,340.13 L435.63,340.13 M430.06,346.93 L432.56,346.93 M427.53,330.69 L427.53,343.53 M427.53,330.69 L430.45,330.69 M427.53,343.53 L430.06,343.53 M434.49,353.72 L434.49,356.74 M434.49,353.72 L436.40,353.72 M434.49,356.74 L436.40,356.74 M432.47,355.23 L432.47,359.77 M432.47,355.23 L434.49,355.23 M432.47,359.77 L436.40,359.77 M434.48,362.79 L434.48,365.81 M434.48,362.79 L436.40,362.79 M434.48,365.81 L436.40,365.81 M435.21,368.83 L435.21,371.85 M435.21,368.83 L436.40,368.83 M435.21,371.85 L436.40,371.85 M432.79,364.30 L432.79,370.34 M432.79,364.30 L434.48,364.30 M432.79,370.34 L435.21,370.34 M429.98,357.50 L429.98,367.32 M429.98,357.50 L432.47,357.50 M429.98,367.32 L432.79,367.32 M435.27,374.87 L435.27,377.89 M435.27,374.87 L436.40,374.87 M435.27,377.89 L436.40,377.89 M434.80,383.94 L434.80,386.96 M434.80,383.94 L436.40,383.94 M434.80,386.96 L436.40,386.96 M432.42,380.91 L432.42,385.45 M432.42,380.91 L436.40,380.91 M432.42,385.45 L434.80,385.45 M430.00,383.18 L430.00,389.98 M430.00,383.18 L432.42,383.18 M430.00,389.98 L436.40,389.98 M428.02,376.38 L428.02,386.58 M428.02,376.38 L435.27,376.38 M428.02,386.58 L430.00,386.58 M435.58,396.02 L435.58,399.04 M435.58,396.02 L436.40,396.02 M435.58,399.04 L436.40,399.04 M433.24,393.00 L433.24,397.53 M433.24,393.00 L436.40,393.00 M433.24,397.53 L435.58,397.53 M434.53,402.06 L434.53,405.09 M434.53,402.06 L436.40,402.06 M434.53,405.09 L436.40,405.09 M431.06,395.27 L431.06,403.57 M431.06,395.27 L433.24,395.27 M431.06,403.57 L434.53,403.57 M426.00,381.48 L426.00,399.42 M426.00,381.48 L428.02,381.48 M426.00,399.42 L431.06,399.42 M426.00,362.41 L426.00,390.45 M426.00,362.41 L429.98,362.41 M426.00,390.45 L426.00,390.45 M435.23,411.13 L435.23,414.15 M435.23,411.13 L436.40,411.13 M435.23,414.15 L436.40,414.15 M432.93,408.11 L432.93,412.64 M432.93,408.11 L436.40,408.11 M432.93,412.64 L435.23,412.64 M430.30,410.37 L430.30,417.17 M430.30,410.37 L432.93,410.37 M430.30,417.17 L436.40,417.17 M435.26,420.19 L435.26,423.21 M435.26,420.19 L436.40,420.19 M435.26,423.21 L436.40,423.21 M428.24,413.77 L428.24,421.70 M428.24,413.77 L430.30,413.77 M428.24,421.70 L435.26,421.70 M435.58,429.26 L435.58,432.28 M435.58,429.26 L436.40,429.26 M435.58,432.28 L436.40,432.28 M433.74,430.77 L433.74,435.30 M433.74,430.77 L435.58,430.77 M433.74,435.30 L436.40,435.30 M431.94,426.23 L431.94,433.03 M431.94,426.23 L436.40,426.23 M431.94,433.03 L433.74,433.03 M426.00,417.74 L426.00,429.63 M426.00,417.74 L428.24,417.74 M426.00,429.63 L431.94,429.63 M426.00,376.43 L426.00,423.68 M426.00,376.43 L426.00,376.43 M426.00,423.68 L426.00,423.68 M434.76,441.34 L434.76,444.36 M434.76,441.34 L436.40,441.34 M434.76,444.36 L436.40,444.36 M432.80,438.32 L432.80,442.85 M432.80,438.32 L436.40,438.32 M432.80,442.85 L434.76,442.85 M435.29,453.43 L435.29,456.45 M435.29,453.43 L436.40,453.43 M435.29,456.45 L436.40,456.45 M432.88,450.40 L432.88,454.94 M432.88,450.40 L436.40,450.40 M432.88,454.94 L435.29,454.94 M430.19,447.38 L430.19,452.67 M430.19,447.38 L436.40,447.38 M430.19,452.67 L432.88,452.67 M434.77,459.47 L434.77,462.49 M434.77,459.47 L436.40,459.47 M434.77,462.49 L436.40,462.49 M427.88,450.03 L427.88,460.98 M427.88,450.03 L430.19,450.03 M427.88,460.98 L434.77,460.98 M426.00,440.59 L426.00,455.50 M426.00,440.59 L432.80,440.59 M426.00,455.50 L427.88,455.50 M434.89,465.51 L434.89,468.53 M434.89,465.51 L436.40,465.51 M434.89,468.53 L436.40,468.53 M435.31,474.57 L435.31,477.60 M435.31,474.57 L436.40,474.57 M435.31,477.60 L436.40,477.60 M433.07,471.55 L433.07,476.09 M433.07,471.55 L436.40,471.55 M433.07,476.09 L435.31,476.09 M430.36,467.02 L430.36,473.82 M430.36,467.02 L434.89,467.02 M430.36,473.82 L433.07,473.82 M426.00,448.04 L426.00,470.42 M426.00,448.04 L426.00,448.04 M426.00,470.42 L430.36,470.42 M434.72,480.62 L434.72,483.64 M434.72,480.62 L436.40,480.62 M434.72,483.64 L436.40,483.64 M434.51,486.66 L434.51,489.68 M434.51,486.66 L436.40,486.66 M434.51,489.68 L436.40,489.68 M432.29,482.13 L432.29,488.17 M432.29,482.13 L434.72,482.13 M432.29,488.17 L434.51,488.17 M434.83,492.70 L434.83,495.72 M434.83,492.70 L436.40,492.70 M434.83,495.72 L436.40,495.72 M434.68,498.74 L434.68,501.77 M434.68,498.74 L436.40,498.74 M434.68,501.77 L436.40,501.77 M434.76,504.79 L434.76,507.81 M434.76,504.79 L436.40,504.79 M434.76,507.81 L436.40,507.81 M432.75,500.26 L432.75,506.30 M432.75,500.26 L434.68,500.26 M432.75,506.30 L434.76,506.30 M429.74,494.21 L429.74,503.28 M429.74,494.21 L434.83,494.21 M429.74,503.28 L432.75,503.28 M426.04,485.15 L426.04,498.74 M426.04,485.15 L432.29,485.15 M426.04,498.74 L429.74,498.74 M434.64,510.83 L434.64,513.85 M434.64,510.83 L436.40,510.83 M434.64,513.85 L436.40,513.85 M434.81,516.87 L434.81,519.89 M434.81,516.87 L436.40,516.87 M434.81,519.89 L436.40,519.89 M432.24,512.34 L432.24,518.38 M432.24,512.34 L434.64,512.34 M432.24,518.38 L434.81,518.38 M434.94,522.91 L434.94,525.94 M434.94,522.91 L436.40,522.91 M434.94,525.94 L436.40,525.94 M429.77,515.36 L429.77,524.43 M429.77,515.36 L432.24,515.36 M429.77,524.43 L434.94,524.43 M426.00,491.95 L426.00,519.89 M426.00,491.95 L426.04,491.95 M426.00,519.89 L429.77,519.89 M435.38,535.00 L435.38,538.02 M435.38,535.00 L436.40,535.00 M435.38,538.02 L436.40,538.02 M433.42,531.98 L433.42,536.51 M433.42,531.98 L436.40,531.98 M433.42,536.51 L435.38,536.51 M431.33,528.96 L431.33,534.24 M431.33,528.96 L436.40,528.96 M431.33,534.24 L433.42,534.24 M435.26,544.06 L435.26,547.09 M435.26,544.06 L436.40,544.06 M435.26,547.09 L436.40,547.09 M433.82,541.04 L433.82,545.57 M433.82,541.04 L436.40,541.04 M433.82,545.57 L435.26,545.57 M428.64,531.60 L428.64,543.31 M428.64,531.60 L431.33,531.60 M428.64,543.31 L433.82,543.31 M435.36,550.11 L435.36,553.13 M435.36,550.11 L436.40,550.11 M435.36,553.13 L436.40,553.13 M435.31,556.15 L435.31,559.17 M435.31,556.15 L436.40,556.15 M435.31,559.17 L436.40,559.17 M433.97,557.66 L433.97,562.19 M433.97,557.66 L435.31,557.66 M433.97,562.19 L436.40,562.19 M431.75,551.62 L431.75,559.93 M431.75,551.62 L435.36,551.62 M431.75,559.93 L433.97,559.93 M426.00,537.45 L426.00,555.77 M426.00,537.45 L428.64,537.45 M426.00,555.77 L431.75,555.77 M426.00,505.92 L426.00,546.61 M426.00,505.92 L426.00,505.92 M426.00,546.61 L426.00,546.61 M426.00,459.23 L426.00,526.27 M426.00,459.23 L426.00,459.23 M426.00,526.27 L426.00,526.27 M435.47,565.21 L435.47,568.23 M435.47,565.21 L436.40,565.21 M435.47,568.23 L436.40,568.23 M433.59,566.72 L433.59,571.26 M433.59,566.72 L435.47,566.72 M433.59,571.26 L436.40,571.26 M435.22,574.28 L435.22,577.30 M435.22,574.28 L436.40,574.28 M435.22,577.30 L436.40,577.30 M434.01,575.79 L434.01,580.32 M434.01,575.79 L435.22,575.79 M434.01,580.32 L436.40,580.32 M430.95,568.99 L430.95,578.05 M430.95,568.99 L433.59,568.99 M430.95,578.05 L434.01,578.05 M434.57,583.34 L434.57,586.36 M434.57,583.34 L436.40,583.34 M434.57,586.36 L436.40,586.36 M435.37,589.38 L435.37,592.40 M435.37,589.38 L436.40,589.38 M435.37,592.40 L436.40,592.40 M431.89,584.85 L431.89,590.89 M431.89,584.85 L434.57,584.85 M431.89,590.89 L435.37,590.89 M427.27,573.52 L427.27,587.87 M427.27,573.52 L430.95,573.52 M427.27,587.87 L431.89,587.87 M435.05,595.43 L435.05,598.45 M435.05,595.43 L436.40,595.43 M435.05,598.45 L436.40,598.45 M433.46,596.94 L433.46,601.47 M433.46,596.94 L435.05,596.94 M433.46,601.47 L436.40,601.47 M431.35,599.20 L431.35,604.49 M431.35,599.20 L433.46,599.20 M431.35,604.49 L436.40,604.49 M426.00,580.70 L426.00,601.85 M426.00,580.70 L427.27,580.70 M426.00,601.85 L431.35,601.85 M427.90,400.06 L427.90,492.75 M427.90,400.06 L426.00,400.06 M427.90,492.75 L426.00,492.75 M425.40,337.11 L425.40,446.40 M425.40,337.11 L427.53,337.11 M425.40,446.40 L427.90,446.40 M415.30,391.75 L415.30,591.27 M415.30,391.75 L425.40,391.75 M415.30,591.27 L426.00,591.27" fill="none" stroke="#666" stroke-width="0.55"/>
<text x="734.7" y="324.31" textLength="4.20" lengthAdjust="spacingAndGlyphs" style="font-size:2.7px;fill:#3a3a3a">Cell Cycle</text>
<text x="734.7" y="327.33" textLength="4.70" lengthAdjust="spacingAndGlyphs" style="font-size:2.7px;fill:#3a3a3a">Lymphoid Associated Glial</text>
<text x="734.7" y="330.35" textLength="5.20" lengthAdjust="spacingAndGlyphs" style="font-size:2.7px;fill:#3a3a3a">Muscularis G2M−phase</text>
<text x="734.7" y="333.37" textLength="4.45" lengthAdjust="spacingAndGlyphs" style="font-size:2.7px;fill:#3a3a3a">Interneuron</text>
<text x="734.7" y="336.40" textLength="4.95" lengthAdjust="spacingAndGlyphs" style="font-size:2.7px;fill:#3a3a3a">Angiogenic Pericytes</text>
<text x="734.7" y="339.42" textLength="4.20" lengthAdjust="spacingAndGlyphs" style="font-size:2.7px;fill:#3a3a3a">Proximal Mature Enterocytes</text>
<text x="734.7" y="342.44" textLength="4.70" lengthAdjust="spacingAndGlyphs" style="font-size:2.7px;fill:#3a3a3a">Glial Progenitors</text>
<text x="734.7" y="345.46" textLength="5.20" lengthAdjust="spacingAndGlyphs" style="font-size:2.7px;fill:#3a3a3a">Distal IM</text>
<text x="734.7" y="348.48" textLength="4.45" lengthAdjust="spacingAndGlyphs" style="font-size:2.7px;fill:#3a3a3a">Excitory Motor Neuron</text>
<text x="734.7" y="351.50" textLength="4.95" lengthAdjust="spacingAndGlyphs" style="font-size:2.7px;fill:#3a3a3a">BMPER+ Pericytes</text>
<text x="734.7" y="354.52" textLength="4.20" lengthAdjust="spacingAndGlyphs" style="font-size:2.7px;fill:#3a3a3a">Proximal Stem Cells</text>
<text x="734.7" y="357.54" textLength="4.70" lengthAdjust="spacingAndGlyphs" style="font-size:2.7px;fill:#3a3a3a">Lymphatic</text>
<text x="734.7" y="360.57" textLength="5.20" lengthAdjust="spacingAndGlyphs" style="font-size:2.7px;fill:#3a3a3a">Myofibroblast Progenitors</text>
<text x="734.7" y="363.59" textLength="4.45" lengthAdjust="spacingAndGlyphs" style="font-size:2.7px;fill:#3a3a3a">pre B−Cells</text>
<text x="734.7" y="366.61" textLength="4.95" lengthAdjust="spacingAndGlyphs" style="font-size:2.7px;fill:#3a3a3a">S1 IFIT3+</text>
<text x="734.7" y="369.63" textLength="4.20" lengthAdjust="spacingAndGlyphs" style="font-size:2.7px;fill:#3a3a3a">BEST4/OTOP2 Cells</text>
<text x="734.7" y="372.65" textLength="4.70" lengthAdjust="spacingAndGlyphs" style="font-size:2.7px;fill:#3a3a3a">Arterial (CP) 2</text>
<text x="734.7" y="375.67" textLength="5.20" lengthAdjust="spacingAndGlyphs" style="font-size:2.7px;fill:#3a3a3a">ICCs</text>
<text x="734.7" y="378.69" textLength="4.45" lengthAdjust="spacingAndGlyphs" style="font-size:2.7px;fill:#3a3a3a">B−Cells</text>
<text x="734.7" y="381.71" textLength="4.95" lengthAdjust="spacingAndGlyphs" style="font-size:2.7px;fill:#3a3a3a">Proximal S2 (2)</text>
<text x="734.7" y="384.74" textLength="4.20" lengthAdjust="spacingAndGlyphs" style="font-size:2.7px;fill:#3a3a3a">Proximal Progenitor</text>
<text x="734.7" y="387.76" textLength="4.70" lengthAdjust="spacingAndGlyphs" style="font-size:2.7px;fill:#3a3a3a">Venous (L)</text>
<text x="734.7" y="390.78" textLength="5.20" lengthAdjust="spacingAndGlyphs" style="font-size:2.7px;fill:#3a3a3a">Fibroblast Progenitor</text>
<text x="734.7" y="393.80" textLength="4.45" lengthAdjust="spacingAndGlyphs" style="font-size:2.7px;fill:#3a3a3a">Macrophages SPP1+</text>
<text x="734.7" y="396.82" textLength="4.95" lengthAdjust="spacingAndGlyphs" style="font-size:2.7px;fill:#3a3a3a">S1</text>
<text x="734.7" y="399.84" textLength="4.20" lengthAdjust="spacingAndGlyphs" style="font-size:2.7px;fill:#3a3a3a">EECs</text>
<text x="734.7" y="402.86" textLength="4.70" lengthAdjust="spacingAndGlyphs" style="font-size:2.7px;fill:#3a3a3a">Arterial (CP)</text>
<text x="734.7" y="405.89" textLength="5.20" lengthAdjust="spacingAndGlyphs" style="font-size:2.7px;fill:#3a3a3a">S3 Progenitor</text>
<text x="734.7" y="408.91" textLength="4.45" lengthAdjust="spacingAndGlyphs" style="font-size:2.7px;fill:#3a3a3a">Mast</text>
<text x="734.7" y="411.93" textLength="4.95" lengthAdjust="spacingAndGlyphs" style="font-size:2.7px;fill:#3a3a3a">Myofibroblasts G2M−phase</text>
<text x="734.7" y="414.95" textLength="4.20" lengthAdjust="spacingAndGlyphs" style="font-size:2.7px;fill:#3a3a3a">IM Progenitor</text>
<text x="734.7" y="417.97" textLength="4.70" lengthAdjust="spacingAndGlyphs" style="font-size:2.7px;fill:#3a3a3a">Neuroendocrine (2)</text>
<text x="734.7" y="420.99" textLength="5.20" lengthAdjust="spacingAndGlyphs" style="font-size:2.7px;fill:#3a3a3a">S3</text>
<text x="734.7" y="424.01" textLength="4.45" lengthAdjust="spacingAndGlyphs" style="font-size:2.7px;fill:#3a3a3a">Proximal Enterocytes</text>
<text x="734.7" y="427.03" textLength="4.95" lengthAdjust="spacingAndGlyphs" style="font-size:2.7px;fill:#3a3a3a">Differentiating Submucosal Glial</text>
<text x="734.7" y="430.06" textLength="4.20" lengthAdjust="spacingAndGlyphs" style="font-size:2.7px;fill:#3a3a3a">OM</text>
<text x="734.7" y="433.08" textLength="4.70" lengthAdjust="spacingAndGlyphs" style="font-size:2.7px;fill:#3a3a3a">Inhibitory Motor Neuron Precursor</text>
<text x="734.7" y="436.10" textLength="5.20" lengthAdjust="spacingAndGlyphs" style="font-size:2.7px;fill:#3a3a3a">Pericytes S−phase</text>
<text x="734.7" y="439.12" textLength="4.45" lengthAdjust="spacingAndGlyphs" style="font-size:2.7px;fill:#3a3a3a">Distal Mature Enterocytes</text>
<text x="734.7" y="442.14" textLength="4.95" lengthAdjust="spacingAndGlyphs" style="font-size:2.7px;fill:#3a3a3a">Submucosal Glial</text>
<text x="734.7" y="445.16" textLength="4.20" lengthAdjust="spacingAndGlyphs" style="font-size:2.7px;fill:#3a3a3a">IM PMAIP1+</text>
<text x="734.7" y="448.18" textLength="4.70" lengthAdjust="spacingAndGlyphs" style="font-size:2.7px;fill:#3a3a3a">Neuroendocrine (1)</text>
<text x="734.7" y="451.20" textLength="5.20" lengthAdjust="spacingAndGlyphs" style="font-size:2.7px;fill:#3a3a3a">Undifferentiated Pericytes</text>
<text x="734.7" y="454.23" textLength="4.45" lengthAdjust="spacingAndGlyphs" style="font-size:2.7px;fill:#3a3a3a">Distal TA</text>
<text x="734.7" y="457.25" textLength="4.95" lengthAdjust="spacingAndGlyphs" style="font-size:2.7px;fill:#3a3a3a">Endothelium G2M−phase</text>
<text x="734.7" y="460.27" textLength="4.20" lengthAdjust="spacingAndGlyphs" style="font-size:2.7px;fill:#3a3a3a">Myofibroblasts S−phase</text>
<text x="734.7" y="463.29" textLength="4.70" lengthAdjust="spacingAndGlyphs" style="font-size:2.7px;fill:#3a3a3a">Type 3 ILCs</text>
<text x="734.7" y="466.31" textLength="5.20" lengthAdjust="spacingAndGlyphs" style="font-size:2.7px;fill:#3a3a3a">Distal S2</text>
<text x="734.7" y="469.33" textLength="4.45" lengthAdjust="spacingAndGlyphs" style="font-size:2.7px;fill:#3a3a3a">Distal Absorptive</text>
<text x="734.7" y="472.35" textLength="4.95" lengthAdjust="spacingAndGlyphs" style="font-size:2.7px;fill:#3a3a3a">Venous (M) 2</text>
<text x="734.7" y="475.37" textLength="4.20" lengthAdjust="spacingAndGlyphs" style="font-size:2.7px;fill:#3a3a3a">S4 CCL21+</text>
<text x="734.7" y="478.40" textLength="4.70" lengthAdjust="spacingAndGlyphs" style="font-size:2.7px;fill:#3a3a3a">NKs &amp; GDs</text>
<text x="734.7" y="481.42" textLength="5.20" lengthAdjust="spacingAndGlyphs" style="font-size:2.7px;fill:#3a3a3a">S4 CXCL13+</text>
<text x="734.7" y="484.44" textLength="4.45" lengthAdjust="spacingAndGlyphs" style="font-size:2.7px;fill:#3a3a3a">Proximal TA</text>
<text x="734.7" y="487.46" textLength="4.95" lengthAdjust="spacingAndGlyphs" style="font-size:2.7px;fill:#3a3a3a">Venous (CP) 1</text>
<text x="734.7" y="490.48" textLength="4.20" lengthAdjust="spacingAndGlyphs" style="font-size:2.7px;fill:#3a3a3a">Fibroblasts S−phase</text>
<text x="734.7" y="493.50" textLength="4.70" lengthAdjust="spacingAndGlyphs" style="font-size:2.7px;fill:#3a3a3a">DCs</text>
<text x="734.7" y="496.52" textLength="5.20" lengthAdjust="spacingAndGlyphs" style="font-size:2.7px;fill:#3a3a3a">Mesothelium IL18+</text>
<text x="734.7" y="499.54" textLength="4.45" lengthAdjust="spacingAndGlyphs" style="font-size:2.7px;fill:#3a3a3a">Distal MM</text>
<text x="734.7" y="502.57" textLength="4.95" lengthAdjust="spacingAndGlyphs" style="font-size:2.7px;fill:#3a3a3a">Arterial (L)</text>
<text x="734.7" y="505.59" textLength="4.20" lengthAdjust="spacingAndGlyphs" style="font-size:2.7px;fill:#3a3a3a">S3 Transitional</text>
<text x="734.7" y="508.61" textLength="4.70" lengthAdjust="spacingAndGlyphs" style="font-size:2.7px;fill:#3a3a3a">pDCs</text>
<text x="734.7" y="511.63" textLength="5.20" lengthAdjust="spacingAndGlyphs" style="font-size:2.7px;fill:#3a3a3a">Pericyte Progenitors</text>
<text x="734.7" y="514.65" textLength="4.45" lengthAdjust="spacingAndGlyphs" style="font-size:2.7px;fill:#3a3a3a">Muscularis S−phase</text>
<text x="734.7" y="517.67" textLength="4.95" lengthAdjust="spacingAndGlyphs" style="font-size:2.7px;fill:#3a3a3a">Inhibitory Motor Neuron</text>
<text x="734.7" y="520.69" textLength="4.20" lengthAdjust="spacingAndGlyphs" style="font-size:2.7px;fill:#3a3a3a">Contractile Pericytes</text>
<text x="734.7" y="523.71" textLength="4.70" lengthAdjust="spacingAndGlyphs" style="font-size:2.7px;fill:#3a3a3a">Proximal Early Enterocytes</text>
<text x="734.7" y="526.74" textLength="5.20" lengthAdjust="spacingAndGlyphs" style="font-size:2.7px;fill:#3a3a3a">Neural G2M− &amp; S−phase</text>
<text x="734.7" y="529.76" textLength="4.45" lengthAdjust="spacingAndGlyphs" style="font-size:2.7px;fill:#3a3a3a">Proximal IM</text>
<text x="734.7" y="532.78" textLength="4.95" lengthAdjust="spacingAndGlyphs" style="font-size:2.7px;fill:#3a3a3a">ENS Progenitors</text>
<text x="734.7" y="535.80" textLength="4.20" lengthAdjust="spacingAndGlyphs" style="font-size:2.7px;fill:#3a3a3a">Pericytes G2M−phase</text>
<text x="734.7" y="538.82" textLength="4.70" lengthAdjust="spacingAndGlyphs" style="font-size:2.7px;fill:#3a3a3a">Goblets</text>
<text x="734.7" y="541.84" textLength="5.20" lengthAdjust="spacingAndGlyphs" style="font-size:2.7px;fill:#3a3a3a">Intraganglionic Glial</text>
<text x="734.7" y="544.86" textLength="4.45" lengthAdjust="spacingAndGlyphs" style="font-size:2.7px;fill:#3a3a3a">Myofibroblasts</text>
<text x="734.7" y="547.89" textLength="4.95" lengthAdjust="spacingAndGlyphs" style="font-size:2.7px;fill:#3a3a3a">Erythroid</text>
<text x="734.7" y="550.91" textLength="4.20" lengthAdjust="spacingAndGlyphs" style="font-size:2.7px;fill:#3a3a3a">WNT6+ Pericytes</text>
<text x="734.7" y="553.93" textLength="4.70" lengthAdjust="spacingAndGlyphs" style="font-size:2.7px;fill:#3a3a3a">Distal Stem Cells</text>
<text x="734.7" y="556.95" textLength="5.20" lengthAdjust="spacingAndGlyphs" style="font-size:2.7px;fill:#3a3a3a">Endothelium S−phase</text>
<text x="734.7" y="559.97" textLength="4.45" lengthAdjust="spacingAndGlyphs" style="font-size:2.7px;fill:#3a3a3a">PDGFRA+ Cells</text>
<text x="734.7" y="562.99" textLength="4.95" lengthAdjust="spacingAndGlyphs" style="font-size:2.7px;fill:#3a3a3a">Naive T−Cells</text>
<text x="734.7" y="566.01" textLength="4.20" lengthAdjust="spacingAndGlyphs" style="font-size:2.7px;fill:#3a3a3a">Proximal S2 (1)</text>
<text x="734.7" y="569.03" textLength="4.70" lengthAdjust="spacingAndGlyphs" style="font-size:2.7px;fill:#3a3a3a">Distal Enterocytes</text>
<text x="734.7" y="572.06" textLength="5.20" lengthAdjust="spacingAndGlyphs" style="font-size:2.7px;fill:#3a3a3a">Venous (CP) 2</text>
<text x="734.7" y="575.08" textLength="4.45" lengthAdjust="spacingAndGlyphs" style="font-size:2.7px;fill:#3a3a3a">S3 EBF+</text>
<text x="734.7" y="578.10" textLength="4.95" lengthAdjust="spacingAndGlyphs" style="font-size:2.7px;fill:#3a3a3a">Macrophages</text>
<text x="734.7" y="581.12" textLength="4.20" lengthAdjust="spacingAndGlyphs" style="font-size:2.7px;fill:#3a3a3a">S1 COL6A5+</text>
<text x="734.7" y="584.14" textLength="4.70" lengthAdjust="spacingAndGlyphs" style="font-size:2.7px;fill:#3a3a3a">Secretory Progenitors</text>
<text x="734.7" y="587.16" textLength="5.20" lengthAdjust="spacingAndGlyphs" style="font-size:2.7px;fill:#3a3a3a">Venous (M) 1</text>
<text x="734.7" y="590.18" textLength="4.45" lengthAdjust="spacingAndGlyphs" style="font-size:2.7px;fill:#3a3a3a">Fibroblasts G2M−phase</text>
<text x="734.7" y="593.20" textLength="4.95" lengthAdjust="spacingAndGlyphs" style="font-size:2.7px;fill:#3a3a3a">Monocytes</text>
<text x="734.7" y="596.23" textLength="4.20" lengthAdjust="spacingAndGlyphs" style="font-size:2.7px;fill:#3a3a3a">Mesothelium SOX6+</text>
<text x="734.7" y="599.25" textLength="4.70" lengthAdjust="spacingAndGlyphs" style="font-size:2.7px;fill:#3a3a3a">Proximal MM</text>
<text x="734.7" y="602.27" textLength="5.20" lengthAdjust="spacingAndGlyphs" style="font-size:2.7px;fill:#3a3a3a">Arterial (M)</text>
<text x="734.7" y="605.29" textLength="4.45" lengthAdjust="spacingAndGlyphs" style="font-size:2.7px;fill:#3a3a3a">S3 HAND1+</text>
<text x="442" y="608.9" textLength="292" lengthAdjust="spacingAndGlyphs" style="font-size:2.6px;fill:#333">Cell Cycl Neuroendo Venous (C Myofibrob Pericytes ICCs Distal MM Proximal  Type 3 IL Venous (M Different WNT6+ Per Fibroblas Musculari Proximal  NKs &amp; GDs Arterial  Submucosa Proximal  S3 Progen Proximal  BEST4/OTO DCs Interneur Endotheli S1 COL6A5 S3 Myofibrob Proximal  pDCs Excitory  Venous (M Mesotheli Pericytes PDGFRA+ C EECs Proximal  pre B−Cel Venous (C Lymphoid  Undiffere S3 EBF+ IM Progen Goblets B−Cells Arterial  Glial Pro Distal S2 Fibroblas OM Distal St Macrophag Inhibitor Lymphatic S4 CXCL13 S3 HAND1+ IM PMAIP1 Distal En Mast ENS Proge</text>
<text x="442" y="611.6" textLength="292" lengthAdjust="spacingAndGlyphs" style="font-size:2.6px;fill:#444">Cell Cy Endothe S3 Tran Distal  Arteria BMPER+  Secreto ENS Pro S4 CXCL OM B−Cells Lymphoi PDGFRA+ pDCs Endothe S3 Prog Proxima Venous  Pericyt Proxima Inhibit Proxima Muscula Naive T Pericyt Myofibr Mast Lymphat Fibrobl Goblets Venous  Pericyt Proxima Interne Proxima Muscula Type 3  Myofibr Myofibr Monocyt Intraga Fibrobl Distal  Venous  Angioge Distal  Inhibit Distal  IM Prog pre B−C Mesothe Myofibr DCs Submuco Fibrobl Proxima Venous  Contrac Distal  Neuroen</text>
<linearGradient id="gV" x1="0" y1="1" x2="0" y2="0"><stop offset="0" stop-color="#1c1446"/><stop offset="0.28" stop-color="#3a4a8a"/><stop offset="0.56" stop-color="#2a8a8a"/><stop offset="0.84" stop-color="#8ad050"/><stop offset="1" stop-color="#f0e626"/></linearGradient>
<rect x="752.2" y="416.6" width="6.5" height="93.6" fill="url(#gV)"/>
<text x="761.2" y="433.0" class="lg">150</text>
<text x="761.2" y="460.2" class="lg">100</text>
<text x="761.2" y="486.40000000000003" class="lg">50</text>
<text x="761.2" y="512.6" class="lg">0</text>
<text x="735.2" y="320.8" class="lg" style="font-weight:bold;font-size:4.9px">Compartment</text>
<text x="751" y="527.9" class="lg" style="font-weight:bold;font-size:5.9px">Compartment</text>
<rect x="751" y="529.30" width="8.8" height="8.49" fill="#d88080"/>
<text x="761.5" y="535.30" class="lg">Endothelium</text>
<rect x="751" y="537.79" width="8.8" height="8.49" fill="#6cb8a4"/>
<text x="761.5" y="543.79" class="lg">Epithelium</text>
<rect x="751" y="546.28" width="8.8" height="8.49" fill="#dca431"/>
<text x="761.5" y="552.28" class="lg">Fibroblasts</text>
<rect x="751" y="554.77" width="8.8" height="8.49" fill="#b45fa8"/>
<text x="761.5" y="560.77" class="lg">Immune</text>
<rect x="751" y="563.26" width="8.8" height="8.49" fill="#76b4e6"/>
<text x="761.5" y="569.26" class="lg">Mesothelium</text>
<rect x="751" y="571.75" width="8.8" height="8.49" fill="#7fb23e"/>
<text x="761.5" y="577.75" class="lg">Muscularis</text>
<rect x="751" y="580.24" width="8.8" height="8.49" fill="#9a98d6"/>
<text x="761.5" y="586.24" class="lg">Myofibroblasts</text>
<rect x="751" y="588.73" width="8.8" height="8.49" fill="#86a2e0"/>
<text x="761.5" y="594.73" class="lg">Neural</text>
<rect x="751" y="597.22" width="8.8" height="8.49" fill="#b474c4"/>
<text x="761.5" y="603.22" class="lg">Pericytes</text>
</svg></body></html>
